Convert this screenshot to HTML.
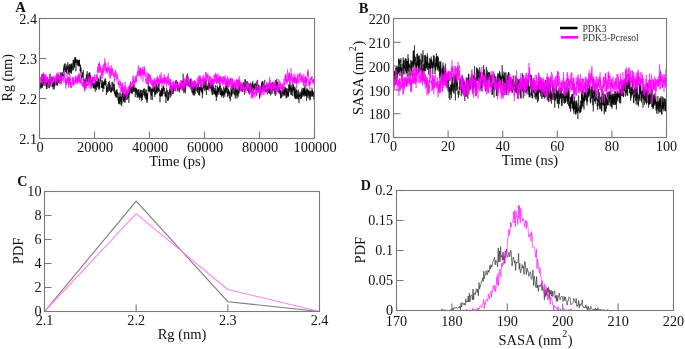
<!DOCTYPE html>
<html><head><meta charset="utf-8"><style>html,body{margin:0;padding:0;background:#fff;width:685px;height:349px;overflow:hidden}svg{display:block;filter:blur(0.35px)}text{font-family:"Liberation Serif",serif}</style></head>
<body><svg width="685" height="349" viewBox="0 0 685 349">
<rect width="685" height="349" fill="#fff"/>
<polyline fill="none" stroke="#000" stroke-width="0.55" stroke-opacity="1.0" stroke-linejoin="round" points="39.5,82.1 39.6,84.0 39.7,84.0 39.8,85.0 39.9,89.3 40.1,83.0 40.2,82.6 40.3,82.4 40.4,82.5 40.5,82.8 40.6,85.0 40.7,83.2 40.8,87.7 40.9,83.5 41.0,88.5 41.2,83.3 41.3,82.3 41.4,84.5 41.5,82.3 41.6,84.5 41.7,84.7 41.8,87.7 41.9,74.1 42.0,80.3 42.1,81.8 42.3,81.2 42.4,80.7 42.5,87.6 42.6,75.1 42.7,84.2 42.8,82.8 42.9,82.6 43.0,86.1 43.1,82.1 43.2,82.9 43.4,83.4 43.5,81.4 43.6,73.7 43.7,75.3 43.8,74.5 43.9,79.4 44.0,80.1 44.1,84.2 44.2,77.9 44.3,78.1 44.5,78.8 44.6,83.7 44.7,79.0 44.8,84.5 44.9,85.8 45.0,85.3 45.1,78.1 45.2,79.2 45.3,83.9 45.4,76.4 45.6,81.7 45.7,78.2 45.8,84.1 45.9,83.3 46.0,81.5 46.1,84.5 46.2,82.8 46.3,83.1 46.4,89.0 46.5,85.7 46.7,85.6 46.8,87.1 46.9,83.9 47.0,89.0 47.1,87.6 47.2,85.5 47.3,84.5 47.4,82.2 47.5,79.8 47.6,78.7 47.8,84.3 47.9,83.9 48.0,79.4 48.1,85.5 48.2,81.2 48.3,81.6 48.4,79.7 48.5,80.6 48.6,86.6 48.7,86.1 48.9,82.9 49.0,87.9 49.1,85.3 49.2,85.2 49.3,88.2 49.4,86.1 49.5,83.4 49.6,79.2 49.7,84.3 49.8,73.8 50.0,78.9 50.1,79.0 50.2,80.8 50.3,84.0 50.4,79.6 50.5,79.1 50.6,79.9 50.7,86.3 50.8,83.4 50.9,81.2 51.1,79.1 51.2,79.5 51.3,80.3 51.4,77.9 51.5,78.4 51.6,77.1 51.7,76.6 51.8,76.6 51.9,80.8 52.0,76.8 52.2,87.2 52.3,85.5 52.4,84.9 52.5,86.7 52.6,79.8 52.7,79.3 52.8,82.3 52.9,85.7 53.0,85.2 53.1,89.3 53.3,86.7 53.4,85.3 53.5,85.4 53.6,83.0 53.7,84.0 53.8,82.9 53.9,81.6 54.0,86.2 54.1,79.4 54.2,89.2 54.4,89.3 54.5,83.4 54.6,86.6 54.7,81.0 54.8,78.5 54.9,83.1 55.0,85.0 55.1,84.4 55.2,80.3 55.3,82.9 55.5,79.4 55.6,82.6 55.7,80.4 55.8,83.5 55.9,80.6 56.0,83.5 56.1,80.7 56.2,79.3 56.3,83.2 56.4,79.8 56.6,80.4 56.7,82.4 56.8,79.0 56.9,85.1 57.0,77.3 57.1,76.7 57.2,85.8 57.3,75.2 57.4,85.3 57.5,82.8 57.7,83.1 57.8,78.2 57.9,80.4 58.0,76.3 58.1,80.1 58.2,76.4 58.3,76.5 58.4,77.4 58.5,79.3 58.6,83.0 58.8,82.0 58.9,78.8 59.0,78.4 59.1,78.8 59.2,82.8 59.3,80.2 59.4,76.9 59.5,75.5 59.6,80.4 59.7,78.0 59.9,79.0 60.0,77.1 60.1,78.0 60.2,78.2 60.3,80.8 60.4,77.7 60.5,78.9 60.6,73.9 60.7,72.4 60.8,77.2 61.0,80.3 61.1,82.3 61.2,78.7 61.3,74.6 61.4,77.6 61.5,77.5 61.6,78.6 61.7,80.7 61.8,74.6 61.9,72.8 62.1,74.9 62.2,72.7 62.3,72.1 62.4,74.8 62.5,74.2 62.6,75.3 62.7,76.4 62.8,74.9 62.9,75.5 63.0,74.7 63.2,74.4 63.3,76.2 63.4,73.2 63.5,67.8 63.6,71.1 63.7,70.5 63.8,71.2 63.9,72.3 64.0,66.4 64.1,65.2 64.3,69.9 64.4,63.7 64.5,66.8 64.6,67.3 64.7,66.9 64.8,66.7 64.9,67.6 65.0,70.5 65.1,66.9 65.3,63.5 65.4,66.5 65.5,67.9 65.6,72.0 65.7,70.5 65.8,67.6 65.9,71.4 66.0,71.7 66.1,69.0 66.2,68.5 66.4,69.5 66.5,73.5 66.6,68.4 66.7,66.3 66.8,69.7 66.9,64.4 67.0,64.3 67.1,67.6 67.2,66.6 67.3,68.1 67.5,67.9 67.6,69.6 67.7,68.7 67.8,66.9 67.9,62.4 68.0,73.9 68.1,71.3 68.2,71.2 68.3,69.5 68.4,68.9 68.6,71.6 68.7,70.9 68.8,65.2 68.9,72.5 69.0,66.4 69.1,69.0 69.2,75.5 69.3,67.0 69.4,69.1 69.5,71.5 69.7,68.4 69.8,63.9 69.9,67.5 70.0,68.6 70.1,64.5 70.2,72.1 70.3,70.4 70.4,73.1 70.5,72.4 70.6,72.5 70.8,68.7 70.9,64.9 71.0,69.2 71.1,66.4 71.2,71.7 71.3,63.8 71.4,68.7 71.5,73.8 71.6,64.2 71.7,64.3 71.9,66.1 72.0,69.4 72.1,63.0 72.2,67.0 72.3,66.4 72.4,65.9 72.5,66.6 72.6,70.6 72.7,70.2 72.8,65.9 73.0,65.2 73.1,64.5 73.2,59.9 73.3,62.2 73.4,64.2 73.5,59.8 73.6,69.9 73.7,61.4 73.8,64.4 73.9,63.7 74.1,62.9 74.2,67.1 74.3,63.2 74.4,61.5 74.5,67.8 74.6,66.1 74.7,59.1 74.8,57.2 74.9,63.4 75.0,61.4 75.2,57.5 75.3,62.6 75.4,58.9 75.5,62.3 75.6,61.9 75.7,57.4 75.8,63.1 75.9,71.3 76.0,63.0 76.1,62.6 76.3,60.8 76.4,61.5 76.5,62.8 76.6,62.7 76.7,59.3 76.8,61.3 76.9,60.8 77.0,61.4 77.1,65.0 77.2,64.0 77.4,61.5 77.5,59.8 77.6,64.4 77.7,60.1 77.8,61.5 77.9,63.6 78.0,64.4 78.1,66.1 78.2,60.0 78.3,66.5 78.5,62.8 78.6,65.1 78.7,61.7 78.8,62.6 78.9,59.9 79.0,64.9 79.1,60.4 79.2,65.5 79.3,60.5 79.4,59.7 79.6,64.0 79.7,66.5 79.8,63.9 79.9,64.7 80.0,65.2 80.1,65.1 80.2,71.4 80.3,68.9 80.4,71.6 80.5,65.1 80.7,68.3 80.8,72.7 80.9,71.4 81.0,67.5 81.1,76.0 81.2,76.2 81.3,75.7 81.4,78.0 81.5,76.6 81.6,76.6 81.8,80.4 81.9,78.3 82.0,76.3 82.1,73.5 82.2,72.8 82.3,72.6 82.4,76.8 82.5,72.3 82.6,75.2 82.7,77.1 82.9,77.6 83.0,77.0 83.1,74.7 83.2,74.3 83.3,69.9 83.4,71.7 83.5,72.4 83.6,77.7 83.7,80.8 83.8,78.6 84.0,79.9 84.1,79.6 84.2,84.6 84.3,81.8 84.4,81.5 84.5,79.8 84.6,83.7 84.7,86.2 84.8,83.1 84.9,83.5 85.1,88.6 85.2,82.7 85.3,87.4 85.4,79.8 85.5,83.5 85.6,84.3 85.7,77.9 85.8,82.9 85.9,82.5 86.0,79.9 86.2,81.8 86.3,79.9 86.4,75.1 86.5,78.3 86.6,74.0 86.7,76.4 86.8,75.1 86.9,79.0 87.0,75.5 87.1,76.1 87.3,71.2 87.4,77.2 87.5,80.9 87.6,74.6 87.7,81.7 87.8,80.0 87.9,74.5 88.0,78.2 88.1,82.7 88.2,81.8 88.4,81.7 88.5,81.9 88.6,76.3 88.7,78.5 88.8,73.4 88.9,74.6 89.0,80.7 89.1,81.0 89.2,80.5 89.3,72.6 89.5,76.4 89.6,74.9 89.7,82.5 89.8,74.0 89.9,72.5 90.0,75.4 90.1,77.9 90.2,75.8 90.3,77.4 90.5,79.2 90.6,79.4 90.7,75.0 90.8,75.7 90.9,82.1 91.0,79.4 91.1,83.6 91.2,85.5 91.3,83.3 91.4,81.1 91.6,84.8 91.7,79.9 91.8,85.7 91.9,82.1 92.0,84.5 92.1,81.0 92.2,78.1 92.3,79.9 92.4,79.9 92.5,79.8 92.7,78.4 92.8,82.4 92.9,85.9 93.0,87.4 93.1,84.4 93.2,82.8 93.3,85.5 93.4,87.8 93.5,83.9 93.6,88.2 93.8,88.3 93.9,85.9 94.0,86.1 94.1,88.5 94.2,85.3 94.3,82.9 94.4,85.8 94.5,86.7 94.6,87.6 94.7,87.4 94.9,84.7 95.0,85.3 95.1,88.5 95.2,91.8 95.3,79.4 95.4,89.1 95.5,85.5 95.6,83.7 95.7,81.4 95.8,82.2 96.0,81.9 96.1,85.5 96.2,84.2 96.3,87.2 96.4,83.3 96.5,90.1 96.6,88.3 96.7,81.1 96.8,86.1 96.9,84.0 97.1,80.8 97.2,84.3 97.3,85.7 97.4,87.3 97.5,82.4 97.6,85.1 97.7,84.6 97.8,84.3 97.9,85.4 98.0,77.5 98.2,80.9 98.3,85.8 98.4,78.8 98.5,81.0 98.6,89.3 98.7,81.6 98.8,85.4 98.9,87.6 99.0,84.4 99.1,87.4 99.3,85.4 99.4,81.9 99.5,89.6 99.6,82.5 99.7,81.9 99.8,82.2 99.9,83.7 100.0,78.8 100.1,80.9 100.2,75.6 100.4,78.9 100.5,78.4 100.6,78.3 100.7,78.6 100.8,81.2 100.9,80.6 101.0,81.9 101.1,80.7 101.2,83.8 101.3,88.0 101.5,83.7 101.6,83.3 101.7,85.3 101.8,87.4 101.9,86.7 102.0,85.2 102.1,82.5 102.2,88.0 102.3,80.2 102.4,87.9 102.6,85.2 102.7,87.0 102.8,85.4 102.9,91.9 103.0,85.4 103.1,82.1 103.2,85.7 103.3,84.4 103.4,86.5 103.5,88.4 103.7,81.9 103.8,87.3 103.9,87.9 104.0,88.9 104.1,81.3 104.2,85.2 104.3,81.2 104.4,80.6 104.5,80.3 104.6,80.4 104.8,82.2 104.9,84.5 105.0,82.5 105.1,78.4 105.2,83.2 105.3,79.1 105.4,80.9 105.5,85.4 105.6,81.2 105.7,84.0 105.9,82.4 106.0,80.9 106.1,85.9 106.2,86.0 106.3,94.2 106.4,95.0 106.5,94.3 106.6,86.6 106.7,91.9 106.8,88.3 107.0,87.7 107.1,86.7 107.2,84.4 107.3,86.7 107.4,88.2 107.5,92.7 107.6,90.9 107.7,88.4 107.8,87.2 107.9,88.8 108.1,91.9 108.2,89.6 108.3,87.6 108.4,82.8 108.5,82.0 108.6,88.7 108.7,89.1 108.8,90.8 108.9,86.8 109.0,85.6 109.2,83.0 109.3,84.3 109.4,80.8 109.5,89.4 109.6,89.6 109.7,90.9 109.8,83.5 109.9,84.3 110.0,90.3 110.1,89.8 110.3,85.0 110.4,87.3 110.5,88.5 110.6,88.3 110.7,91.9 110.8,90.8 110.9,90.3 111.0,92.8 111.1,91.2 111.2,92.0 111.4,87.7 111.5,91.7 111.6,87.5 111.7,89.3 111.8,90.0 111.9,89.4 112.0,81.8 112.1,91.1 112.2,89.7 112.3,89.6 112.5,88.5 112.6,90.4 112.7,90.0 112.8,82.1 112.9,84.0 113.0,85.5 113.1,84.5 113.2,85.1 113.3,88.0 113.4,84.6 113.6,86.0 113.7,86.6 113.8,89.4 113.9,91.7 114.0,88.0 114.1,89.7 114.2,87.7 114.3,93.2 114.4,83.5 114.6,90.6 114.7,94.4 114.8,92.3 114.9,89.7 115.0,89.8 115.1,94.2 115.2,92.9 115.3,96.1 115.4,94.0 115.5,92.2 115.7,92.0 115.8,95.3 115.9,97.6 116.0,93.3 116.1,91.3 116.2,91.2 116.3,93.4 116.4,97.6 116.5,90.2 116.6,93.4 116.8,91.9 116.9,95.3 117.0,89.3 117.1,94.3 117.2,92.6 117.3,92.2 117.4,94.4 117.5,92.9 117.6,96.7 117.7,97.3 117.9,96.3 118.0,100.6 118.1,96.1 118.2,93.1 118.3,95.7 118.4,96.0 118.5,97.8 118.6,103.7 118.7,97.8 118.8,102.0 119.0,101.0 119.1,103.9 119.2,97.2 119.3,97.4 119.4,98.0 119.5,97.0 119.6,104.3 119.7,104.2 119.8,92.3 119.9,97.8 120.1,101.7 120.2,96.4 120.3,99.0 120.4,99.6 120.5,100.1 120.6,101.0 120.7,101.9 120.8,104.7 120.9,93.3 121.0,99.3 121.2,97.1 121.3,101.0 121.4,98.7 121.5,102.3 121.6,100.9 121.7,106.3 121.8,96.5 121.9,99.9 122.0,103.5 122.1,97.9 122.3,97.0 122.4,93.5 122.5,97.5 122.6,95.6 122.7,97.1 122.8,93.6 122.9,94.0 123.0,90.9 123.1,99.7 123.2,91.1 123.4,97.0 123.5,98.5 123.6,101.9 123.7,100.1 123.8,96.1 123.9,100.0 124.0,94.3 124.1,100.8 124.2,98.5 124.3,97.2 124.5,97.2 124.6,99.4 124.7,94.3 124.8,102.6 124.9,96.4 125.0,102.4 125.1,98.4 125.2,99.3 125.3,91.8 125.4,98.6 125.6,95.6 125.7,93.5 125.8,98.6 125.9,94.1 126.0,94.2 126.1,96.0 126.2,95.9 126.3,96.8 126.4,96.8 126.5,99.7 126.7,94.6 126.8,91.7 126.9,96.9 127.0,93.0 127.1,90.2 127.2,90.1 127.3,99.6 127.4,94.3 127.5,98.3 127.6,91.4 127.8,91.4 127.9,96.7 128.0,91.9 128.1,92.3 128.2,93.2 128.3,91.9 128.4,97.6 128.5,93.3 128.6,97.8 128.7,92.0 128.9,102.9 129.0,97.2 129.1,96.8 129.2,88.2 129.3,93.3 129.4,88.7 129.5,88.8 129.6,88.9 129.7,94.4 129.8,91.1 130.0,89.2 130.1,88.1 130.2,88.9 130.3,89.6 130.4,91.0 130.5,89.2 130.6,88.5 130.7,85.2 130.8,91.1 130.9,92.7 131.1,90.2 131.2,93.0 131.3,86.8 131.4,89.0 131.5,91.5 131.6,88.1 131.7,87.1 131.8,91.3 131.9,91.3 132.0,94.1 132.2,90.5 132.3,89.3 132.4,91.2 132.5,93.4 132.6,92.7 132.7,92.0 132.8,87.6 132.9,87.1 133.0,85.2 133.1,91.0 133.3,84.6 133.4,87.4 133.5,91.8 133.6,85.0 133.7,90.1 133.8,85.7 133.9,88.9 134.0,90.8 134.1,87.2 134.2,86.1 134.4,87.2 134.5,89.0 134.6,89.5 134.7,87.3 134.8,91.7 134.9,87.2 135.0,87.7 135.1,92.1 135.2,97.2 135.3,92.3 135.5,93.2 135.6,90.8 135.7,90.8 135.8,88.0 135.9,92.4 136.0,89.5 136.1,89.7 136.2,92.1 136.3,88.1 136.4,94.6 136.6,92.7 136.7,89.7 136.8,92.2 136.9,92.0 137.0,94.9 137.1,94.3 137.2,97.6 137.3,95.9 137.4,96.3 137.5,89.9 137.7,92.7 137.8,97.4 137.9,97.0 138.0,94.2 138.1,92.9 138.2,96.2 138.3,89.2 138.4,91.0 138.5,89.8 138.6,95.3 138.8,89.2 138.9,92.3 139.0,97.5 139.1,94.7 139.2,95.4 139.3,95.3 139.4,95.0 139.5,99.7 139.6,92.7 139.8,93.9 139.9,97.6 140.0,96.2 140.1,90.5 140.2,97.6 140.3,94.8 140.4,95.1 140.5,91.3 140.6,89.7 140.7,94.6 140.9,93.0 141.0,92.6 141.1,89.9 141.2,97.9 141.3,93.8 141.4,101.2 141.5,93.1 141.6,95.8 141.7,97.1 141.8,94.4 142.0,90.4 142.1,91.3 142.2,91.8 142.3,92.7 142.4,100.0 142.5,94.7 142.6,96.9 142.7,95.0 142.8,92.4 142.9,89.9 143.1,93.3 143.2,95.4 143.3,95.0 143.4,94.2 143.5,89.4 143.6,89.5 143.7,90.6 143.8,91.2 143.9,92.5 144.0,88.6 144.2,90.0 144.3,88.5 144.4,93.8 144.5,94.8 144.6,91.6 144.7,96.3 144.8,93.5 144.9,91.5 145.0,93.0 145.1,98.3 145.3,89.5 145.4,94.4 145.5,93.3 145.6,95.9 145.7,94.0 145.8,99.5 145.9,98.6 146.0,95.2 146.1,94.6 146.2,95.8 146.4,96.2 146.5,89.6 146.6,99.5 146.7,95.3 146.8,99.0 146.9,93.9 147.0,103.0 147.1,98.4 147.2,101.2 147.3,93.3 147.5,93.0 147.6,99.2 147.7,96.8 147.8,94.0 147.9,93.6 148.0,92.3 148.1,89.1 148.2,84.1 148.3,82.2 148.4,89.3 148.6,90.5 148.7,86.2 148.8,90.6 148.9,88.3 149.0,88.9 149.1,92.4 149.2,86.5 149.3,90.4 149.4,91.0 149.5,88.2 149.7,90.3 149.8,86.3 149.9,88.6 150.0,90.9 150.1,90.8 150.2,87.1 150.3,92.1 150.4,90.2 150.5,90.9 150.6,89.9 150.8,94.3 150.9,93.4 151.0,99.7 151.1,92.1 151.2,95.5 151.3,93.7 151.4,88.6 151.5,92.7 151.6,96.1 151.7,93.6 151.9,92.0 152.0,88.4 152.1,92.6 152.2,89.8 152.3,100.0 152.4,96.2 152.5,88.9 152.6,90.1 152.7,88.1 152.8,88.4 153.0,89.2 153.1,87.7 153.2,89.8 153.3,91.8 153.4,89.8 153.5,91.5 153.6,88.5 153.7,89.2 153.8,86.8 153.9,90.5 154.1,85.5 154.2,89.3 154.3,87.1 154.4,91.2 154.5,87.5 154.6,93.7 154.7,97.0 154.8,91.9 154.9,85.9 155.0,94.2 155.2,91.2 155.3,93.4 155.4,91.7 155.5,93.3 155.6,94.7 155.7,92.1 155.8,90.3 155.9,91.0 156.0,91.8 156.1,84.2 156.3,89.9 156.4,83.1 156.5,91.8 156.6,93.5 156.7,90.9 156.8,88.0 156.9,91.2 157.0,91.7 157.1,92.8 157.2,91.4 157.4,92.6 157.5,87.0 157.6,89.7 157.7,90.8 157.8,90.2 157.9,85.4 158.0,90.1 158.1,87.6 158.2,91.8 158.3,92.2 158.5,85.5 158.6,85.2 158.7,87.2 158.8,83.4 158.9,85.1 159.0,83.2 159.1,84.9 159.2,91.1 159.3,89.1 159.4,88.8 159.6,95.8 159.7,93.3 159.8,94.8 159.9,95.1 160.0,102.3 160.1,94.7 160.2,95.5 160.3,93.4 160.4,96.5 160.5,96.1 160.7,90.3 160.8,94.1 160.9,96.3 161.0,94.4 161.1,91.2 161.2,96.1 161.3,89.8 161.4,93.8 161.5,92.6 161.6,88.1 161.8,95.6 161.9,90.7 162.0,91.7 162.1,94.5 162.2,89.7 162.3,96.5 162.4,91.5 162.5,89.0 162.6,92.4 162.7,92.4 162.9,87.4 163.0,88.5 163.1,94.1 163.2,91.6 163.3,85.5 163.4,91.2 163.5,88.7 163.6,90.6 163.7,86.5 163.8,87.9 164.0,88.0 164.1,87.7 164.2,91.0 164.3,88.2 164.4,90.2 164.5,90.7 164.6,92.5 164.7,94.3 164.8,93.8 165.0,91.8 165.1,96.5 165.2,94.7 165.3,95.5 165.4,91.6 165.5,96.4 165.6,94.0 165.7,96.4 165.8,95.9 165.9,103.0 166.1,97.9 166.2,93.8 166.3,97.6 166.4,97.4 166.5,97.7 166.6,87.8 166.7,93.2 166.8,92.7 166.9,90.4 167.0,94.8 167.2,97.3 167.3,97.7 167.4,98.3 167.5,97.8 167.6,100.9 167.7,98.6 167.8,90.3 167.9,96.3 168.0,96.9 168.1,100.4 168.3,97.0 168.4,97.1 168.5,100.2 168.6,92.5 168.7,92.0 168.8,95.9 168.9,98.4 169.0,96.1 169.1,96.3 169.2,94.2 169.4,92.0 169.5,92.2 169.6,90.9 169.7,94.9 169.8,89.2 169.9,92.6 170.0,88.2 170.1,86.7 170.2,89.8 170.3,91.6 170.5,97.5 170.6,85.8 170.7,91.7 170.8,94.8 170.9,90.7 171.0,92.9 171.1,89.5 171.2,93.8 171.3,95.3 171.4,85.0 171.6,85.7 171.7,88.1 171.8,90.9 171.9,90.5 172.0,88.9 172.1,92.6 172.2,92.6 172.3,93.2 172.4,93.0 172.5,93.5 172.7,89.8 172.8,93.3 172.9,92.3 173.0,87.3 173.1,94.1 173.2,88.5 173.3,91.0 173.4,88.8 173.5,87.1 173.6,91.1 173.8,87.1 173.9,89.4 174.0,86.1 174.1,89.5 174.2,87.6 174.3,85.8 174.4,85.7 174.5,87.5 174.6,86.9 174.7,86.5 174.9,85.5 175.0,90.7 175.1,89.3 175.2,83.0 175.3,88.0 175.4,86.4 175.5,87.2 175.6,85.6 175.7,80.4 175.8,91.4 176.0,89.4 176.1,83.3 176.2,82.4 176.3,84.3 176.4,80.3 176.5,84.1 176.6,82.9 176.7,80.8 176.8,81.9 176.9,82.1 177.1,82.1 177.2,82.3 177.3,88.1 177.4,86.4 177.5,81.9 177.6,89.5 177.7,84.8 177.8,91.6 177.9,88.0 178.0,89.3 178.2,85.6 178.3,89.1 178.4,87.1 178.5,86.9 178.6,88.6 178.7,86.4 178.8,89.5 178.9,85.0 179.0,86.1 179.1,89.8 179.3,88.2 179.4,90.4 179.5,92.4 179.6,88.3 179.7,88.8 179.8,85.9 179.9,86.1 180.0,85.2 180.1,84.0 180.2,82.4 180.4,83.3 180.5,85.7 180.6,86.3 180.7,88.9 180.8,85.5 180.9,85.1 181.0,88.5 181.1,84.0 181.2,84.6 181.3,86.6 181.5,84.4 181.6,86.3 181.7,83.0 181.8,82.6 181.9,81.4 182.0,87.7 182.1,84.4 182.2,82.6 182.3,80.9 182.4,81.4 182.6,83.9 182.7,90.6 182.8,83.4 182.9,84.7 183.0,83.7 183.1,73.7 183.2,80.1 183.3,87.1 183.4,80.8 183.5,88.6 183.7,86.3 183.8,83.8 183.9,93.2 184.0,88.8 184.1,91.5 184.2,88.5 184.3,86.4 184.4,89.4 184.5,91.1 184.6,90.4 184.8,82.5 184.9,88.3 185.0,84.4 185.1,86.1 185.2,90.7 185.3,82.8 185.4,93.3 185.5,83.5 185.6,82.2 185.7,87.8 185.9,85.2 186.0,84.3 186.1,80.9 186.2,85.2 186.3,82.1 186.4,81.7 186.5,79.8 186.6,76.9 186.7,81.4 186.8,75.3 187.0,79.0 187.1,84.1 187.2,83.7 187.3,78.2 187.4,73.4 187.5,81.0 187.6,81.5 187.7,81.7 187.8,85.2 187.9,85.9 188.1,77.5 188.2,80.6 188.3,79.5 188.4,86.5 188.5,84.9 188.6,80.8 188.7,83.5 188.8,84.3 188.9,80.5 189.0,83.1 189.2,85.9 189.3,84.8 189.4,86.9 189.5,86.4 189.6,82.6 189.7,83.2 189.8,85.9 189.9,87.2 190.0,87.6 190.2,79.0 190.3,84.5 190.4,81.3 190.5,81.9 190.6,83.7 190.7,85.6 190.8,86.2 190.9,78.3 191.0,84.4 191.1,88.3 191.3,86.0 191.4,81.6 191.5,83.9 191.6,85.4 191.7,90.8 191.8,91.3 191.9,85.0 192.0,90.9 192.1,90.0 192.2,93.1 192.4,88.9 192.5,86.4 192.6,88.6 192.7,89.3 192.8,94.6 192.9,88.8 193.0,91.1 193.1,87.9 193.2,86.1 193.3,88.6 193.5,87.9 193.6,93.4 193.7,93.5 193.8,89.3 193.9,94.1 194.0,96.0 194.1,88.1 194.2,88.7 194.3,94.8 194.4,87.4 194.6,91.6 194.7,88.6 194.8,90.2 194.9,85.6 195.0,88.4 195.1,86.8 195.2,94.1 195.3,90.8 195.4,89.2 195.5,90.4 195.7,90.7 195.8,83.4 195.9,85.3 196.0,84.7 196.1,87.1 196.2,85.1 196.3,91.0 196.4,87.9 196.5,89.2 196.6,87.5 196.8,87.1 196.9,87.1 197.0,86.2 197.1,84.8 197.2,89.1 197.3,91.6 197.4,87.7 197.5,92.8 197.6,87.8 197.7,90.0 197.9,88.1 198.0,86.0 198.1,88.4 198.2,85.6 198.3,82.0 198.4,86.3 198.5,85.9 198.6,84.2 198.7,94.9 198.8,88.9 199.0,88.2 199.1,92.1 199.2,94.8 199.3,91.5 199.4,91.7 199.5,87.0 199.6,92.7 199.7,95.7 199.8,92.7 199.9,92.3 200.1,88.7 200.2,85.8 200.3,90.7 200.4,88.5 200.5,87.9 200.6,88.6 200.7,90.2 200.8,88.4 200.9,85.5 201.0,85.7 201.2,83.6 201.3,86.9 201.4,92.2 201.5,89.9 201.6,87.3 201.7,89.0 201.8,92.3 201.9,88.4 202.0,89.3 202.1,89.6 202.3,98.2 202.4,96.0 202.5,92.1 202.6,87.5 202.7,93.8 202.8,91.1 202.9,88.2 203.0,87.1 203.1,87.2 203.2,84.8 203.4,87.6 203.5,85.5 203.6,83.3 203.7,82.9 203.8,78.7 203.9,87.4 204.0,84.9 204.1,83.3 204.2,90.2 204.3,88.3 204.5,85.2 204.6,83.3 204.7,88.7 204.8,90.3 204.9,90.5 205.0,91.2 205.1,90.1 205.2,81.8 205.3,86.8 205.4,81.3 205.6,89.4 205.7,86.7 205.8,87.4 205.9,86.2 206.0,86.7 206.1,86.6 206.2,80.1 206.3,87.0 206.4,94.9 206.5,92.3 206.7,87.9 206.8,89.5 206.9,89.7 207.0,86.7 207.1,88.2 207.2,89.6 207.3,85.8 207.4,88.4 207.5,89.3 207.6,88.5 207.8,87.0 207.9,86.1 208.0,88.2 208.1,85.0 208.2,83.4 208.3,90.1 208.4,84.4 208.5,80.1 208.6,86.9 208.7,87.7 208.9,89.0 209.0,85.5 209.1,87.8 209.2,86.8 209.3,82.6 209.4,87.8 209.5,87.2 209.6,82.8 209.7,85.2 209.8,86.2 210.0,85.4 210.1,86.2 210.2,85.9 210.3,82.3 210.4,87.1 210.5,87.7 210.6,80.3 210.7,84.2 210.8,89.5 210.9,89.0 211.1,82.4 211.2,88.3 211.3,91.9 211.4,91.1 211.5,90.7 211.6,89.1 211.7,88.4 211.8,85.5 211.9,87.9 212.0,94.3 212.2,87.9 212.3,86.5 212.4,90.0 212.5,84.9 212.6,94.9 212.7,91.8 212.8,88.4 212.9,85.7 213.0,83.9 213.1,88.0 213.3,88.3 213.4,84.9 213.5,91.3 213.6,88.4 213.7,85.7 213.8,93.0 213.9,94.3 214.0,91.1 214.1,89.9 214.2,93.5 214.4,90.2 214.5,92.1 214.6,94.0 214.7,88.2 214.8,88.3 214.9,90.2 215.0,91.0 215.1,92.6 215.2,94.7 215.4,90.4 215.5,95.2 215.6,92.6 215.7,85.1 215.8,90.4 215.9,93.3 216.0,96.8 216.1,91.2 216.2,93.9 216.3,100.9 216.5,95.9 216.6,94.5 216.7,90.2 216.8,93.6 216.9,95.3 217.0,91.4 217.1,97.2 217.2,90.6 217.3,85.5 217.4,92.8 217.6,91.2 217.7,89.4 217.8,93.4 217.9,87.5 218.0,90.4 218.1,87.9 218.2,94.8 218.3,88.6 218.4,89.0 218.5,91.5 218.7,88.8 218.8,90.1 218.9,88.8 219.0,92.5 219.1,89.8 219.2,86.8 219.3,89.5 219.4,89.3 219.5,85.9 219.6,88.4 219.8,83.0 219.9,89.1 220.0,89.7 220.1,94.8 220.2,90.1 220.3,92.9 220.4,94.5 220.5,93.1 220.6,85.5 220.7,88.4 220.9,93.0 221.0,94.4 221.1,95.3 221.2,92.9 221.3,88.1 221.4,95.8 221.5,97.2 221.6,92.3 221.7,95.7 221.8,91.7 222.0,94.0 222.1,89.8 222.2,94.9 222.3,90.9 222.4,92.6 222.5,95.3 222.6,94.0 222.7,91.4 222.8,95.9 222.9,93.8 223.1,91.7 223.2,95.2 223.3,95.8 223.4,98.1 223.5,92.6 223.6,94.3 223.7,93.8 223.8,86.4 223.9,93.8 224.0,91.5 224.2,88.5 224.3,92.0 224.4,94.9 224.5,90.4 224.6,90.6 224.7,95.8 224.8,96.8 224.9,96.6 225.0,90.0 225.1,88.9 225.3,89.0 225.4,88.1 225.5,88.1 225.6,93.1 225.7,93.1 225.8,86.0 225.9,92.4 226.0,85.3 226.1,85.7 226.2,84.5 226.4,91.3 226.5,86.7 226.6,87.8 226.7,81.9 226.8,85.4 226.9,88.9 227.0,81.3 227.1,93.3 227.2,90.3 227.3,94.0 227.5,91.6 227.6,96.7 227.7,96.6 227.8,97.3 227.9,87.6 228.0,96.0 228.1,89.5 228.2,93.3 228.3,91.2 228.4,93.4 228.6,89.2 228.7,93.4 228.8,90.7 228.9,93.4 229.0,95.1 229.1,94.4 229.2,91.1 229.3,94.0 229.4,92.2 229.5,94.8 229.7,98.0 229.8,95.2 229.9,97.2 230.0,98.7 230.1,97.0 230.2,101.3 230.3,96.0 230.4,95.4 230.5,93.4 230.6,93.5 230.8,92.6 230.9,91.5 231.0,87.4 231.1,95.7 231.2,92.6 231.3,95.5 231.4,89.6 231.5,94.5 231.6,90.4 231.7,96.9 231.9,93.4 232.0,91.2 232.1,85.2 232.2,87.2 232.3,90.6 232.4,90.6 232.5,92.3 232.6,91.8 232.7,94.3 232.8,89.3 233.0,88.8 233.1,87.1 233.2,84.9 233.3,89.3 233.4,88.2 233.5,87.6 233.6,89.9 233.7,90.8 233.8,93.2 233.9,93.5 234.1,89.1 234.2,89.5 234.3,95.1 234.4,93.5 234.5,95.1 234.6,88.9 234.7,84.1 234.8,83.9 234.9,88.5 235.0,90.8 235.2,98.5 235.3,96.2 235.4,96.2 235.5,96.5 235.6,87.4 235.7,92.2 235.8,91.1 235.9,95.9 236.0,88.7 236.1,88.6 236.3,93.5 236.4,92.6 236.5,91.5 236.6,91.5 236.7,91.1 236.8,90.1 236.9,91.0 237.0,98.7 237.1,89.8 237.2,93.8 237.4,92.5 237.5,88.4 237.6,93.7 237.7,91.9 237.8,95.7 237.9,94.9 238.0,92.7 238.1,91.5 238.2,96.8 238.3,89.4 238.5,93.1 238.6,90.7 238.7,92.4 238.8,91.2 238.9,89.0 239.0,86.4 239.1,93.7 239.2,86.5 239.3,84.1 239.4,88.1 239.6,84.8 239.7,88.6 239.8,86.7 239.9,90.5 240.0,88.0 240.1,85.6 240.2,86.7 240.3,87.5 240.4,82.9 240.6,82.8 240.7,84.9 240.8,87.4 240.9,89.5 241.0,86.3 241.1,87.3 241.2,84.4 241.3,90.4 241.4,91.0 241.5,84.1 241.7,86.9 241.8,86.3 241.9,87.8 242.0,84.7 242.1,84.7 242.2,84.5 242.3,86.9 242.4,89.6 242.5,92.0 242.6,89.8 242.8,87.2 242.9,85.8 243.0,82.8 243.1,89.7 243.2,86.7 243.3,89.0 243.4,88.1 243.5,85.2 243.6,84.2 243.7,83.6 243.9,82.0 244.0,83.2 244.1,87.1 244.2,92.1 244.3,84.9 244.4,86.5 244.5,94.6 244.6,85.8 244.7,85.2 244.8,83.8 245.0,83.4 245.1,79.2 245.2,87.3 245.3,79.6 245.4,82.7 245.5,83.9 245.6,89.3 245.7,87.6 245.8,87.3 245.9,85.4 246.1,90.4 246.2,88.2 246.3,86.7 246.4,85.0 246.5,84.4 246.6,86.0 246.7,81.4 246.8,85.2 246.9,86.5 247.0,88.9 247.2,86.7 247.3,85.9 247.4,87.1 247.5,86.6 247.6,81.3 247.7,90.9 247.8,88.8 247.9,88.1 248.0,84.9 248.1,87.9 248.3,88.2 248.4,92.5 248.5,90.1 248.6,90.3 248.7,83.1 248.8,84.6 248.9,85.5 249.0,86.3 249.1,93.3 249.2,89.5 249.4,85.4 249.5,88.2 249.6,94.0 249.7,88.1 249.8,88.4 249.9,83.9 250.0,86.9 250.1,88.1 250.2,87.3 250.3,89.7 250.5,90.3 250.6,92.4 250.7,82.7 250.8,87.1 250.9,89.0 251.0,88.4 251.1,91.5 251.2,88.1 251.3,88.5 251.4,87.2 251.6,91.3 251.7,85.6 251.8,85.8 251.9,84.7 252.0,89.2 252.1,85.2 252.2,83.3 252.3,88.4 252.4,83.5 252.5,86.0 252.7,80.9 252.8,87.0 252.9,88.0 253.0,85.7 253.1,90.8 253.2,91.6 253.3,89.2 253.4,86.6 253.5,88.8 253.6,89.8 253.8,84.5 253.9,91.1 254.0,87.7 254.1,89.8 254.2,83.7 254.3,87.3 254.4,86.6 254.5,88.7 254.6,88.3 254.7,89.0 254.9,85.0 255.0,85.2 255.1,84.2 255.2,82.7 255.3,85.7 255.4,84.6 255.5,84.0 255.6,85.7 255.7,88.3 255.8,86.3 256.0,86.1 256.1,88.5 256.2,92.8 256.3,85.2 256.4,86.0 256.5,90.0 256.6,84.9 256.7,89.1 256.8,84.6 256.9,81.6 257.1,81.3 257.2,87.3 257.3,80.1 257.4,84.8 257.5,80.0 257.6,88.3 257.7,88.5 257.8,89.0 257.9,92.8 258.0,87.7 258.2,90.3 258.3,88.1 258.4,88.3 258.5,84.7 258.6,91.1 258.7,85.3 258.8,90.0 258.9,89.7 259.0,89.2 259.1,90.8 259.3,89.8 259.4,89.8 259.5,98.8 259.6,89.6 259.7,88.4 259.8,89.9 259.9,90.4 260.0,91.4 260.1,94.5 260.2,95.7 260.4,93.4 260.5,92.2 260.6,88.4 260.7,91.8 260.8,92.3 260.9,87.2 261.0,89.5 261.1,86.0 261.2,87.1 261.3,87.2 261.5,89.7 261.6,82.6 261.7,87.4 261.8,90.0 261.9,89.1 262.0,89.6 262.1,81.3 262.2,85.9 262.3,87.2 262.4,85.8 262.6,81.6 262.7,90.1 262.8,87.9 262.9,81.5 263.0,84.8 263.1,85.2 263.2,89.6 263.3,88.0 263.4,83.7 263.5,83.6 263.7,86.5 263.8,90.1 263.9,85.6 264.0,85.5 264.1,88.6 264.2,88.3 264.3,91.2 264.4,88.6 264.5,89.7 264.7,79.9 264.8,82.8 264.9,84.2 265.0,85.4 265.1,88.9 265.2,87.2 265.3,90.6 265.4,86.3 265.5,91.3 265.6,92.0 265.8,85.4 265.9,86.9 266.0,87.8 266.1,90.7 266.2,90.5 266.3,92.1 266.4,85.5 266.5,90.6 266.6,89.5 266.7,87.0 266.9,88.5 267.0,84.8 267.1,91.1 267.2,89.9 267.3,88.2 267.4,94.4 267.5,88.3 267.6,90.5 267.7,89.1 267.8,85.7 268.0,86.7 268.1,88.9 268.2,85.4 268.3,89.4 268.4,92.7 268.5,90.2 268.6,85.6 268.7,84.2 268.8,88.9 268.9,83.7 269.1,85.6 269.2,93.2 269.3,89.5 269.4,88.9 269.5,86.7 269.6,93.4 269.7,93.8 269.8,86.1 269.9,89.6 270.0,86.0 270.2,89.6 270.3,89.6 270.4,90.5 270.5,86.6 270.6,88.3 270.7,95.5 270.8,90.2 270.9,94.0 271.0,91.0 271.1,88.8 271.3,86.4 271.4,84.9 271.5,83.2 271.6,83.5 271.7,86.0 271.8,89.7 271.9,83.6 272.0,87.3 272.1,83.2 272.2,93.6 272.4,83.8 272.5,85.3 272.6,87.8 272.7,82.0 272.8,83.3 272.9,85.3 273.0,88.0 273.1,84.4 273.2,90.2 273.3,89.8 273.5,88.5 273.6,90.4 273.7,86.7 273.8,85.7 273.9,87.0 274.0,88.2 274.1,85.0 274.2,87.8 274.3,91.1 274.4,87.2 274.6,94.3 274.7,91.1 274.8,91.7 274.9,91.1 275.0,89.5 275.1,87.8 275.2,84.0 275.3,80.0 275.4,95.9 275.5,81.9 275.7,85.2 275.8,83.4 275.9,91.9 276.0,89.5 276.1,89.3 276.2,82.3 276.3,88.1 276.4,83.3 276.5,89.0 276.6,84.9 276.8,79.0 276.9,84.8 277.0,83.5 277.1,92.1 277.2,81.9 277.3,84.0 277.4,84.0 277.5,82.7 277.6,82.5 277.7,86.4 277.9,88.8 278.0,87.4 278.1,88.8 278.2,88.5 278.3,85.6 278.4,87.4 278.5,88.7 278.6,92.5 278.7,92.5 278.8,90.6 279.0,91.9 279.1,88.8 279.2,93.7 279.3,90.4 279.4,89.3 279.5,88.9 279.6,91.9 279.7,86.7 279.8,91.5 279.9,90.9 280.1,91.4 280.2,93.5 280.3,90.1 280.4,95.0 280.5,90.8 280.6,92.2 280.7,98.3 280.8,91.1 280.9,98.2 281.0,95.6 281.2,94.8 281.3,95.0 281.4,91.3 281.5,97.4 281.6,95.3 281.7,96.5 281.8,96.2 281.9,95.6 282.0,93.8 282.1,89.8 282.3,89.9 282.4,89.4 282.5,90.6 282.6,93.9 282.7,88.7 282.8,93.5 282.9,96.4 283.0,92.3 283.1,91.7 283.2,89.9 283.4,93.3 283.5,91.6 283.6,93.4 283.7,92.9 283.8,93.8 283.9,95.4 284.0,89.9 284.1,94.6 284.2,91.3 284.3,89.0 284.5,93.3 284.6,95.2 284.7,94.9 284.8,94.1 284.9,86.9 285.0,95.8 285.1,95.2 285.2,94.2 285.3,87.2 285.4,92.2 285.6,91.8 285.7,90.3 285.8,92.1 285.9,88.0 286.0,96.7 286.1,97.2 286.2,96.2 286.3,98.4 286.4,91.2 286.5,94.1 286.7,91.8 286.8,88.2 286.9,93.8 287.0,97.7 287.1,88.6 287.2,94.4 287.3,93.2 287.4,95.6 287.5,94.8 287.6,94.6 287.8,91.2 287.9,92.7 288.0,96.5 288.1,92.6 288.2,94.0 288.3,89.2 288.4,96.6 288.5,94.7 288.6,94.1 288.7,95.5 288.9,84.2 289.0,90.3 289.1,85.0 289.2,86.9 289.3,86.0 289.4,92.2 289.5,88.0 289.6,88.3 289.7,88.9 289.9,81.9 290.0,86.9 290.1,90.3 290.2,87.5 290.3,89.1 290.4,85.7 290.5,89.3 290.6,87.4 290.7,89.2 290.8,94.6 291.0,89.4 291.1,88.8 291.2,92.0 291.3,88.1 291.4,94.9 291.5,89.8 291.6,90.5 291.7,91.7 291.8,84.4 291.9,88.6 292.1,87.6 292.2,94.2 292.3,94.7 292.4,96.0 292.5,88.8 292.6,89.1 292.7,90.6 292.8,87.5 292.9,83.6 293.0,91.5 293.2,89.3 293.3,89.4 293.4,84.6 293.5,90.1 293.6,88.2 293.7,87.5 293.8,90.5 293.9,87.6 294.0,87.1 294.1,96.4 294.3,92.8 294.4,88.6 294.5,95.1 294.6,92.2 294.7,93.4 294.8,86.5 294.9,97.9 295.0,95.5 295.1,96.5 295.2,98.6 295.4,91.1 295.5,99.1 295.6,97.6 295.7,95.3 295.8,88.3 295.9,98.4 296.0,92.2 296.1,92.8 296.2,90.5 296.3,97.2 296.5,96.4 296.6,99.0 296.7,94.3 296.8,89.6 296.9,93.2 297.0,90.8 297.1,95.9 297.2,94.3 297.3,94.9 297.4,97.8 297.6,98.1 297.7,96.7 297.8,93.5 297.9,99.4 298.0,95.9 298.1,96.7 298.2,96.3 298.3,95.1 298.4,89.7 298.5,98.5 298.7,99.4 298.8,97.8 298.9,100.1 299.0,103.2 299.1,94.6 299.2,97.0 299.3,97.6 299.4,94.7 299.5,95.1 299.6,97.1 299.8,95.3 299.9,92.5 300.0,93.8 300.1,95.4 300.2,91.6 300.3,95.7 300.4,94.7 300.5,96.7 300.6,98.2 300.7,99.2 300.9,97.1 301.0,98.5 301.1,98.1 301.2,95.1 301.3,97.7 301.4,93.0 301.5,98.3 301.6,93.3 301.7,89.6 301.8,92.1 302.0,95.0 302.1,95.2 302.2,87.8 302.3,96.8 302.4,92.0 302.5,92.3 302.6,91.9 302.7,91.0 302.8,91.1 302.9,94.9 303.1,93.8 303.2,92.9 303.3,94.0 303.4,92.3 303.5,89.0 303.6,92.1 303.7,95.1 303.8,88.0 303.9,95.8 304.0,87.9 304.2,96.8 304.3,92.0 304.4,87.6 304.5,92.9 304.6,93.5 304.7,90.4 304.8,92.1 304.9,93.0 305.0,84.3 305.1,95.3 305.3,92.6 305.4,93.2 305.5,95.3 305.6,92.7 305.7,89.7 305.8,95.8 305.9,91.6 306.0,94.0 306.1,92.9 306.2,96.0 306.4,93.0 306.5,100.7 306.6,91.2 306.7,94.9 306.8,87.8 306.9,92.2 307.0,90.3 307.1,93.0 307.2,91.3 307.3,96.5 307.5,97.9 307.6,89.6 307.7,92.9 307.8,89.2 307.9,90.0 308.0,93.3 308.1,95.7 308.2,94.8 308.3,92.4 308.4,94.9 308.6,90.1 308.7,91.1 308.8,94.6 308.9,90.6 309.0,98.4 309.1,95.5 309.2,94.5 309.3,96.6 309.4,92.5 309.5,95.9 309.7,90.8 309.8,95.5 309.9,96.7 310.0,100.3 310.1,95.9 310.2,99.8 310.3,94.7 310.4,92.1 310.5,95.5 310.6,93.1 310.8,90.8 310.9,95.7 311.0,90.9 311.1,93.2 311.2,94.9 311.3,96.7 311.4,93.9 311.5,94.1 311.6,94.1 311.7,93.8 311.9,91.5 312.0,87.7 312.1,92.5 312.2,96.2 312.3,90.1 312.4,93.4 312.5,96.4 312.6,94.7 312.7,90.9 312.8,94.5 313.0,94.4 313.1,91.9 313.2,95.5 313.3,92.1 313.4,92.7 313.5,93.2 313.6,96.0 313.7,96.8 313.8,95.0 313.9,99.3 314.1,98.2 314.2,96.4 314.3,98.0 314.4,99.5 314.5,97.3"/>
<polyline fill="none" stroke="#ff00ff" stroke-width="0.55" stroke-opacity="1.0" stroke-linejoin="round" points="39.5,78.3 39.6,78.7 39.7,78.2 39.8,81.7 39.9,80.9 40.1,81.1 40.2,77.3 40.3,77.9 40.4,77.7 40.5,79.3 40.6,79.1 40.7,84.5 40.8,77.1 40.9,81.1 41.0,79.9 41.2,80.5 41.3,78.9 41.4,81.2 41.5,77.8 41.6,76.0 41.7,80.1 41.8,79.8 41.9,74.5 42.0,84.2 42.1,77.8 42.3,83.4 42.4,82.5 42.5,81.6 42.6,76.9 42.7,73.6 42.8,74.5 42.9,80.3 43.0,74.5 43.1,76.0 43.2,73.3 43.4,74.1 43.5,77.7 43.6,72.5 43.7,75.6 43.8,75.1 43.9,77.1 44.0,77.7 44.1,75.1 44.2,75.3 44.3,75.8 44.5,84.3 44.6,80.2 44.7,79.6 44.8,79.6 44.9,77.6 45.0,84.2 45.1,79.0 45.2,74.8 45.3,86.4 45.4,73.8 45.6,74.4 45.7,75.4 45.8,80.3 45.9,77.6 46.0,78.0 46.1,82.0 46.2,81.5 46.3,79.0 46.4,75.5 46.5,80.7 46.7,78.2 46.8,81.9 46.9,81.3 47.0,77.0 47.1,81.7 47.2,78.6 47.3,80.0 47.4,77.5 47.5,81.3 47.6,76.8 47.8,81.0 47.9,80.5 48.0,81.1 48.1,80.6 48.2,80.9 48.3,83.5 48.4,86.2 48.5,85.5 48.6,79.1 48.7,78.9 48.9,87.1 49.0,85.2 49.1,83.1 49.2,82.6 49.3,81.8 49.4,76.9 49.5,80.0 49.6,85.4 49.7,83.9 49.8,78.0 50.0,78.5 50.1,78.0 50.2,74.6 50.3,73.5 50.4,76.5 50.5,79.6 50.6,83.4 50.7,80.7 50.8,79.1 50.9,77.7 51.1,83.6 51.2,81.7 51.3,77.9 51.4,77.1 51.5,77.3 51.6,79.7 51.7,80.6 51.8,80.3 51.9,77.8 52.0,80.5 52.2,79.4 52.3,81.9 52.4,78.8 52.5,78.8 52.6,83.4 52.7,79.6 52.8,79.0 52.9,80.8 53.0,78.0 53.1,80.2 53.3,76.0 53.4,75.7 53.5,81.4 53.6,79.6 53.7,82.0 53.8,81.2 53.9,77.1 54.0,78.6 54.1,78.2 54.2,79.2 54.4,78.6 54.5,78.5 54.6,79.8 54.7,77.2 54.8,81.9 54.9,80.5 55.0,79.9 55.1,75.4 55.2,80.3 55.3,78.3 55.5,84.9 55.6,79.2 55.7,85.6 55.8,80.5 55.9,78.2 56.0,82.4 56.1,81.6 56.2,78.1 56.3,75.6 56.4,78.2 56.6,74.0 56.7,75.3 56.8,72.9 56.9,76.0 57.0,75.2 57.1,78.9 57.2,80.4 57.3,82.6 57.4,81.5 57.5,77.5 57.7,82.6 57.8,77.0 57.9,72.6 58.0,73.0 58.1,75.0 58.2,77.4 58.3,78.9 58.4,74.0 58.5,78.8 58.6,77.4 58.8,79.2 58.9,74.6 59.0,75.8 59.1,72.4 59.2,78.3 59.3,75.9 59.4,79.4 59.5,80.9 59.6,78.1 59.7,83.2 59.9,84.2 60.0,80.2 60.1,84.1 60.2,77.1 60.3,75.4 60.4,78.8 60.5,84.4 60.6,80.2 60.7,76.4 60.8,78.3 61.0,81.2 61.1,77.3 61.2,78.4 61.3,75.8 61.4,83.8 61.5,82.7 61.6,75.5 61.7,74.1 61.8,80.2 61.9,79.2 62.1,79.1 62.2,79.0 62.3,78.2 62.4,79.3 62.5,80.1 62.6,80.9 62.7,80.1 62.8,76.5 62.9,76.6 63.0,76.3 63.2,78.9 63.3,76.5 63.4,76.2 63.5,77.7 63.6,76.9 63.7,79.3 63.8,83.1 63.9,82.9 64.0,77.7 64.1,78.0 64.3,76.0 64.4,75.9 64.5,77.7 64.6,70.2 64.7,75.9 64.8,76.0 64.9,73.4 65.0,79.4 65.1,80.9 65.3,79.4 65.4,82.1 65.5,79.4 65.6,82.3 65.7,84.5 65.8,79.0 65.9,88.7 66.0,77.9 66.1,84.3 66.2,81.5 66.4,82.5 66.5,82.2 66.6,82.4 66.7,84.6 66.8,80.1 66.9,78.9 67.0,81.6 67.1,77.5 67.2,73.1 67.3,77.0 67.5,77.1 67.6,78.2 67.7,83.0 67.8,80.7 67.9,79.6 68.0,79.7 68.1,76.4 68.2,79.0 68.3,85.3 68.4,77.4 68.6,87.7 68.7,83.8 68.8,82.3 68.9,81.3 69.0,77.3 69.1,82.7 69.2,80.3 69.3,77.1 69.4,79.5 69.5,84.6 69.7,78.1 69.8,76.8 69.9,81.0 70.0,75.9 70.1,81.0 70.2,87.0 70.3,83.4 70.4,79.0 70.5,85.2 70.6,81.3 70.8,87.4 70.9,85.0 71.0,84.8 71.1,82.3 71.2,88.2 71.3,86.3 71.4,87.8 71.5,87.5 71.6,86.9 71.7,84.4 71.9,82.8 72.0,78.5 72.1,81.8 72.2,81.6 72.3,85.3 72.4,84.8 72.5,76.8 72.6,78.5 72.7,80.3 72.8,80.7 73.0,81.9 73.1,81.2 73.2,77.6 73.3,78.3 73.4,85.6 73.5,77.6 73.6,84.2 73.7,83.4 73.8,84.5 73.9,81.9 74.1,81.8 74.2,84.9 74.3,82.6 74.4,81.2 74.5,80.5 74.6,80.2 74.7,81.3 74.8,80.7 74.9,81.0 75.0,79.6 75.2,76.3 75.3,80.2 75.4,83.5 75.5,80.7 75.6,82.6 75.7,75.6 75.8,82.3 75.9,76.5 76.0,83.0 76.1,79.8 76.3,80.2 76.4,81.2 76.5,78.7 76.6,79.2 76.7,80.3 76.8,82.2 76.9,84.5 77.0,77.9 77.1,78.9 77.2,80.9 77.4,77.9 77.5,76.6 77.6,81.3 77.7,78.1 77.8,83.5 77.9,75.4 78.0,83.2 78.1,83.0 78.2,79.9 78.3,81.0 78.5,74.4 78.6,81.0 78.7,79.5 78.8,77.0 78.9,81.1 79.0,73.1 79.1,80.5 79.2,78.8 79.3,78.7 79.4,75.2 79.6,81.9 79.7,78.8 79.8,81.7 79.9,83.8 80.0,79.3 80.1,72.5 80.2,79.6 80.3,80.8 80.4,80.8 80.5,82.1 80.7,80.5 80.8,83.7 80.9,83.0 81.0,79.5 81.1,83.0 81.2,78.8 81.3,81.8 81.4,81.4 81.5,82.4 81.6,83.4 81.8,84.2 81.9,86.0 82.0,84.4 82.1,83.5 82.2,85.4 82.3,85.7 82.4,84.9 82.5,85.4 82.6,84.2 82.7,82.8 82.9,84.2 83.0,81.7 83.1,86.6 83.2,87.1 83.3,79.1 83.4,85.7 83.5,83.8 83.6,83.7 83.7,87.5 83.8,82.5 84.0,85.8 84.1,84.5 84.2,80.5 84.3,90.3 84.4,84.8 84.5,83.3 84.6,83.5 84.7,91.7 84.8,83.6 84.9,89.5 85.1,83.1 85.2,86.5 85.3,83.5 85.4,86.5 85.5,81.7 85.6,87.3 85.7,81.1 85.8,78.1 85.9,83.5 86.0,85.6 86.2,86.5 86.3,86.0 86.4,84.5 86.5,88.8 86.6,88.5 86.7,83.3 86.8,85.0 86.9,82.6 87.0,85.0 87.1,86.0 87.3,83.2 87.4,83.7 87.5,86.0 87.6,84.1 87.7,86.0 87.8,73.4 87.9,79.7 88.0,79.8 88.1,83.0 88.2,82.3 88.4,80.4 88.5,85.1 88.6,85.1 88.7,78.0 88.8,82.0 88.9,75.9 89.0,84.8 89.1,88.2 89.2,84.6 89.3,80.2 89.5,80.9 89.6,79.4 89.7,83.2 89.8,84.1 89.9,82.0 90.0,81.6 90.1,76.5 90.2,75.7 90.3,80.8 90.5,81.7 90.6,84.8 90.7,83.2 90.8,89.1 90.9,80.6 91.0,78.5 91.1,84.4 91.2,81.7 91.3,86.9 91.4,88.5 91.6,86.0 91.7,84.1 91.8,77.2 91.9,85.4 92.0,81.9 92.1,83.8 92.2,84.2 92.3,82.2 92.4,78.4 92.5,79.3 92.7,76.4 92.8,80.9 92.9,79.3 93.0,78.9 93.1,76.9 93.2,79.1 93.3,77.5 93.4,79.6 93.5,77.0 93.6,81.1 93.8,78.8 93.9,79.9 94.0,81.7 94.1,82.0 94.2,81.2 94.3,82.8 94.4,76.0 94.5,77.9 94.6,80.1 94.7,74.1 94.9,77.0 95.0,84.3 95.1,80.2 95.2,79.8 95.3,80.5 95.4,81.0 95.5,81.7 95.6,80.2 95.7,80.8 95.8,82.3 96.0,77.0 96.1,77.7 96.2,78.6 96.3,75.8 96.4,74.9 96.5,76.2 96.6,77.1 96.7,80.8 96.8,74.3 96.9,74.1 97.1,78.1 97.2,77.2 97.3,79.6 97.4,76.4 97.5,69.7 97.6,70.9 97.7,66.9 97.8,71.4 97.9,72.4 98.0,70.6 98.2,67.4 98.3,63.6 98.4,66.4 98.5,64.1 98.6,64.9 98.7,67.9 98.8,72.8 98.9,67.0 99.0,69.4 99.1,67.5 99.3,72.5 99.4,65.7 99.5,61.7 99.6,65.2 99.7,67.4 99.8,64.5 99.9,70.0 100.0,65.0 100.1,72.6 100.2,68.3 100.4,71.7 100.5,69.5 100.6,70.5 100.7,71.0 100.8,67.1 100.9,69.4 101.0,74.4 101.1,79.0 101.2,75.3 101.3,74.7 101.5,76.2 101.6,71.2 101.7,71.3 101.8,68.2 101.9,73.3 102.0,71.8 102.1,71.1 102.2,78.6 102.3,70.7 102.4,72.9 102.6,70.9 102.7,71.5 102.8,71.0 102.9,65.3 103.0,69.9 103.1,74.1 103.2,75.6 103.3,69.1 103.4,72.5 103.5,71.4 103.7,68.8 103.8,64.3 103.9,70.6 104.0,67.1 104.1,70.8 104.2,69.0 104.3,63.3 104.4,64.9 104.5,67.3 104.6,67.4 104.8,58.0 104.9,65.2 105.0,61.7 105.1,63.9 105.2,64.0 105.3,69.5 105.4,68.7 105.5,73.1 105.6,71.0 105.7,66.5 105.9,63.3 106.0,68.5 106.1,68.0 106.2,70.2 106.3,67.7 106.4,67.2 106.5,70.8 106.6,69.7 106.7,67.9 106.8,72.0 107.0,68.1 107.1,69.6 107.2,74.2 107.3,70.3 107.4,67.7 107.5,70.3 107.6,69.2 107.7,72.4 107.8,67.0 107.9,65.9 108.1,64.2 108.2,62.1 108.3,67.3 108.4,70.1 108.5,67.3 108.6,68.3 108.7,69.1 108.8,70.6 108.9,69.0 109.0,69.4 109.2,74.3 109.3,71.2 109.4,69.4 109.5,69.0 109.6,73.5 109.7,66.1 109.8,75.0 109.9,74.2 110.0,78.0 110.1,74.8 110.3,78.5 110.4,74.0 110.5,67.7 110.6,67.6 110.7,71.0 110.8,73.2 110.9,73.4 111.0,76.0 111.1,74.5 111.2,65.2 111.4,71.5 111.5,72.2 111.6,72.9 111.7,68.5 111.8,75.3 111.9,71.3 112.0,75.2 112.1,69.2 112.2,72.0 112.3,68.6 112.5,69.6 112.6,70.3 112.7,68.1 112.8,73.2 112.9,73.8 113.0,74.7 113.1,75.6 113.2,71.5 113.3,72.9 113.4,74.3 113.6,73.4 113.7,76.8 113.8,77.0 113.9,74.5 114.0,76.6 114.1,79.2 114.2,79.4 114.3,82.2 114.4,77.3 114.6,73.4 114.7,77.6 114.8,80.2 114.9,77.4 115.0,72.4 115.1,74.1 115.2,75.4 115.3,73.7 115.4,69.6 115.5,73.1 115.7,77.3 115.8,76.8 115.9,76.6 116.0,72.6 116.1,71.7 116.2,74.1 116.3,74.4 116.4,74.4 116.5,74.1 116.6,79.7 116.8,81.4 116.9,77.5 117.0,77.7 117.1,76.2 117.2,79.4 117.3,73.8 117.4,75.5 117.5,74.9 117.6,77.5 117.7,76.9 117.9,78.5 118.0,84.0 118.1,83.0 118.2,84.6 118.3,84.1 118.4,81.7 118.5,84.1 118.6,85.2 118.7,81.4 118.8,81.5 119.0,82.1 119.1,85.2 119.2,85.8 119.3,87.9 119.4,87.7 119.5,84.5 119.6,85.4 119.7,79.8 119.8,79.4 119.9,82.3 120.1,82.7 120.2,82.5 120.3,81.8 120.4,83.9 120.5,85.8 120.6,83.8 120.7,81.8 120.8,92.9 120.9,90.8 121.0,82.9 121.2,89.8 121.3,87.1 121.4,91.8 121.5,87.6 121.6,89.8 121.7,88.4 121.8,91.2 121.9,90.2 122.0,90.6 122.1,84.0 122.3,89.0 122.4,84.7 122.5,91.4 122.6,85.2 122.7,82.5 122.8,89.3 122.9,85.6 123.0,91.6 123.1,87.9 123.2,92.4 123.4,87.5 123.5,94.3 123.6,92.2 123.7,92.4 123.8,91.0 123.9,96.9 124.0,88.5 124.1,90.7 124.2,89.5 124.3,94.0 124.5,87.4 124.6,86.2 124.7,92.2 124.8,89.5 124.9,85.4 125.0,88.9 125.1,88.1 125.2,81.9 125.3,89.5 125.4,90.8 125.6,89.8 125.7,94.3 125.8,94.0 125.9,95.4 126.0,90.0 126.1,88.6 126.2,99.1 126.3,94.4 126.4,94.5 126.5,91.1 126.7,91.0 126.8,95.2 126.9,87.1 127.0,90.9 127.1,95.0 127.2,90.3 127.3,98.0 127.4,95.5 127.5,90.7 127.6,95.1 127.8,93.5 127.9,91.9 128.0,92.7 128.1,87.4 128.2,88.5 128.3,91.5 128.4,88.6 128.5,87.5 128.6,93.5 128.7,86.0 128.9,87.6 129.0,89.0 129.1,87.2 129.2,90.0 129.3,87.4 129.4,91.7 129.5,86.1 129.6,84.5 129.7,88.7 129.8,88.1 130.0,89.3 130.1,89.0 130.2,87.7 130.3,81.8 130.4,87.2 130.5,81.9 130.6,83.9 130.7,81.6 130.8,87.1 130.9,87.5 131.1,86.1 131.2,87.4 131.3,83.9 131.4,83.2 131.5,84.3 131.6,84.4 131.7,83.8 131.8,85.8 131.9,86.0 132.0,83.9 132.2,84.2 132.3,82.6 132.4,81.2 132.5,83.5 132.6,81.0 132.7,79.5 132.8,75.8 132.9,85.0 133.0,85.4 133.1,81.1 133.3,82.8 133.4,83.5 133.5,86.5 133.6,86.9 133.7,79.1 133.8,82.0 133.9,76.2 134.0,80.3 134.1,83.5 134.2,82.5 134.4,81.3 134.5,83.1 134.6,88.1 134.7,80.5 134.8,81.4 134.9,83.1 135.0,83.1 135.1,79.8 135.2,83.0 135.3,80.3 135.5,76.5 135.6,77.4 135.7,77.9 135.8,79.7 135.9,79.0 136.0,82.1 136.1,75.5 136.2,80.9 136.3,77.6 136.4,82.2 136.6,80.6 136.7,76.0 136.8,75.8 136.9,74.7 137.0,74.2 137.1,75.5 137.2,76.9 137.3,73.9 137.4,72.1 137.5,73.3 137.7,71.1 137.8,75.2 137.9,76.3 138.0,76.2 138.1,75.5 138.2,69.5 138.3,65.2 138.4,73.4 138.5,73.3 138.6,75.6 138.8,73.8 138.9,70.3 139.0,72.7 139.1,73.3 139.2,70.7 139.3,67.3 139.4,75.0 139.5,74.8 139.6,72.2 139.8,76.7 139.9,72.6 140.0,69.6 140.1,72.1 140.2,76.2 140.3,67.8 140.4,72.8 140.5,68.6 140.6,73.8 140.7,69.4 140.9,71.3 141.0,73.3 141.1,79.4 141.2,68.6 141.3,73.4 141.4,71.7 141.5,75.2 141.6,73.5 141.7,69.8 141.8,72.5 142.0,70.4 142.1,69.2 142.2,71.4 142.3,69.9 142.4,70.0 142.5,67.2 142.6,72.4 142.7,74.5 142.8,69.7 142.9,82.2 143.1,76.1 143.2,74.2 143.3,71.7 143.4,72.0 143.5,73.5 143.6,75.2 143.7,70.7 143.8,69.2 143.9,74.7 144.0,66.7 144.2,75.0 144.3,70.3 144.4,66.4 144.5,68.4 144.6,74.5 144.7,71.0 144.8,69.0 144.9,76.9 145.0,77.2 145.1,74.5 145.3,73.5 145.4,74.0 145.5,76.0 145.6,76.0 145.7,80.0 145.8,81.6 145.9,82.3 146.0,77.6 146.1,81.1 146.2,84.2 146.4,81.7 146.5,83.7 146.6,79.7 146.7,80.5 146.8,81.4 146.9,80.0 147.0,71.9 147.1,75.4 147.2,73.9 147.3,74.1 147.5,79.1 147.6,76.3 147.7,84.2 147.8,77.9 147.9,77.8 148.0,73.2 148.1,75.3 148.2,78.5 148.3,75.7 148.4,81.8 148.6,78.6 148.7,78.4 148.8,74.9 148.9,73.4 149.0,81.2 149.1,74.2 149.2,76.4 149.3,77.5 149.4,75.4 149.5,76.4 149.7,75.3 149.8,82.6 149.9,82.6 150.0,74.8 150.1,80.5 150.2,83.7 150.3,82.8 150.4,81.1 150.5,77.6 150.6,75.9 150.8,79.4 150.9,81.3 151.0,84.6 151.1,84.7 151.2,81.2 151.3,82.6 151.4,79.8 151.5,78.0 151.6,80.1 151.7,85.1 151.9,84.6 152.0,81.9 152.1,81.9 152.2,88.2 152.3,85.2 152.4,82.2 152.5,79.8 152.6,82.3 152.7,85.9 152.8,82.3 153.0,84.9 153.1,80.9 153.2,89.6 153.3,82.7 153.4,87.5 153.5,80.3 153.6,82.4 153.7,84.5 153.8,80.9 153.9,78.9 154.1,87.5 154.2,83.3 154.3,82.7 154.4,84.0 154.5,84.3 154.6,79.5 154.7,82.6 154.8,77.7 154.9,83.4 155.0,84.4 155.2,80.6 155.3,82.2 155.4,83.7 155.5,86.7 155.6,84.6 155.7,83.1 155.8,82.4 155.9,79.8 156.0,82.6 156.1,80.3 156.3,80.1 156.4,82.8 156.5,80.8 156.6,79.8 156.7,78.9 156.8,80.4 156.9,81.4 157.0,79.4 157.1,76.5 157.2,80.3 157.4,82.8 157.5,77.8 157.6,79.0 157.7,76.0 157.8,88.2 157.9,79.4 158.0,79.2 158.1,83.7 158.2,82.6 158.3,84.0 158.5,78.3 158.6,80.3 158.7,79.9 158.8,80.3 158.9,84.0 159.0,81.0 159.1,78.9 159.2,82.4 159.3,80.2 159.4,83.8 159.6,81.9 159.7,79.4 159.8,74.4 159.9,75.7 160.0,77.9 160.1,79.1 160.2,75.9 160.3,81.9 160.4,83.5 160.5,80.3 160.7,82.8 160.8,81.1 160.9,83.5 161.0,77.9 161.1,80.6 161.2,72.3 161.3,77.3 161.4,83.5 161.5,79.8 161.6,81.2 161.8,78.7 161.9,87.8 162.0,85.2 162.1,82.0 162.2,82.4 162.3,80.2 162.4,78.9 162.5,83.4 162.6,80.0 162.7,77.5 162.9,83.4 163.0,81.7 163.1,79.0 163.2,82.3 163.3,80.4 163.4,80.2 163.5,78.6 163.6,79.7 163.7,80.7 163.8,78.7 164.0,85.6 164.1,78.7 164.2,74.2 164.3,83.7 164.4,76.4 164.5,81.8 164.6,84.1 164.7,78.9 164.8,77.0 165.0,80.6 165.1,81.5 165.2,82.6 165.3,80.5 165.4,81.3 165.5,77.1 165.6,82.2 165.7,81.9 165.8,83.6 165.9,83.4 166.1,79.8 166.2,80.6 166.3,77.2 166.4,83.3 166.5,87.3 166.6,83.9 166.7,82.6 166.8,83.3 166.9,82.5 167.0,79.9 167.2,82.9 167.3,82.2 167.4,83.9 167.5,78.5 167.6,77.4 167.7,76.3 167.8,78.9 167.9,76.6 168.0,84.5 168.1,80.3 168.3,73.3 168.4,85.6 168.5,82.0 168.6,81.0 168.7,82.3 168.8,79.8 168.9,79.7 169.0,80.1 169.1,81.2 169.2,82.5 169.4,85.5 169.5,82.4 169.6,83.2 169.7,83.1 169.8,78.5 169.9,80.9 170.0,82.3 170.1,87.7 170.2,78.9 170.3,84.8 170.5,80.0 170.6,90.5 170.7,79.1 170.8,80.8 170.9,84.8 171.0,82.4 171.1,87.7 171.2,88.5 171.3,91.0 171.4,96.1 171.6,86.2 171.7,89.8 171.8,88.7 171.9,87.3 172.0,89.9 172.1,92.9 172.2,83.3 172.3,91.2 172.4,84.8 172.5,83.2 172.7,81.6 172.8,88.7 172.9,85.4 173.0,85.9 173.1,85.0 173.2,86.4 173.3,85.6 173.4,86.9 173.5,80.7 173.6,85.1 173.8,88.5 173.9,85.4 174.0,81.1 174.1,85.4 174.2,86.4 174.3,89.8 174.4,89.1 174.5,89.6 174.6,87.1 174.7,88.9 174.9,87.6 175.0,87.9 175.1,84.1 175.2,89.1 175.3,86.5 175.4,83.0 175.5,90.6 175.6,84.5 175.7,86.7 175.8,87.4 176.0,84.9 176.1,84.8 176.2,86.9 176.3,81.9 176.4,79.8 176.5,86.7 176.6,84.6 176.7,82.0 176.8,88.2 176.9,82.9 177.1,86.7 177.2,86.2 177.3,86.8 177.4,87.7 177.5,87.2 177.6,83.4 177.7,86.1 177.8,87.6 177.9,86.9 178.0,85.3 178.2,84.8 178.3,90.8 178.4,87.3 178.5,87.8 178.6,88.9 178.7,84.2 178.8,88.4 178.9,87.0 179.0,87.1 179.1,82.1 179.3,86.5 179.4,83.9 179.5,85.0 179.6,85.3 179.7,87.3 179.8,85.3 179.9,86.4 180.0,86.5 180.1,86.5 180.2,86.6 180.4,83.4 180.5,85.8 180.6,89.9 180.7,82.6 180.8,80.3 180.9,88.0 181.0,80.3 181.1,81.6 181.2,80.8 181.3,82.3 181.5,81.9 181.6,84.7 181.7,82.8 181.8,81.9 181.9,90.5 182.0,83.5 182.1,85.8 182.2,80.8 182.3,81.6 182.4,84.4 182.6,86.3 182.7,82.7 182.8,87.6 182.9,84.9 183.0,83.1 183.1,87.0 183.2,84.9 183.3,79.3 183.4,85.3 183.5,82.1 183.7,85.1 183.8,84.5 183.9,90.6 184.0,85.9 184.1,90.8 184.2,86.2 184.3,83.2 184.4,86.0 184.5,80.7 184.6,78.4 184.8,82.7 184.9,87.7 185.0,87.4 185.1,81.1 185.2,77.8 185.3,84.7 185.4,80.2 185.5,82.2 185.6,83.8 185.7,81.7 185.9,80.6 186.0,81.9 186.1,85.6 186.2,81.3 186.3,82.5 186.4,83.7 186.5,81.8 186.6,80.3 186.7,76.4 186.8,80.6 187.0,75.2 187.1,81.2 187.2,85.7 187.3,85.1 187.4,76.6 187.5,85.1 187.6,84.9 187.7,84.1 187.8,85.2 187.9,84.7 188.1,83.4 188.2,82.2 188.3,81.6 188.4,85.6 188.5,76.3 188.6,83.2 188.7,80.5 188.8,81.5 188.9,80.6 189.0,81.4 189.2,79.7 189.3,80.1 189.4,87.1 189.5,82.2 189.6,86.7 189.7,85.5 189.8,84.3 189.9,85.2 190.0,85.9 190.2,87.3 190.3,86.3 190.4,85.9 190.5,89.1 190.6,86.2 190.7,87.5 190.8,84.6 190.9,85.4 191.0,88.6 191.1,87.0 191.3,80.5 191.4,84.1 191.5,82.0 191.6,85.0 191.7,81.2 191.8,79.3 191.9,81.9 192.0,81.8 192.1,91.0 192.2,82.2 192.4,85.5 192.5,81.3 192.6,84.7 192.7,84.8 192.8,84.4 192.9,87.0 193.0,83.2 193.1,81.5 193.2,84.2 193.3,83.6 193.5,82.5 193.6,88.5 193.7,81.5 193.8,81.1 193.9,81.0 194.0,86.0 194.1,81.1 194.2,81.8 194.3,80.2 194.4,84.9 194.6,82.9 194.7,82.9 194.8,86.1 194.9,80.7 195.0,84.9 195.1,85.4 195.2,81.1 195.3,82.8 195.4,84.1 195.5,81.7 195.7,80.9 195.8,85.0 195.9,90.9 196.0,89.2 196.1,86.6 196.2,86.8 196.3,83.9 196.4,88.6 196.5,85.4 196.6,86.9 196.8,85.5 196.9,87.0 197.0,86.2 197.1,77.5 197.2,80.1 197.3,84.2 197.4,86.9 197.5,85.5 197.6,87.0 197.7,82.6 197.9,86.3 198.0,86.7 198.1,86.3 198.2,81.7 198.3,79.0 198.4,82.8 198.5,80.6 198.6,81.8 198.7,75.8 198.8,81.4 199.0,81.3 199.1,84.5 199.2,81.7 199.3,75.5 199.4,76.7 199.5,82.9 199.6,83.5 199.7,81.0 199.8,76.9 199.9,84.3 200.1,80.4 200.2,82.6 200.3,79.8 200.4,75.5 200.5,82.3 200.6,86.2 200.7,83.1 200.8,78.7 200.9,86.8 201.0,81.5 201.2,77.9 201.3,80.5 201.4,82.2 201.5,80.0 201.6,80.7 201.7,81.1 201.8,81.8 201.9,86.0 202.0,82.1 202.1,83.8 202.3,86.3 202.4,79.5 202.5,81.5 202.6,76.4 202.7,77.6 202.8,78.5 202.9,82.0 203.0,82.4 203.1,77.9 203.2,78.3 203.4,76.1 203.5,75.1 203.6,76.9 203.7,78.4 203.8,77.8 203.9,85.7 204.0,85.3 204.1,86.5 204.2,81.7 204.3,80.4 204.5,78.2 204.6,81.8 204.7,80.0 204.8,78.3 204.9,79.9 205.0,84.9 205.1,83.5 205.2,78.8 205.3,73.8 205.4,72.1 205.6,81.4 205.7,82.2 205.8,79.2 205.9,78.6 206.0,78.2 206.1,72.4 206.2,74.6 206.3,79.6 206.4,80.3 206.5,75.6 206.7,76.5 206.8,78.4 206.9,77.7 207.0,78.4 207.1,77.3 207.2,81.3 207.3,74.0 207.4,76.4 207.5,73.8 207.6,77.7 207.8,76.3 207.9,76.7 208.0,77.7 208.1,73.7 208.2,78.2 208.3,81.3 208.4,81.9 208.5,81.5 208.6,78.8 208.7,82.4 208.9,83.2 209.0,91.3 209.1,83.9 209.2,83.7 209.3,79.6 209.4,77.2 209.5,76.2 209.6,80.0 209.7,78.5 209.8,76.8 210.0,78.1 210.1,82.9 210.2,76.0 210.3,78.7 210.4,82.1 210.5,81.6 210.6,84.6 210.7,86.6 210.8,79.8 210.9,84.5 211.1,86.4 211.2,85.3 211.3,80.0 211.4,80.9 211.5,81.5 211.6,84.2 211.7,77.6 211.8,83.4 211.9,79.2 212.0,82.4 212.2,84.0 212.3,81.3 212.4,83.5 212.5,81.0 212.6,80.7 212.7,84.3 212.8,79.3 212.9,81.0 213.0,78.1 213.1,87.5 213.3,82.1 213.4,86.3 213.5,82.8 213.6,83.2 213.7,79.2 213.8,79.0 213.9,81.2 214.0,79.4 214.1,74.9 214.2,77.9 214.4,74.4 214.5,80.5 214.6,82.3 214.7,79.9 214.8,83.5 214.9,83.8 215.0,78.8 215.1,81.5 215.2,78.1 215.4,78.2 215.5,76.0 215.6,77.4 215.7,72.7 215.8,76.4 215.9,74.9 216.0,81.7 216.1,77.1 216.2,77.6 216.3,74.8 216.5,80.5 216.6,83.8 216.7,76.6 216.8,82.2 216.9,78.4 217.0,84.3 217.1,80.4 217.2,80.5 217.3,79.2 217.4,82.6 217.6,75.6 217.7,82.2 217.8,80.4 217.9,73.3 218.0,77.5 218.1,77.6 218.2,82.2 218.3,78.2 218.4,78.1 218.5,79.8 218.7,79.1 218.8,83.4 218.9,80.3 219.0,77.1 219.1,79.2 219.2,77.6 219.3,83.2 219.4,75.3 219.5,75.5 219.6,86.0 219.8,79.9 219.9,85.2 220.0,81.8 220.1,77.7 220.2,81.7 220.3,81.2 220.4,79.2 220.5,76.0 220.6,80.7 220.7,82.1 220.9,80.7 221.0,77.2 221.1,83.5 221.2,76.6 221.3,80.9 221.4,81.1 221.5,81.0 221.6,78.1 221.7,77.8 221.8,79.7 222.0,80.4 222.1,81.8 222.2,82.3 222.3,81.0 222.4,79.7 222.5,85.4 222.6,83.8 222.7,82.3 222.8,76.8 222.9,81.4 223.1,84.1 223.2,83.9 223.3,79.4 223.4,81.6 223.5,76.3 223.6,81.3 223.7,83.4 223.8,81.7 223.9,84.3 224.0,84.9 224.2,82.6 224.3,76.5 224.4,78.7 224.5,81.6 224.6,79.4 224.7,78.7 224.8,80.5 224.9,82.5 225.0,80.5 225.1,75.3 225.3,81.6 225.4,87.7 225.5,82.6 225.6,84.3 225.7,81.2 225.8,79.7 225.9,78.2 226.0,83.8 226.1,83.1 226.2,84.9 226.4,82.5 226.5,85.0 226.6,79.2 226.7,86.0 226.8,86.1 226.9,83.8 227.0,85.7 227.1,82.1 227.2,82.9 227.3,76.2 227.5,85.7 227.6,85.8 227.7,82.4 227.8,77.6 227.9,82.1 228.0,83.6 228.1,87.9 228.2,80.7 228.3,84.8 228.4,84.5 228.6,85.0 228.7,83.9 228.8,86.7 228.9,82.0 229.0,78.8 229.1,83.7 229.2,80.6 229.3,78.5 229.4,87.1 229.5,86.5 229.7,85.8 229.8,80.4 229.9,81.0 230.0,78.8 230.1,83.9 230.2,82.9 230.3,81.7 230.4,84.7 230.5,79.7 230.6,81.7 230.8,78.1 230.9,87.3 231.0,86.3 231.1,77.8 231.2,79.1 231.3,89.3 231.4,88.0 231.5,86.4 231.6,88.0 231.7,81.7 231.9,82.2 232.0,84.4 232.1,81.9 232.2,79.7 232.3,82.0 232.4,79.4 232.5,86.0 232.6,81.2 232.7,80.2 232.8,78.2 233.0,87.6 233.1,82.6 233.2,84.7 233.3,82.8 233.4,84.5 233.5,85.8 233.6,84.1 233.7,86.1 233.8,85.1 233.9,87.2 234.1,86.3 234.2,86.9 234.3,80.2 234.4,90.6 234.5,86.2 234.6,83.6 234.7,82.6 234.8,86.6 234.9,85.4 235.0,86.4 235.2,81.5 235.3,86.1 235.4,87.8 235.5,87.8 235.6,82.7 235.7,84.5 235.8,84.0 235.9,85.6 236.0,84.5 236.1,83.0 236.3,79.5 236.4,82.7 236.5,79.1 236.6,82.8 236.7,89.1 236.8,79.8 236.9,87.3 237.0,87.7 237.1,85.1 237.2,87.7 237.4,88.2 237.5,83.7 237.6,80.2 237.7,85.0 237.8,83.2 237.9,87.0 238.0,79.8 238.1,90.7 238.2,90.9 238.3,83.3 238.5,78.7 238.6,85.3 238.7,82.7 238.8,83.5 238.9,80.6 239.0,80.3 239.1,83.2 239.2,77.4 239.3,76.1 239.4,84.9 239.6,85.1 239.7,81.8 239.8,79.9 239.9,88.6 240.0,83.8 240.1,87.1 240.2,82.3 240.3,83.5 240.4,86.2 240.6,91.1 240.7,84.7 240.8,84.5 240.9,85.7 241.0,92.0 241.1,87.6 241.2,89.7 241.3,88.3 241.4,86.3 241.5,89.6 241.7,82.0 241.8,87.1 241.9,87.8 242.0,84.5 242.1,86.4 242.2,85.2 242.3,85.0 242.4,84.5 242.5,89.8 242.6,87.2 242.8,88.1 242.9,88.0 243.0,86.3 243.1,89.7 243.2,89.6 243.3,85.3 243.4,86.9 243.5,84.9 243.6,87.1 243.7,86.6 243.9,89.6 244.0,88.2 244.1,87.3 244.2,88.8 244.3,87.4 244.4,93.0 244.5,92.3 244.6,87.8 244.7,87.7 244.8,87.7 245.0,87.8 245.1,88.4 245.2,91.3 245.3,87.7 245.4,91.3 245.5,89.8 245.6,89.9 245.7,86.6 245.8,93.3 245.9,88.5 246.1,81.6 246.2,87.1 246.3,86.7 246.4,88.2 246.5,81.7 246.6,84.9 246.7,82.9 246.8,88.0 246.9,84.7 247.0,88.2 247.2,90.2 247.3,83.4 247.4,84.9 247.5,83.6 247.6,88.4 247.7,86.7 247.8,82.8 247.9,90.5 248.0,83.4 248.1,86.5 248.3,86.5 248.4,87.5 248.5,84.0 248.6,85.6 248.7,87.1 248.8,88.9 248.9,87.5 249.0,87.7 249.1,85.8 249.2,95.0 249.4,92.6 249.5,93.4 249.6,87.1 249.7,84.7 249.8,86.0 249.9,86.1 250.0,91.2 250.1,90.5 250.2,87.9 250.3,84.9 250.5,92.7 250.6,85.3 250.7,88.6 250.8,89.2 250.9,91.2 251.0,90.5 251.1,91.0 251.2,98.7 251.3,92.9 251.4,92.0 251.6,89.9 251.7,96.9 251.8,96.3 251.9,90.7 252.0,92.9 252.1,87.3 252.2,91.1 252.3,96.7 252.4,89.3 252.5,95.9 252.7,98.0 252.8,91.1 252.9,93.3 253.0,97.3 253.1,98.3 253.2,90.3 253.3,94.8 253.4,88.1 253.5,88.6 253.6,92.5 253.8,94.3 253.9,92.7 254.0,94.5 254.1,94.4 254.2,94.7 254.3,94.9 254.4,92.4 254.5,93.8 254.6,91.8 254.7,93.4 254.9,96.3 255.0,95.7 255.1,97.5 255.2,96.8 255.3,96.5 255.4,91.4 255.5,92.9 255.6,92.5 255.7,90.5 255.8,84.9 256.0,93.4 256.1,87.4 256.2,86.1 256.3,87.6 256.4,93.6 256.5,93.3 256.6,96.2 256.7,92.9 256.8,95.7 256.9,95.4 257.1,92.3 257.2,91.0 257.3,85.0 257.4,85.4 257.5,87.3 257.6,79.8 257.7,87.7 257.8,85.9 257.9,86.0 258.0,89.6 258.2,89.6 258.3,91.9 258.4,90.1 258.5,91.3 258.6,90.4 258.7,86.3 258.8,90.9 258.9,91.2 259.0,91.9 259.1,90.1 259.3,91.2 259.4,89.0 259.5,88.7 259.6,93.7 259.7,85.7 259.8,87.6 259.9,93.8 260.0,85.6 260.1,90.5 260.2,87.4 260.4,91.9 260.5,88.6 260.6,91.7 260.7,88.2 260.8,91.5 260.9,87.6 261.0,97.3 261.1,89.9 261.2,92.5 261.3,89.9 261.5,93.8 261.6,91.1 261.7,91.6 261.8,91.9 261.9,90.1 262.0,90.1 262.1,94.6 262.2,92.7 262.3,89.6 262.4,89.3 262.6,92.1 262.7,86.0 262.8,87.2 262.9,84.3 263.0,86.6 263.1,88.5 263.2,88.2 263.3,87.3 263.4,91.2 263.5,84.9 263.7,95.3 263.8,90.4 263.9,90.8 264.0,86.9 264.1,90.1 264.2,82.9 264.3,85.7 264.4,88.1 264.5,91.4 264.7,92.4 264.8,89.1 264.9,87.5 265.0,94.3 265.1,93.2 265.2,91.1 265.3,90.7 265.4,90.5 265.5,85.0 265.6,90.3 265.8,90.3 265.9,86.2 266.0,88.1 266.1,88.2 266.2,85.1 266.3,84.7 266.4,86.5 266.5,89.1 266.6,81.9 266.7,89.1 266.9,83.3 267.0,92.6 267.1,87.7 267.2,88.7 267.3,86.6 267.4,89.7 267.5,84.4 267.6,90.2 267.7,92.9 267.8,86.9 268.0,82.8 268.1,87.5 268.2,83.8 268.3,84.7 268.4,87.6 268.5,88.9 268.6,83.1 268.7,88.1 268.8,89.2 268.9,86.4 269.1,88.8 269.2,85.2 269.3,83.6 269.4,79.3 269.5,76.9 269.6,84.6 269.7,86.9 269.8,81.8 269.9,84.1 270.0,88.4 270.2,86.5 270.3,79.7 270.4,87.8 270.5,84.4 270.6,87.3 270.7,87.6 270.8,84.7 270.9,93.1 271.0,83.0 271.1,85.4 271.3,89.7 271.4,87.0 271.5,87.9 271.6,86.2 271.7,89.8 271.8,85.5 271.9,84.5 272.0,82.0 272.1,89.6 272.2,86.5 272.4,87.4 272.5,86.0 272.6,84.1 272.7,83.1 272.8,86.2 272.9,88.8 273.0,83.5 273.1,85.5 273.2,84.4 273.3,81.3 273.5,88.5 273.6,89.0 273.7,86.7 273.8,88.6 273.9,90.4 274.0,92.4 274.1,90.7 274.2,90.0 274.3,84.0 274.4,86.7 274.6,86.0 274.7,82.6 274.8,87.2 274.9,82.0 275.0,84.1 275.1,91.2 275.2,90.0 275.3,81.7 275.4,87.6 275.5,87.7 275.7,88.4 275.8,86.0 275.9,87.1 276.0,88.6 276.1,92.1 276.2,89.3 276.3,85.6 276.4,91.0 276.5,94.3 276.6,88.6 276.8,85.5 276.9,92.0 277.0,85.9 277.1,86.7 277.2,89.3 277.3,86.1 277.4,85.4 277.5,88.2 277.6,87.3 277.7,85.8 277.9,86.3 278.0,87.1 278.1,84.6 278.2,92.7 278.3,89.2 278.4,87.9 278.5,89.3 278.6,84.3 278.7,82.3 278.8,79.3 279.0,84.2 279.1,88.6 279.2,88.6 279.3,89.3 279.4,86.7 279.5,83.6 279.6,85.8 279.7,80.9 279.8,83.2 279.9,86.6 280.1,86.2 280.2,84.3 280.3,88.2 280.4,89.5 280.5,88.4 280.6,82.3 280.7,89.0 280.8,85.6 280.9,88.0 281.0,89.0 281.2,88.5 281.3,89.2 281.4,88.0 281.5,83.6 281.6,85.4 281.7,90.5 281.8,93.6 281.9,86.7 282.0,89.0 282.1,88.1 282.3,88.5 282.4,83.6 282.5,88.1 282.6,86.9 282.7,85.2 282.8,86.0 282.9,91.6 283.0,84.4 283.1,89.3 283.2,89.8 283.4,86.5 283.5,89.6 283.6,87.1 283.7,85.0 283.8,79.0 283.9,83.7 284.0,84.5 284.1,87.9 284.2,83.0 284.3,84.1 284.5,82.6 284.6,84.5 284.7,79.2 284.8,79.6 284.9,77.3 285.0,76.5 285.1,77.8 285.2,82.2 285.3,74.3 285.4,77.6 285.6,79.7 285.7,74.8 285.8,78.8 285.9,73.7 286.0,83.9 286.1,80.4 286.2,76.3 286.3,79.3 286.4,80.0 286.5,79.5 286.7,82.5 286.8,80.0 286.9,80.8 287.0,80.1 287.1,84.7 287.2,79.9 287.3,82.1 287.4,76.5 287.5,69.2 287.6,77.7 287.8,80.1 287.9,81.1 288.0,79.0 288.1,80.7 288.2,80.9 288.3,77.4 288.4,73.1 288.5,80.2 288.6,79.3 288.7,77.8 288.9,75.6 289.0,81.6 289.1,76.5 289.2,75.1 289.3,72.5 289.4,74.9 289.5,77.5 289.6,73.0 289.7,81.8 289.9,77.9 290.0,81.3 290.1,78.5 290.2,76.8 290.3,84.7 290.4,78.1 290.5,76.7 290.6,79.3 290.7,76.2 290.8,75.9 291.0,68.2 291.1,69.1 291.2,77.6 291.3,74.6 291.4,77.2 291.5,74.1 291.6,77.3 291.7,73.6 291.8,78.0 291.9,82.8 292.1,78.5 292.2,76.7 292.3,76.7 292.4,78.0 292.5,83.7 292.6,79.2 292.7,80.8 292.8,78.0 292.9,80.3 293.0,80.3 293.2,77.3 293.3,77.1 293.4,79.0 293.5,83.5 293.6,77.6 293.7,78.8 293.8,81.5 293.9,76.2 294.0,73.3 294.1,82.4 294.3,80.0 294.4,77.5 294.5,77.4 294.6,81.1 294.7,77.8 294.8,83.8 294.9,79.3 295.0,79.7 295.1,76.6 295.2,74.5 295.4,76.7 295.5,82.3 295.6,77.7 295.7,78.7 295.8,80.3 295.9,77.4 296.0,83.9 296.1,77.5 296.2,82.5 296.3,78.6 296.5,78.9 296.6,79.7 296.7,88.4 296.8,80.3 296.9,82.9 297.0,81.9 297.1,79.6 297.2,83.2 297.3,81.6 297.4,75.6 297.6,73.7 297.7,78.6 297.8,78.7 297.9,75.5 298.0,80.7 298.1,78.9 298.2,81.9 298.3,80.5 298.4,83.0 298.5,81.9 298.7,83.0 298.8,83.2 298.9,83.5 299.0,73.7 299.1,77.0 299.2,74.5 299.3,74.6 299.4,73.6 299.5,77.2 299.6,79.4 299.8,78.1 299.9,79.2 300.0,79.7 300.1,82.0 300.2,78.7 300.3,78.3 300.4,77.7 300.5,75.3 300.6,72.7 300.7,72.8 300.9,77.2 301.0,74.8 301.1,80.2 301.2,77.9 301.3,77.7 301.4,79.7 301.5,77.2 301.6,82.4 301.7,76.1 301.8,78.3 302.0,79.6 302.1,81.7 302.2,77.3 302.3,75.2 302.4,78.4 302.5,78.6 302.6,80.7 302.7,77.0 302.8,83.3 302.9,83.6 303.1,83.8 303.2,81.8 303.3,82.1 303.4,80.4 303.5,86.2 303.6,77.7 303.7,79.6 303.8,80.2 303.9,73.9 304.0,77.9 304.2,83.6 304.3,81.3 304.4,82.3 304.5,79.9 304.6,80.6 304.7,82.6 304.8,79.7 304.9,77.4 305.0,83.1 305.1,81.9 305.3,85.9 305.4,78.6 305.5,80.3 305.6,75.9 305.7,84.6 305.8,81.1 305.9,77.4 306.0,77.8 306.1,83.4 306.2,77.0 306.4,80.7 306.5,81.8 306.6,79.1 306.7,84.9 306.8,86.9 306.9,79.1 307.0,81.2 307.1,81.3 307.2,78.8 307.3,78.9 307.5,72.3 307.6,75.6 307.7,71.0 307.8,75.0 307.9,76.7 308.0,76.5 308.1,69.4 308.2,75.3 308.3,73.3 308.4,80.1 308.6,80.8 308.7,81.4 308.8,85.8 308.9,83.9 309.0,81.1 309.1,83.5 309.2,85.5 309.3,78.7 309.4,83.8 309.5,85.0 309.7,82.5 309.8,89.5 309.9,87.8 310.0,85.9 310.1,84.4 310.2,82.0 310.3,83.0 310.4,82.8 310.5,83.8 310.6,78.4 310.8,81.9 310.9,83.6 311.0,77.6 311.1,79.6 311.2,79.3 311.3,77.8 311.4,80.1 311.5,77.3 311.6,77.8 311.7,77.0 311.9,78.9 312.0,76.0 312.1,76.8 312.2,80.7 312.3,80.9 312.4,82.8 312.5,80.3 312.6,80.0 312.7,81.9 312.8,81.2 313.0,79.7 313.1,82.5 313.2,79.2 313.3,80.3 313.4,81.1 313.5,78.7 313.6,83.4 313.7,82.3 313.8,82.0 313.9,83.9 314.1,81.6 314.2,79.5 314.3,84.8 314.4,83.8 314.5,88.7"/>
<rect x="39.5" y="18.5" width="275.0" height="120.0" fill="none" stroke="#7a7a7a" stroke-width="1.1"/>
<line x1="39.5" y1="138.5" x2="39.5" y2="131.5" stroke="#7a7a7a" stroke-width="1.1"/>
<text x="40.10" y="152.3" font-size="14.4" text-anchor="middle" fill="#111">0</text>
<line x1="94.5" y1="138.5" x2="94.5" y2="131.5" stroke="#7a7a7a" stroke-width="1.1"/>
<text x="95.10" y="152.3" font-size="14.4" text-anchor="middle" fill="#111">20000</text>
<line x1="149.5" y1="138.5" x2="149.5" y2="131.5" stroke="#7a7a7a" stroke-width="1.1"/>
<text x="150.10" y="152.3" font-size="14.4" text-anchor="middle" fill="#111">40000</text>
<line x1="204.5" y1="138.5" x2="204.5" y2="131.5" stroke="#7a7a7a" stroke-width="1.1"/>
<text x="205.10" y="152.3" font-size="14.4" text-anchor="middle" fill="#111">60000</text>
<line x1="259.5" y1="138.5" x2="259.5" y2="131.5" stroke="#7a7a7a" stroke-width="1.1"/>
<text x="260.10" y="152.3" font-size="14.4" text-anchor="middle" fill="#111">80000</text>
<line x1="314.5" y1="138.5" x2="314.5" y2="131.5" stroke="#7a7a7a" stroke-width="1.1"/>
<text x="315.10" y="152.3" font-size="14.4" text-anchor="middle" fill="#111">100000</text>
<line x1="39.5" y1="138.5" x2="46.5" y2="138.5" stroke="#7a7a7a" stroke-width="1.1"/>
<text x="37" y="143.80" font-size="14.2" text-anchor="end" fill="#111">2.1</text>
<line x1="39.5" y1="98.5" x2="46.5" y2="98.5" stroke="#7a7a7a" stroke-width="1.1"/>
<text x="37" y="103.80" font-size="14.2" text-anchor="end" fill="#111">2.2</text>
<line x1="39.5" y1="58.5" x2="46.5" y2="58.5" stroke="#7a7a7a" stroke-width="1.1"/>
<text x="37" y="63.80" font-size="14.2" text-anchor="end" fill="#111">2.3</text>
<line x1="39.5" y1="18.5" x2="46.5" y2="18.5" stroke="#7a7a7a" stroke-width="1.1"/>
<text x="37" y="23.80" font-size="14.2" text-anchor="end" fill="#111">2.4</text>
<text x="177.4" y="165.5" font-size="14.5" text-anchor="middle" fill="#111">Time (ps)</text>
<text transform="translate(12.3,77.7) rotate(-90)" font-size="14.1" text-anchor="middle" fill="#111">Rg (nm)</text>
<text x="15.2" y="11.5" font-size="14.7" font-weight="bold" fill="#111">A</text>
<polyline fill="none" stroke="#000" stroke-width="0.55" stroke-opacity="1.0" stroke-linejoin="round" points="393.5,81.1 393.6,71.9 393.7,72.1 393.8,73.1 393.9,70.8 394.0,75.3 394.2,78.4 394.3,72.3 394.4,80.1 394.5,78.5 394.6,75.1 394.7,76.4 394.8,78.6 394.9,70.5 395.0,84.8 395.1,81.6 395.2,75.9 395.4,72.3 395.5,79.4 395.6,76.3 395.7,83.6 395.8,67.9 395.9,76.7 396.0,67.9 396.1,84.4 396.2,66.1 396.3,67.0 396.4,67.8 396.6,74.8 396.7,73.6 396.8,78.0 396.9,71.2 397.0,74.6 397.1,74.8 397.2,66.8 397.3,79.3 397.4,69.4 397.5,73.9 397.7,75.7 397.8,66.1 397.9,73.1 398.0,70.8 398.1,71.4 398.2,70.5 398.3,69.5 398.4,69.8 398.5,73.0 398.6,58.4 398.7,74.1 398.9,65.0 399.0,66.0 399.1,61.9 399.2,59.1 399.3,64.1 399.4,60.1 399.5,61.8 399.6,72.2 399.7,69.4 399.8,65.3 399.9,76.0 400.1,67.9 400.2,67.3 400.3,70.2 400.4,67.3 400.5,64.2 400.6,71.1 400.7,60.0 400.8,62.6 400.9,58.1 401.0,66.0 401.1,69.4 401.3,71.4 401.4,77.1 401.5,68.3 401.6,71.0 401.7,68.2 401.8,67.4 401.9,70.9 402.0,75.3 402.1,63.8 402.2,67.4 402.3,69.5 402.5,74.9 402.6,74.0 402.7,74.0 402.8,75.2 402.9,70.8 403.0,66.8 403.1,60.9 403.2,57.3 403.3,61.0 403.4,73.7 403.6,60.6 403.7,65.3 403.8,60.3 403.9,64.6 404.0,68.3 404.1,60.5 404.2,68.5 404.3,66.2 404.4,67.0 404.5,65.1 404.6,69.5 404.8,70.7 404.9,74.4 405.0,67.2 405.1,67.4 405.2,61.4 405.3,58.0 405.4,70.5 405.5,65.8 405.6,59.3 405.7,61.2 405.8,65.8 406.0,71.8 406.1,67.4 406.2,66.2 406.3,58.9 406.4,63.4 406.5,73.1 406.6,64.2 406.7,66.6 406.8,61.6 406.9,73.0 407.0,71.4 407.2,77.6 407.3,61.1 407.4,63.0 407.5,61.3 407.6,70.0 407.7,70.6 407.8,61.0 407.9,68.9 408.0,54.3 408.1,71.4 408.2,69.3 408.4,60.0 408.5,60.0 408.6,58.5 408.7,67.3 408.8,68.6 408.9,64.7 409.0,75.9 409.1,67.2 409.2,71.7 409.3,67.7 409.4,64.7 409.6,67.4 409.7,64.8 409.8,63.5 409.9,64.2 410.0,65.7 410.1,75.2 410.2,76.6 410.3,72.1 410.4,66.8 410.5,68.0 410.7,68.0 410.8,60.2 410.9,59.9 411.0,65.4 411.1,67.6 411.2,69.4 411.3,65.3 411.4,61.3 411.5,71.1 411.6,66.8 411.7,62.0 411.9,75.9 412.0,65.1 412.1,67.5 412.2,63.5 412.3,62.9 412.4,63.9 412.5,62.9 412.6,60.9 412.7,63.7 412.8,66.3 412.9,62.9 413.1,55.1 413.2,50.8 413.3,63.9 413.4,66.7 413.5,50.5 413.6,56.8 413.7,64.7 413.8,55.5 413.9,59.6 414.0,68.0 414.1,59.4 414.3,55.8 414.4,58.0 414.5,45.4 414.6,55.7 414.7,64.4 414.8,58.6 414.9,60.5 415.0,60.5 415.1,59.4 415.2,61.2 415.3,62.2 415.5,56.8 415.6,60.1 415.7,60.8 415.8,66.3 415.9,62.3 416.0,72.5 416.1,62.0 416.2,61.9 416.3,69.7 416.4,64.0 416.6,73.0 416.7,75.5 416.8,57.9 416.9,53.9 417.0,63.2 417.1,64.9 417.2,63.1 417.3,57.4 417.4,58.6 417.5,53.5 417.6,65.5 417.8,60.5 417.9,54.8 418.0,67.6 418.1,68.4 418.2,67.9 418.3,60.1 418.4,66.6 418.5,56.3 418.6,70.8 418.7,73.3 418.8,66.5 419.0,64.5 419.1,64.8 419.2,72.1 419.3,62.6 419.4,55.7 419.5,68.0 419.6,59.9 419.7,61.6 419.8,59.3 419.9,64.8 420.0,59.3 420.2,68.9 420.3,69.8 420.4,67.4 420.5,69.2 420.6,70.8 420.7,68.8 420.8,67.4 420.9,70.2 421.0,65.8 421.1,62.2 421.2,53.6 421.4,64.6 421.5,69.8 421.6,66.9 421.7,65.6 421.8,60.6 421.9,66.7 422.0,71.8 422.1,78.4 422.2,71.4 422.3,68.7 422.4,74.0 422.6,74.3 422.7,55.2 422.8,62.0 422.9,50.9 423.0,50.3 423.1,59.3 423.2,62.3 423.3,64.0 423.4,70.0 423.5,68.7 423.7,71.2 423.8,70.5 423.9,64.5 424.0,77.6 424.1,70.3 424.2,63.9 424.3,67.7 424.4,66.8 424.5,70.4 424.6,68.1 424.7,58.9 424.9,54.8 425.0,70.4 425.1,56.4 425.2,66.0 425.3,55.2 425.4,56.8 425.5,62.8 425.6,55.6 425.7,71.3 425.8,66.4 425.9,60.8 426.1,67.5 426.2,56.8 426.3,65.8 426.4,63.2 426.5,68.3 426.6,61.9 426.7,62.9 426.8,61.3 426.9,67.4 427.0,64.5 427.1,60.6 427.3,59.6 427.4,53.4 427.5,69.9 427.6,64.5 427.7,56.4 427.8,62.9 427.9,66.1 428.0,64.0 428.1,65.1 428.2,62.6 428.3,67.4 428.5,66.2 428.6,74.6 428.7,73.9 428.8,66.8 428.9,66.0 429.0,64.3 429.1,65.9 429.2,68.2 429.3,63.2 429.4,63.5 429.6,67.1 429.7,58.3 429.8,65.7 429.9,69.0 430.0,66.1 430.1,68.6 430.2,64.0 430.3,72.1 430.4,66.2 430.5,59.1 430.6,60.1 430.8,69.2 430.9,62.3 431.0,59.7 431.1,61.5 431.2,56.6 431.3,67.7 431.4,61.3 431.5,65.7 431.6,59.6 431.7,60.7 431.8,65.0 432.0,63.3 432.1,67.5 432.2,63.7 432.3,63.3 432.4,68.3 432.5,63.3 432.6,61.5 432.7,69.5 432.8,74.1 432.9,63.4 433.0,67.1 433.2,63.9 433.3,62.7 433.4,55.3 433.5,57.2 433.6,56.5 433.7,64.9 433.8,59.0 433.9,66.0 434.0,67.8 434.1,61.4 434.2,55.7 434.4,57.0 434.5,60.2 434.6,62.8 434.7,66.6 434.8,64.2 434.9,65.0 435.0,74.5 435.1,67.0 435.2,66.7 435.3,69.0 435.4,70.8 435.6,62.7 435.7,67.1 435.8,69.8 435.9,65.8 436.0,58.8 436.1,66.9 436.2,57.1 436.3,65.3 436.4,53.3 436.5,55.8 436.7,60.3 436.8,56.7 436.9,66.0 437.0,56.2 437.1,62.9 437.2,60.7 437.3,67.7 437.4,66.3 437.5,69.7 437.6,67.5 437.7,56.0 437.9,65.9 438.0,63.7 438.1,70.5 438.2,70.4 438.3,71.2 438.4,57.3 438.5,68.3 438.6,66.6 438.7,62.5 438.8,66.4 438.9,67.9 439.1,64.6 439.2,62.2 439.3,61.5 439.4,67.0 439.5,70.3 439.6,67.1 439.7,78.3 439.8,66.1 439.9,78.7 440.0,66.9 440.1,66.6 440.3,73.9 440.4,65.2 440.5,62.1 440.6,64.0 440.7,73.5 440.8,61.2 440.9,76.8 441.0,70.6 441.1,73.2 441.2,73.4 441.3,70.4 441.5,72.4 441.6,75.4 441.7,73.7 441.8,75.2 441.9,74.5 442.0,72.7 442.1,85.0 442.2,67.5 442.3,75.3 442.4,68.9 442.6,80.8 442.7,69.0 442.8,74.4 442.9,78.8 443.0,62.6 443.1,71.9 443.2,65.5 443.3,66.7 443.4,67.8 443.5,72.5 443.6,78.2 443.8,70.6 443.9,76.7 444.0,81.0 444.1,74.1 444.2,71.9 444.3,79.1 444.4,76.0 444.5,69.3 444.6,68.1 444.7,76.8 444.8,79.9 445.0,75.3 445.1,79.4 445.2,85.3 445.3,79.2 445.4,63.6 445.5,73.0 445.6,71.1 445.7,79.2 445.8,81.2 445.9,78.4 446.0,79.3 446.2,78.8 446.3,74.5 446.4,80.6 446.5,75.8 446.6,76.7 446.7,81.8 446.8,77.2 446.9,80.9 447.0,79.8 447.1,75.5 447.2,83.3 447.4,79.6 447.5,82.8 447.6,82.0 447.7,87.7 447.8,86.5 447.9,83.8 448.0,80.0 448.1,91.4 448.2,80.8 448.3,82.8 448.4,81.3 448.6,80.9 448.7,77.1 448.8,81.0 448.9,78.5 449.0,90.4 449.1,98.3 449.2,87.4 449.3,89.6 449.4,92.5 449.5,86.9 449.7,89.3 449.8,89.7 449.9,100.0 450.0,97.7 450.1,90.1 450.2,90.6 450.3,91.1 450.4,90.9 450.5,85.2 450.6,92.5 450.7,93.0 450.9,94.6 451.0,90.4 451.1,85.5 451.2,83.9 451.3,87.0 451.4,98.3 451.5,84.9 451.6,89.4 451.7,90.6 451.8,86.0 451.9,73.7 452.1,91.9 452.2,82.5 452.3,85.0 452.4,88.0 452.5,77.2 452.6,79.6 452.7,89.9 452.8,87.4 452.9,84.3 453.0,82.9 453.1,84.9 453.3,89.9 453.4,91.2 453.5,92.4 453.6,90.4 453.7,91.1 453.8,84.7 453.9,91.8 454.0,93.7 454.1,90.1 454.2,83.7 454.3,74.5 454.5,81.4 454.6,87.4 454.7,80.2 454.8,79.4 454.9,90.3 455.0,76.7 455.1,76.4 455.2,85.7 455.3,89.6 455.4,100.4 455.6,89.4 455.7,88.3 455.8,83.4 455.9,75.7 456.0,74.2 456.1,76.9 456.2,82.1 456.3,73.3 456.4,86.4 456.5,82.5 456.6,86.4 456.8,90.9 456.9,87.5 457.0,82.7 457.1,85.5 457.2,89.5 457.3,83.1 457.4,83.8 457.5,80.8 457.6,89.8 457.7,90.3 457.8,90.8 458.0,92.6 458.1,94.5 458.2,91.3 458.3,92.8 458.4,98.1 458.5,93.1 458.6,93.3 458.7,93.2 458.8,93.3 458.9,90.9 459.0,95.1 459.2,89.8 459.3,86.5 459.4,89.4 459.5,89.6 459.6,83.9 459.7,79.4 459.8,84.3 459.9,83.7 460.0,88.7 460.1,87.4 460.2,90.0 460.4,78.9 460.5,83.7 460.6,84.0 460.7,84.8 460.8,81.5 460.9,84.8 461.0,81.8 461.1,85.5 461.2,95.7 461.3,96.3 461.4,86.4 461.6,87.4 461.7,89.7 461.8,81.4 461.9,89.7 462.0,93.2 462.1,83.1 462.2,75.5 462.3,75.7 462.4,85.5 462.5,83.0 462.7,87.3 462.8,92.1 462.9,86.4 463.0,85.0 463.1,87.5 463.2,78.5 463.3,91.5 463.4,94.0 463.5,85.7 463.6,87.0 463.7,82.5 463.9,88.0 464.0,86.2 464.1,82.5 464.2,82.0 464.3,88.4 464.4,81.5 464.5,83.6 464.6,84.5 464.7,101.0 464.8,96.4 464.9,85.8 465.1,96.7 465.2,85.8 465.3,93.4 465.4,91.6 465.5,96.1 465.6,89.7 465.7,83.3 465.8,88.7 465.9,91.2 466.0,92.7 466.1,90.5 466.3,96.7 466.4,93.3 466.5,81.7 466.6,84.6 466.7,77.7 466.8,84.0 466.9,78.1 467.0,80.5 467.1,79.6 467.2,78.8 467.3,87.1 467.5,87.6 467.6,86.3 467.7,87.9 467.8,98.5 467.9,88.0 468.0,85.3 468.1,81.7 468.2,86.7 468.3,76.9 468.4,80.9 468.6,74.3 468.7,84.5 468.8,73.7 468.9,75.1 469.0,82.1 469.1,81.4 469.2,84.9 469.3,83.4 469.4,90.0 469.5,83.6 469.6,87.0 469.8,86.1 469.9,83.6 470.0,89.4 470.1,84.1 470.2,82.8 470.3,87.8 470.4,80.5 470.5,82.7 470.6,79.3 470.7,87.9 470.8,79.8 471.0,77.3 471.1,84.0 471.2,80.9 471.3,78.0 471.4,79.0 471.5,84.7 471.6,79.0 471.7,74.7 471.8,78.3 471.9,78.7 472.0,79.1 472.2,89.2 472.3,88.0 472.4,91.8 472.5,85.5 472.6,88.1 472.7,81.8 472.8,90.4 472.9,80.8 473.0,81.3 473.1,79.8 473.2,83.1 473.4,80.3 473.5,79.8 473.6,86.5 473.7,82.8 473.8,75.2 473.9,88.4 474.0,75.8 474.1,75.6 474.2,84.1 474.3,78.1 474.4,78.0 474.6,66.3 474.7,74.1 474.8,73.3 474.9,79.6 475.0,81.9 475.1,87.3 475.2,82.8 475.3,85.1 475.4,85.0 475.5,77.3 475.7,78.4 475.8,89.5 475.9,83.2 476.0,96.1 476.1,90.1 476.2,89.1 476.3,85.6 476.4,82.5 476.5,77.2 476.6,67.5 476.7,71.9 476.9,74.5 477.0,80.5 477.1,77.5 477.2,68.0 477.3,80.7 477.4,75.7 477.5,80.8 477.6,77.8 477.7,70.7 477.8,69.1 477.9,73.3 478.1,70.1 478.2,71.6 478.3,73.0 478.4,72.2 478.5,78.1 478.6,74.8 478.7,73.5 478.8,78.1 478.9,82.4 479.0,80.5 479.1,71.2 479.3,80.1 479.4,76.1 479.5,81.9 479.6,67.3 479.7,76.2 479.8,79.4 479.9,79.7 480.0,76.1 480.1,77.1 480.2,79.2 480.3,72.4 480.5,77.1 480.6,72.3 480.7,79.9 480.8,88.5 480.9,86.0 481.0,87.7 481.1,91.4 481.2,86.1 481.3,84.5 481.4,80.3 481.6,80.2 481.7,87.3 481.8,77.4 481.9,86.6 482.0,83.5 482.1,87.5 482.2,77.5 482.3,81.0 482.4,74.6 482.5,79.0 482.6,87.7 482.8,83.3 482.9,77.9 483.0,83.1 483.1,76.4 483.2,72.4 483.3,79.1 483.4,71.6 483.5,71.8 483.6,65.0 483.7,79.6 483.8,73.1 484.0,74.1 484.1,76.3 484.2,76.2 484.3,78.6 484.4,76.3 484.5,83.5 484.6,69.2 484.7,80.9 484.8,81.0 484.9,74.8 485.0,85.3 485.2,77.6 485.3,91.6 485.4,87.3 485.5,80.1 485.6,78.3 485.7,79.4 485.8,80.3 485.9,76.3 486.0,77.9 486.1,77.6 486.2,72.1 486.4,67.0 486.5,82.6 486.6,76.1 486.7,78.2 486.8,76.5 486.9,72.8 487.0,79.9 487.1,79.9 487.2,73.8 487.3,70.3 487.4,77.8 487.6,78.4 487.7,73.7 487.8,84.2 487.9,85.1 488.0,81.2 488.1,78.1 488.2,80.2 488.3,79.5 488.4,75.7 488.5,78.7 488.7,72.3 488.8,78.0 488.9,77.8 489.0,72.4 489.1,75.2 489.2,72.8 489.3,75.3 489.4,72.3 489.5,79.9 489.6,78.1 489.7,74.6 489.9,77.4 490.0,74.3 490.1,82.9 490.2,76.9 490.3,80.4 490.4,82.3 490.5,80.3 490.6,83.1 490.7,79.7 490.8,76.2 490.9,85.0 491.1,84.3 491.2,74.9 491.3,81.6 491.4,81.0 491.5,79.5 491.6,81.8 491.7,77.0 491.8,83.2 491.9,80.8 492.0,94.8 492.1,89.1 492.3,90.2 492.4,90.8 492.5,94.6 492.6,92.0 492.7,88.9 492.8,83.8 492.9,88.8 493.0,83.1 493.1,82.5 493.2,89.1 493.3,82.2 493.5,87.7 493.6,83.9 493.7,84.3 493.8,82.9 493.9,86.5 494.0,97.4 494.1,89.9 494.2,84.3 494.3,91.0 494.4,80.8 494.6,73.9 494.7,75.3 494.8,75.7 494.9,83.5 495.0,85.2 495.1,78.3 495.2,81.3 495.3,76.3 495.4,80.9 495.5,84.4 495.6,83.1 495.8,83.8 495.9,83.0 496.0,88.0 496.1,89.5 496.2,86.5 496.3,89.5 496.4,95.9 496.5,89.3 496.6,79.8 496.7,89.4 496.8,86.1 497.0,80.7 497.1,93.5 497.2,96.1 497.3,89.9 497.4,85.9 497.5,81.3 497.6,84.8 497.7,74.4 497.8,81.7 497.9,79.5 498.0,73.0 498.2,86.2 498.3,85.0 498.4,88.1 498.5,85.6 498.6,88.0 498.7,83.9 498.8,79.1 498.9,81.1 499.0,74.1 499.1,75.2 499.2,77.8 499.4,72.4 499.5,71.1 499.6,80.2 499.7,74.6 499.8,76.1 499.9,77.7 500.0,72.3 500.1,78.9 500.2,75.3 500.3,79.8 500.4,79.6 500.6,76.7 500.7,84.2 500.8,80.9 500.9,81.6 501.0,80.9 501.1,78.4 501.2,81.3 501.3,86.3 501.4,77.6 501.5,76.2 501.7,78.0 501.8,77.5 501.9,86.4 502.0,75.5 502.1,71.5 502.2,65.2 502.3,76.5 502.4,73.6 502.5,75.7 502.6,76.8 502.7,78.2 502.9,76.1 503.0,78.9 503.1,76.3 503.2,79.4 503.3,90.2 503.4,80.4 503.5,82.8 503.6,78.3 503.7,75.4 503.8,81.3 503.9,71.6 504.1,80.6 504.2,83.0 504.3,88.7 504.4,84.3 504.5,79.9 504.6,73.2 504.7,87.2 504.8,89.6 504.9,83.6 505.0,95.0 505.1,81.3 505.3,83.5 505.4,78.6 505.5,88.9 505.6,84.1 505.7,88.4 505.8,72.2 505.9,89.4 506.0,85.6 506.1,92.4 506.2,86.3 506.3,80.7 506.5,95.1 506.6,88.1 506.7,92.4 506.8,82.5 506.9,86.8 507.0,86.2 507.1,83.8 507.2,86.0 507.3,75.3 507.4,82.4 507.6,77.9 507.7,84.2 507.8,76.9 507.9,87.5 508.0,73.8 508.1,81.9 508.2,79.3 508.3,89.5 508.4,88.0 508.5,72.0 508.6,72.6 508.8,81.9 508.9,72.6 509.0,80.5 509.1,88.2 509.2,81.3 509.3,77.9 509.4,80.6 509.5,82.3 509.6,84.9 509.7,85.8 509.8,77.9 510.0,81.3 510.1,84.0 510.2,90.4 510.3,81.3 510.4,80.7 510.5,82.7 510.6,82.4 510.7,82.1 510.8,78.3 510.9,84.8 511.0,80.4 511.2,90.5 511.3,88.5 511.4,88.8 511.5,87.3 511.6,83.8 511.7,80.1 511.8,88.0 511.9,83.6 512.0,81.8 512.1,93.0 512.2,85.0 512.4,92.3 512.5,91.3 512.6,86.7 512.7,83.1 512.8,85.4 512.9,79.2 513.0,83.1 513.1,81.1 513.2,75.4 513.3,85.8 513.4,89.6 513.6,90.6 513.7,87.6 513.8,85.0 513.9,83.8 514.0,89.6 514.1,85.0 514.2,84.3 514.3,89.0 514.4,88.4 514.5,86.5 514.7,89.6 514.8,91.5 514.9,85.7 515.0,84.3 515.1,81.7 515.2,86.0 515.3,75.9 515.4,83.6 515.5,91.8 515.6,86.1 515.7,89.2 515.9,77.5 516.0,91.9 516.1,92.5 516.2,90.9 516.3,91.4 516.4,82.6 516.5,83.4 516.6,83.2 516.7,90.1 516.8,88.7 516.9,93.7 517.1,88.6 517.2,92.2 517.3,89.3 517.4,84.8 517.5,84.6 517.6,88.8 517.7,78.4 517.8,98.8 517.9,84.2 518.0,87.3 518.1,94.8 518.3,81.8 518.4,82.5 518.5,89.0 518.6,79.5 518.7,85.0 518.8,86.4 518.9,86.2 519.0,87.0 519.1,88.7 519.2,81.4 519.3,86.3 519.5,82.9 519.6,90.2 519.7,79.8 519.8,89.6 519.9,83.7 520.0,93.0 520.1,90.5 520.2,93.5 520.3,88.6 520.4,92.8 520.6,95.3 520.7,95.9 520.8,98.0 520.9,90.5 521.0,98.6 521.1,83.0 521.2,86.5 521.3,85.9 521.4,85.9 521.5,89.6 521.6,84.8 521.8,82.5 521.9,88.3 522.0,85.8 522.1,90.6 522.2,90.7 522.3,73.2 522.4,90.0 522.5,82.6 522.6,87.5 522.7,88.7 522.8,87.8 523.0,90.8 523.1,92.4 523.2,75.2 523.3,98.4 523.4,82.7 523.5,84.2 523.6,82.7 523.7,79.0 523.8,83.7 523.9,84.7 524.0,81.9 524.2,85.5 524.3,82.9 524.4,80.1 524.5,90.7 524.6,88.7 524.7,85.9 524.8,91.1 524.9,92.0 525.0,85.6 525.1,88.2 525.2,77.3 525.4,80.8 525.5,83.0 525.6,87.2 525.7,92.8 525.8,83.9 525.9,85.4 526.0,86.0 526.1,81.9 526.2,81.0 526.3,90.0 526.4,84.4 526.6,91.9 526.7,81.0 526.8,87.1 526.9,88.4 527.0,94.2 527.1,87.0 527.2,90.6 527.3,88.2 527.4,84.1 527.5,81.3 527.7,81.7 527.8,80.5 527.9,81.5 528.0,83.8 528.1,89.0 528.2,78.9 528.3,87.4 528.4,86.5 528.5,91.5 528.6,84.9 528.7,84.9 528.9,94.9 529.0,92.1 529.1,89.5 529.2,97.4 529.3,87.4 529.4,86.5 529.5,89.6 529.6,96.8 529.7,92.5 529.8,95.2 529.9,93.0 530.1,97.3 530.2,86.2 530.3,88.6 530.4,88.2 530.5,86.5 530.6,85.2 530.7,75.0 530.8,81.3 530.9,74.7 531.0,85.8 531.1,81.7 531.3,75.4 531.4,82.6 531.5,95.7 531.6,89.7 531.7,83.6 531.8,91.3 531.9,95.0 532.0,91.0 532.1,91.8 532.2,98.3 532.3,95.3 532.5,98.1 532.6,89.9 532.7,98.2 532.8,82.1 532.9,82.7 533.0,79.4 533.1,83.5 533.2,85.7 533.3,80.4 533.4,87.1 533.6,92.5 533.7,89.5 533.8,90.7 533.9,91.9 534.0,93.2 534.1,84.6 534.2,87.4 534.3,83.6 534.4,86.9 534.5,85.3 534.6,88.9 534.8,83.9 534.9,91.6 535.0,97.1 535.1,92.6 535.2,94.3 535.3,99.2 535.4,96.1 535.5,88.8 535.6,88.6 535.7,91.5 535.8,94.3 536.0,93.0 536.1,87.5 536.2,89.9 536.3,93.6 536.4,90.4 536.5,96.6 536.6,86.9 536.7,89.7 536.8,99.5 536.9,93.0 537.0,85.3 537.2,96.0 537.3,90.8 537.4,92.0 537.5,94.5 537.6,102.4 537.7,95.2 537.8,90.3 537.9,95.1 538.0,93.8 538.1,85.9 538.2,89.9 538.4,100.9 538.5,96.8 538.6,98.5 538.7,89.9 538.8,88.1 538.9,83.5 539.0,75.9 539.1,92.2 539.2,81.4 539.3,90.5 539.4,82.6 539.6,88.1 539.7,82.8 539.8,93.1 539.9,85.0 540.0,83.9 540.1,89.8 540.2,81.0 540.3,91.1 540.4,87.7 540.5,92.7 540.7,81.7 540.8,96.4 540.9,77.3 541.0,83.7 541.1,92.4 541.2,88.3 541.3,85.0 541.4,88.3 541.5,83.7 541.6,92.8 541.7,95.5 541.9,98.9 542.0,85.0 542.1,96.8 542.2,97.5 542.3,92.4 542.4,92.7 542.5,92.4 542.6,85.9 542.7,83.4 542.8,89.2 542.9,93.3 543.1,89.9 543.2,82.0 543.3,90.1 543.4,82.8 543.5,96.7 543.6,96.4 543.7,90.4 543.8,96.6 543.9,97.0 544.0,92.5 544.1,87.2 544.3,98.9 544.4,95.9 544.5,88.3 544.6,95.4 544.7,88.3 544.8,96.5 544.9,96.5 545.0,85.6 545.1,86.3 545.2,91.8 545.3,89.4 545.5,79.9 545.6,93.1 545.7,86.4 545.8,97.6 545.9,86.4 546.0,90.8 546.1,89.3 546.2,91.4 546.3,86.9 546.4,83.6 546.6,92.4 546.7,95.4 546.8,88.3 546.9,91.6 547.0,87.3 547.1,86.6 547.2,93.3 547.3,96.2 547.4,100.2 547.5,93.4 547.6,86.5 547.8,77.1 547.9,90.7 548.0,96.1 548.1,95.1 548.2,96.3 548.3,91.1 548.4,100.5 548.5,99.1 548.6,102.0 548.7,96.7 548.8,98.6 549.0,84.1 549.1,89.3 549.2,88.0 549.3,97.7 549.4,90.9 549.5,84.0 549.6,83.2 549.7,90.5 549.8,85.6 549.9,95.3 550.0,96.3 550.2,101.3 550.3,91.6 550.4,82.0 550.5,98.8 550.6,93.3 550.7,94.3 550.8,89.6 550.9,94.1 551.0,91.3 551.1,95.4 551.2,98.4 551.4,103.4 551.5,103.6 551.6,93.4 551.7,98.6 551.8,94.9 551.9,98.3 552.0,96.0 552.1,93.9 552.2,99.8 552.3,100.1 552.4,86.4 552.6,91.3 552.7,86.2 552.8,84.2 552.9,85.5 553.0,88.7 553.1,89.7 553.2,97.3 553.3,95.4 553.4,89.2 553.5,87.6 553.7,92.1 553.8,94.9 553.9,100.0 554.0,96.2 554.1,97.6 554.2,88.0 554.3,91.2 554.4,96.9 554.5,93.4 554.6,89.7 554.7,107.8 554.9,100.4 555.0,98.2 555.1,100.4 555.2,97.8 555.3,93.7 555.4,97.8 555.5,97.4 555.6,100.5 555.7,98.0 555.8,94.9 555.9,89.0 556.1,86.0 556.2,92.3 556.3,92.9 556.4,95.4 556.5,98.6 556.6,98.1 556.7,91.3 556.8,97.8 556.9,88.8 557.0,95.8 557.1,99.0 557.3,103.6 557.4,94.9 557.5,98.1 557.6,96.2 557.7,90.9 557.8,103.7 557.9,97.8 558.0,101.3 558.1,92.7 558.2,99.1 558.3,102.1 558.5,100.5 558.6,108.4 558.7,99.8 558.8,100.6 558.9,87.9 559.0,98.7 559.1,90.2 559.2,90.6 559.3,93.6 559.4,93.6 559.6,104.2 559.7,95.1 559.8,95.1 559.9,90.5 560.0,93.3 560.1,87.7 560.2,97.8 560.3,98.8 560.4,90.1 560.5,89.3 560.6,94.5 560.8,97.8 560.9,91.9 561.0,89.0 561.1,95.6 561.2,87.6 561.3,99.0 561.4,102.2 561.5,94.6 561.6,105.7 561.7,102.8 561.8,100.7 562.0,105.6 562.1,105.8 562.2,100.6 562.3,100.8 562.4,98.3 562.5,93.3 562.6,98.4 562.7,96.4 562.8,94.5 562.9,100.0 563.0,100.2 563.2,103.0 563.3,97.0 563.4,94.3 563.5,98.6 563.6,97.8 563.7,95.1 563.8,94.6 563.9,93.3 564.0,91.8 564.1,91.3 564.2,98.4 564.4,101.2 564.5,92.8 564.6,103.3 564.7,104.0 564.8,95.4 564.9,91.8 565.0,98.8 565.1,98.2 565.2,102.9 565.3,96.5 565.4,99.2 565.6,102.5 565.7,102.6 565.8,96.4 565.9,98.0 566.0,94.3 566.1,92.3 566.2,98.2 566.3,87.6 566.4,88.5 566.5,89.9 566.7,94.3 566.8,97.3 566.9,101.4 567.0,100.8 567.1,82.9 567.2,91.9 567.3,97.5 567.4,102.4 567.5,104.1 567.6,96.2 567.7,99.8 567.9,92.1 568.0,101.8 568.1,98.3 568.2,101.7 568.3,97.1 568.4,95.2 568.5,94.2 568.6,106.0 568.7,88.0 568.8,88.1 568.9,98.9 569.1,90.5 569.2,100.3 569.3,106.5 569.4,105.6 569.5,101.9 569.6,103.3 569.7,108.6 569.8,105.2 569.9,105.5 570.0,100.8 570.1,101.4 570.3,96.8 570.4,108.9 570.5,103.0 570.6,111.7 570.7,97.6 570.8,98.7 570.9,103.6 571.0,97.4 571.1,101.5 571.2,99.5 571.3,96.5 571.5,98.5 571.6,103.7 571.7,100.7 571.8,94.6 571.9,100.0 572.0,103.2 572.1,108.5 572.2,94.1 572.3,97.6 572.4,104.6 572.6,100.4 572.7,107.9 572.8,93.8 572.9,98.7 573.0,104.5 573.1,109.2 573.2,108.8 573.3,104.6 573.4,111.3 573.5,102.6 573.6,104.6 573.8,109.1 573.9,100.6 574.0,113.8 574.1,101.7 574.2,108.9 574.3,107.5 574.4,109.1 574.5,106.2 574.6,97.1 574.7,105.9 574.8,108.1 575.0,103.4 575.1,109.0 575.2,101.0 575.3,105.1 575.4,113.3 575.5,107.6 575.6,107.2 575.7,106.6 575.8,114.7 575.9,105.4 576.0,113.6 576.2,108.3 576.3,106.6 576.4,101.6 576.5,111.4 576.6,104.4 576.7,100.2 576.8,103.0 576.9,103.2 577.0,112.3 577.1,103.4 577.2,109.9 577.4,110.7 577.5,112.8 577.6,109.8 577.7,107.7 577.8,114.4 577.9,119.0 578.0,109.7 578.1,109.0 578.2,110.7 578.3,107.4 578.4,111.1 578.6,95.4 578.7,96.0 578.8,100.4 578.9,103.3 579.0,106.7 579.1,108.7 579.2,110.8 579.3,110.7 579.4,112.9 579.5,113.0 579.7,113.3 579.8,112.3 579.9,105.5 580.0,105.1 580.1,111.9 580.2,107.4 580.3,112.5 580.4,106.7 580.5,107.0 580.6,112.3 580.7,100.5 580.9,111.8 581.0,106.1 581.1,106.1 581.2,108.9 581.3,101.3 581.4,102.3 581.5,108.5 581.6,94.1 581.7,98.6 581.8,90.6 581.9,102.5 582.1,106.4 582.2,89.9 582.3,101.6 582.4,97.8 582.5,104.6 582.6,103.8 582.7,101.6 582.8,103.0 582.9,95.5 583.0,107.4 583.1,101.6 583.3,95.3 583.4,100.1 583.5,99.8 583.6,98.2 583.7,101.2 583.8,98.4 583.9,105.0 584.0,109.5 584.1,98.1 584.2,101.5 584.3,91.5 584.5,97.7 584.6,96.1 584.7,101.2 584.8,92.9 584.9,93.7 585.0,97.0 585.1,95.0 585.2,92.6 585.3,100.1 585.4,95.0 585.6,96.4 585.7,89.3 585.8,87.7 585.9,89.7 586.0,91.4 586.1,97.9 586.2,92.8 586.3,93.3 586.4,94.7 586.5,98.9 586.6,101.6 586.8,96.1 586.9,97.3 587.0,104.8 587.1,105.3 587.2,100.7 587.3,97.3 587.4,85.1 587.5,93.5 587.6,101.4 587.7,93.6 587.8,86.4 588.0,90.8 588.1,90.9 588.2,97.6 588.3,93.9 588.4,92.4 588.5,96.2 588.6,89.7 588.7,87.5 588.8,92.1 588.9,92.7 589.0,88.0 589.2,96.4 589.3,84.5 589.4,84.4 589.5,91.0 589.6,93.4 589.7,85.3 589.8,93.6 589.9,91.5 590.0,89.5 590.1,92.4 590.2,101.1 590.4,98.7 590.5,103.4 590.6,97.3 590.7,99.8 590.8,102.4 590.9,91.1 591.0,89.4 591.1,92.1 591.2,97.7 591.3,97.8 591.4,87.5 591.6,87.8 591.7,86.7 591.8,86.1 591.9,99.0 592.0,93.4 592.1,89.5 592.2,89.5 592.3,86.5 592.4,97.3 592.5,93.1 592.7,105.2 592.8,103.6 592.9,92.8 593.0,90.1 593.1,89.6 593.2,101.0 593.3,111.5 593.4,97.8 593.5,95.5 593.6,98.1 593.7,95.8 593.9,90.6 594.0,94.0 594.1,91.0 594.2,93.9 594.3,92.8 594.4,89.7 594.5,96.7 594.6,89.5 594.7,101.5 594.8,98.3 594.9,100.8 595.1,94.7 595.2,96.4 595.3,103.8 595.4,100.2 595.5,92.0 595.6,101.1 595.7,96.0 595.8,96.1 595.9,96.5 596.0,90.7 596.1,93.5 596.3,93.3 596.4,93.2 596.5,96.7 596.6,99.5 596.7,97.7 596.8,100.1 596.9,99.8 597.0,100.6 597.1,99.8 597.2,106.5 597.3,102.9 597.5,103.8 597.6,102.8 597.7,109.9 597.8,99.7 597.9,101.8 598.0,96.3 598.1,100.0 598.2,102.2 598.3,97.2 598.4,88.9 598.6,98.1 598.7,103.9 598.8,106.1 598.9,104.0 599.0,105.3 599.1,101.2 599.2,100.4 599.3,103.7 599.4,102.7 599.5,92.4 599.6,99.6 599.8,107.4 599.9,106.1 600.0,109.4 600.1,102.5 600.2,108.8 600.3,105.2 600.4,103.2 600.5,104.4 600.6,104.8 600.7,96.6 600.8,99.3 601.0,97.9 601.1,98.1 601.2,99.1 601.3,103.9 601.4,106.9 601.5,111.4 601.6,99.9 601.7,96.5 601.8,110.5 601.9,107.4 602.0,95.3 602.2,102.5 602.3,104.8 602.4,97.0 602.5,94.8 602.6,94.8 602.7,90.9 602.8,103.6 602.9,97.0 603.0,91.6 603.1,103.8 603.2,105.8 603.4,104.7 603.5,105.0 603.6,97.9 603.7,105.7 603.8,101.4 603.9,99.9 604.0,94.2 604.1,99.3 604.2,114.3 604.3,104.0 604.4,106.0 604.6,105.7 604.7,102.8 604.8,111.1 604.9,105.2 605.0,110.9 605.1,111.4 605.2,93.6 605.3,104.8 605.4,101.4 605.5,95.5 605.7,96.1 605.8,103.2 605.9,111.8 606.0,107.9 606.1,101.5 606.2,96.4 606.3,99.9 606.4,106.0 606.5,108.4 606.6,102.7 606.7,98.2 606.9,100.4 607.0,104.6 607.1,100.6 607.2,103.8 607.3,104.7 607.4,99.5 607.5,102.6 607.6,105.5 607.7,92.9 607.8,92.7 607.9,96.9 608.1,91.2 608.2,97.8 608.3,98.7 608.4,97.4 608.5,98.6 608.6,105.2 608.7,100.1 608.8,99.0 608.9,98.5 609.0,98.5 609.1,95.8 609.3,91.8 609.4,102.5 609.5,95.1 609.6,91.7 609.7,99.0 609.8,98.5 609.9,97.8 610.0,99.2 610.1,93.4 610.2,106.0 610.3,101.8 610.5,96.9 610.6,97.3 610.7,90.3 610.8,93.8 610.9,103.8 611.0,106.4 611.1,97.7 611.2,95.3 611.3,99.7 611.4,98.8 611.6,101.3 611.7,107.0 611.8,94.4 611.9,102.6 612.0,97.9 612.1,108.6 612.2,99.3 612.3,93.6 612.4,103.5 612.5,103.2 612.6,95.8 612.8,103.5 612.9,97.1 613.0,96.2 613.1,100.6 613.2,97.0 613.3,93.8 613.4,103.9 613.5,97.4 613.6,104.9 613.7,99.8 613.8,97.9 614.0,95.5 614.1,95.6 614.2,105.1 614.3,94.4 614.4,100.4 614.5,102.0 614.6,91.6 614.7,102.3 614.8,96.2 614.9,98.1 615.0,96.6 615.2,104.8 615.3,91.9 615.4,91.1 615.5,95.7 615.6,104.6 615.7,101.5 615.8,103.7 615.9,94.3 616.0,103.8 616.1,94.9 616.2,95.2 616.4,109.4 616.5,102.3 616.6,97.9 616.7,92.6 616.8,96.5 616.9,100.3 617.0,97.8 617.1,101.5 617.2,93.2 617.3,98.0 617.4,99.5 617.6,91.4 617.7,90.6 617.8,97.0 617.9,93.6 618.0,96.1 618.1,92.8 618.2,98.1 618.3,97.6 618.4,97.6 618.5,94.4 618.7,96.7 618.8,95.3 618.9,96.9 619.0,96.6 619.1,93.0 619.2,102.3 619.3,81.7 619.4,82.7 619.5,89.9 619.6,87.0 619.7,103.3 619.9,95.7 620.0,95.7 620.1,90.1 620.2,92.3 620.3,89.5 620.4,93.7 620.5,99.9 620.6,95.0 620.7,103.4 620.8,99.3 620.9,93.5 621.1,89.5 621.2,91.7 621.3,95.4 621.4,88.7 621.5,89.3 621.6,92.2 621.7,95.8 621.8,92.2 621.9,93.5 622.0,83.7 622.1,90.7 622.3,92.0 622.4,96.3 622.5,91.7 622.6,88.8 622.7,90.2 622.8,83.6 622.9,89.2 623.0,79.6 623.1,81.1 623.2,85.1 623.3,91.6 623.5,97.2 623.6,92.7 623.7,96.2 623.8,95.2 623.9,93.5 624.0,89.3 624.1,87.0 624.2,86.4 624.3,91.1 624.4,85.7 624.6,80.3 624.7,87.4 624.8,89.3 624.9,82.1 625.0,81.4 625.1,83.3 625.2,78.0 625.3,92.7 625.4,90.6 625.5,96.5 625.6,92.2 625.8,92.0 625.9,89.6 626.0,80.0 626.1,87.2 626.2,82.8 626.3,93.3 626.4,90.7 626.5,91.3 626.6,82.1 626.7,82.2 626.8,84.9 627.0,95.3 627.1,93.9 627.2,90.0 627.3,90.1 627.4,82.3 627.5,87.3 627.6,83.3 627.7,95.9 627.8,80.8 627.9,84.1 628.0,74.7 628.2,75.1 628.3,74.0 628.4,89.0 628.5,83.7 628.6,87.4 628.7,85.2 628.8,80.6 628.9,75.8 629.0,76.8 629.1,75.7 629.2,83.4 629.4,81.6 629.5,82.0 629.6,93.1 629.7,79.4 629.8,88.6 629.9,83.5 630.0,85.2 630.1,86.5 630.2,93.7 630.3,87.1 630.4,92.1 630.6,100.6 630.7,100.7 630.8,92.4 630.9,92.1 631.0,98.4 631.1,92.0 631.2,88.5 631.3,87.2 631.4,87.2 631.5,90.7 631.7,89.1 631.8,96.3 631.9,87.1 632.0,95.0 632.1,89.5 632.2,89.1 632.3,94.0 632.4,87.1 632.5,86.7 632.6,80.2 632.7,85.9 632.9,83.3 633.0,92.6 633.1,94.1 633.2,93.6 633.3,90.9 633.4,95.5 633.5,102.4 633.6,100.2 633.7,95.2 633.8,103.2 633.9,94.7 634.1,89.1 634.2,91.1 634.3,92.0 634.4,87.9 634.5,89.0 634.6,97.5 634.7,91.8 634.8,91.4 634.9,93.8 635.0,89.0 635.1,90.6 635.3,88.0 635.4,95.8 635.5,100.5 635.6,94.5 635.7,82.4 635.8,95.6 635.9,88.4 636.0,93.4 636.1,90.0 636.2,104.6 636.3,96.5 636.5,94.2 636.6,98.7 636.7,101.6 636.8,86.7 636.9,98.6 637.0,91.8 637.1,86.3 637.2,98.0 637.3,94.9 637.4,89.4 637.6,88.8 637.7,93.7 637.8,98.1 637.9,104.6 638.0,102.2 638.1,104.6 638.2,98.4 638.3,95.4 638.4,105.3 638.5,106.5 638.6,96.6 638.8,96.5 638.9,94.4 639.0,101.3 639.1,100.6 639.2,98.1 639.3,93.7 639.4,83.9 639.5,99.1 639.6,85.0 639.7,89.0 639.8,84.5 640.0,91.2 640.1,88.2 640.2,90.9 640.3,86.1 640.4,91.7 640.5,90.2 640.6,84.8 640.7,94.4 640.8,88.8 640.9,100.7 641.0,91.8 641.2,93.7 641.3,91.8 641.4,94.0 641.5,102.4 641.6,92.6 641.7,91.4 641.8,92.4 641.9,92.5 642.0,98.5 642.1,97.2 642.2,91.0 642.4,97.0 642.5,94.3 642.6,90.0 642.7,94.3 642.8,94.3 642.9,94.1 643.0,107.6 643.1,85.4 643.2,94.7 643.3,96.1 643.4,91.2 643.6,90.1 643.7,98.6 643.8,97.3 643.9,100.1 644.0,88.9 644.1,95.9 644.2,100.6 644.3,104.8 644.4,98.7 644.5,87.6 644.7,92.8 644.8,92.0 644.9,96.4 645.0,98.6 645.1,100.0 645.2,91.4 645.3,101.5 645.4,94.9 645.5,93.6 645.6,90.2 645.7,94.9 645.9,101.8 646.0,102.9 646.1,88.9 646.2,100.2 646.3,102.4 646.4,100.1 646.5,104.3 646.6,101.3 646.7,102.9 646.8,91.0 646.9,98.2 647.1,94.8 647.2,94.1 647.3,90.4 647.4,94.2 647.5,94.2 647.6,82.9 647.7,91.3 647.8,98.5 647.9,95.0 648.0,102.9 648.1,95.8 648.3,104.0 648.4,104.2 648.5,107.8 648.6,106.7 648.7,95.8 648.8,103.9 648.9,104.1 649.0,89.9 649.1,105.1 649.2,100.1 649.3,93.8 649.5,104.0 649.6,99.7 649.7,95.8 649.8,94.0 649.9,96.6 650.0,97.7 650.1,97.5 650.2,96.8 650.3,95.1 650.4,103.3 650.6,103.9 650.7,104.0 650.8,97.0 650.9,94.9 651.0,89.5 651.1,102.1 651.2,100.1 651.3,93.2 651.4,91.9 651.5,96.9 651.6,89.8 651.8,100.3 651.9,107.1 652.0,94.3 652.1,89.6 652.2,102.3 652.3,103.9 652.4,106.1 652.5,106.8 652.6,104.5 652.7,108.3 652.8,95.9 653.0,105.0 653.1,104.1 653.2,106.5 653.3,94.5 653.4,109.1 653.5,107.0 653.6,100.5 653.7,105.3 653.8,99.4 653.9,105.5 654.0,96.7 654.2,99.4 654.3,103.3 654.4,100.6 654.5,103.2 654.6,103.7 654.7,93.5 654.8,97.5 654.9,105.4 655.0,102.3 655.1,104.2 655.2,97.5 655.4,100.5 655.5,102.8 655.6,96.3 655.7,101.5 655.8,96.6 655.9,104.8 656.0,110.6 656.1,106.7 656.2,103.1 656.3,101.7 656.4,107.1 656.6,101.9 656.7,113.7 656.8,107.0 656.9,107.7 657.0,109.7 657.1,104.2 657.2,108.9 657.3,105.2 657.4,101.1 657.5,101.7 657.7,106.2 657.8,101.0 657.9,96.0 658.0,102.9 658.1,106.1 658.2,113.7 658.3,105.7 658.4,110.9 658.5,102.4 658.6,104.2 658.7,103.7 658.9,102.4 659.0,107.1 659.1,100.7 659.2,107.2 659.3,106.4 659.4,100.7 659.5,112.3 659.6,103.7 659.7,98.1 659.8,107.9 659.9,100.0 660.1,106.2 660.2,101.5 660.3,97.6 660.4,112.2 660.5,103.0 660.6,100.5 660.7,101.2 660.8,102.4 660.9,105.5 661.0,106.8 661.1,96.1 661.3,103.0 661.4,113.4 661.5,109.7 661.6,114.6 661.7,109.7 661.8,107.1 661.9,114.2 662.0,105.2 662.1,109.2 662.2,106.1 662.3,105.6 662.5,96.7 662.6,108.5 662.7,101.7 662.8,107.3 662.9,102.3 663.0,107.0 663.1,107.7 663.2,98.3 663.3,97.7 663.4,109.2 663.6,104.4 663.7,104.4 663.8,111.3 663.9,106.2 664.0,103.0 664.1,105.9 664.2,98.6 664.3,102.5 664.4,102.1 664.5,101.5 664.6,98.6 664.8,104.3 664.9,109.5 665.0,110.9 665.1,101.1 665.2,101.9 665.3,109.1 665.4,103.7 665.5,111.3 665.6,103.3 665.7,101.4 665.8,98.7 666.0,104.7 666.1,99.9 666.2,108.6 666.3,106.9 666.4,110.1 666.5,107.2"/>
<polyline fill="none" stroke="#ff00ff" stroke-width="0.55" stroke-opacity="1.0" stroke-linejoin="round" points="393.5,71.7 393.6,74.6 393.7,77.4 393.8,81.7 393.9,86.0 394.0,75.6 394.2,78.4 394.3,82.4 394.4,85.7 394.5,89.2 394.6,87.5 394.7,79.1 394.8,85.6 394.9,81.4 395.0,84.3 395.1,84.5 395.2,83.3 395.4,78.4 395.5,76.2 395.6,81.8 395.7,80.1 395.8,70.2 395.9,83.9 396.0,82.1 396.1,68.8 396.2,83.8 396.3,78.4 396.4,80.8 396.6,73.6 396.7,73.9 396.8,81.8 396.9,84.0 397.0,84.3 397.1,91.1 397.2,81.5 397.3,75.2 397.4,77.1 397.5,83.3 397.7,85.2 397.8,85.6 397.9,83.0 398.0,84.2 398.1,80.3 398.2,86.0 398.3,85.6 398.4,83.6 398.5,79.8 398.6,81.1 398.7,83.1 398.9,95.7 399.0,85.1 399.1,80.9 399.2,83.0 399.3,83.2 399.4,90.9 399.5,89.5 399.6,78.2 399.7,82.9 399.8,84.3 399.9,78.5 400.1,89.1 400.2,88.7 400.3,90.8 400.4,82.2 400.5,83.6 400.6,85.8 400.7,86.3 400.8,89.0 400.9,87.8 401.0,82.1 401.1,81.4 401.3,78.6 401.4,88.2 401.5,75.9 401.6,74.9 401.7,73.0 401.8,73.7 401.9,80.0 402.0,77.9 402.1,80.5 402.2,71.9 402.3,88.6 402.5,83.4 402.6,70.6 402.7,80.7 402.8,74.4 402.9,93.6 403.0,88.5 403.1,84.5 403.2,79.4 403.3,94.7 403.4,82.3 403.6,84.4 403.7,85.8 403.8,84.5 403.9,78.0 404.0,88.1 404.1,85.6 404.2,90.4 404.3,82.5 404.4,84.0 404.5,86.5 404.6,87.4 404.8,84.2 404.9,79.3 405.0,85.8 405.1,76.8 405.2,81.4 405.3,77.1 405.4,79.5 405.5,82.9 405.6,81.2 405.7,78.7 405.8,79.0 406.0,79.4 406.1,78.7 406.2,87.2 406.3,78.3 406.4,85.9 406.5,84.4 406.6,77.2 406.7,84.7 406.8,78.5 406.9,83.9 407.0,86.2 407.2,78.4 407.3,83.8 407.4,78.7 407.5,82.0 407.6,83.0 407.7,81.7 407.8,82.4 407.9,86.6 408.0,86.7 408.1,84.6 408.2,82.1 408.4,80.1 408.5,73.6 408.6,80.3 408.7,79.3 408.8,82.6 408.9,77.9 409.0,84.3 409.1,81.8 409.2,78.2 409.3,76.9 409.4,67.5 409.6,84.1 409.7,76.9 409.8,83.5 409.9,82.5 410.0,80.3 410.1,79.6 410.2,83.3 410.3,81.6 410.4,84.8 410.5,75.8 410.7,82.1 410.8,91.9 410.9,84.5 411.0,92.2 411.1,88.1 411.2,79.8 411.3,86.6 411.4,86.3 411.5,78.1 411.6,90.8 411.7,85.4 411.9,84.7 412.0,73.9 412.1,75.9 412.2,73.2 412.3,76.0 412.4,81.3 412.5,83.3 412.6,78.9 412.7,69.7 412.8,83.4 412.9,73.3 413.1,72.9 413.2,73.5 413.3,82.8 413.4,66.9 413.5,83.4 413.6,76.1 413.7,76.0 413.8,68.8 413.9,79.2 414.0,79.2 414.1,76.9 414.3,72.5 414.4,74.9 414.5,67.9 414.6,74.0 414.7,81.2 414.8,84.0 414.9,73.4 415.0,84.1 415.1,77.3 415.2,81.0 415.3,67.6 415.5,69.0 415.6,73.9 415.7,79.2 415.8,82.8 415.9,72.4 416.0,83.2 416.1,88.2 416.2,78.3 416.3,82.7 416.4,73.4 416.6,75.9 416.7,68.5 416.8,70.2 416.9,67.0 417.0,78.3 417.1,80.6 417.2,69.3 417.3,74.4 417.4,71.3 417.5,70.1 417.6,71.3 417.8,72.5 417.9,73.9 418.0,74.0 418.1,75.5 418.2,82.7 418.3,76.2 418.4,75.8 418.5,71.9 418.6,72.7 418.7,74.1 418.8,72.9 419.0,74.4 419.1,67.8 419.2,71.7 419.3,70.0 419.4,77.4 419.5,76.1 419.6,78.1 419.7,78.7 419.8,76.6 419.9,83.0 420.0,78.2 420.2,83.0 420.3,65.7 420.4,72.7 420.5,72.8 420.6,81.6 420.7,78.9 420.8,78.3 420.9,75.6 421.0,74.7 421.1,77.7 421.2,78.2 421.4,69.6 421.5,79.7 421.6,77.0 421.7,82.5 421.8,79.8 421.9,76.1 422.0,76.1 422.1,71.9 422.2,77.1 422.3,82.0 422.4,74.7 422.6,85.5 422.7,71.9 422.8,79.7 422.9,75.4 423.0,81.7 423.1,75.4 423.2,78.8 423.3,80.4 423.4,70.4 423.5,76.4 423.7,80.6 423.8,73.1 423.9,79.0 424.0,78.5 424.1,75.0 424.2,82.6 424.3,84.3 424.4,81.1 424.5,77.8 424.6,79.2 424.7,77.2 424.9,80.1 425.0,82.9 425.1,77.2 425.2,77.7 425.3,88.7 425.4,86.0 425.5,73.9 425.6,83.5 425.7,84.0 425.8,84.1 425.9,83.1 426.1,76.0 426.2,79.3 426.3,82.5 426.4,87.6 426.5,80.4 426.6,85.0 426.7,85.3 426.8,77.7 426.9,83.2 427.0,95.3 427.1,80.2 427.3,85.9 427.4,77.7 427.5,80.3 427.6,82.6 427.7,83.0 427.8,90.9 427.9,94.4 428.0,92.2 428.1,80.7 428.2,87.3 428.3,85.0 428.5,85.5 428.6,93.4 428.7,83.5 428.8,91.1 428.9,85.2 429.0,89.0 429.1,85.8 429.2,88.4 429.3,90.8 429.4,92.5 429.6,79.9 429.7,82.7 429.8,69.6 429.9,77.4 430.0,83.1 430.1,70.5 430.2,75.9 430.3,72.6 430.4,75.9 430.5,78.1 430.6,78.5 430.8,71.4 430.9,69.3 431.0,74.7 431.1,76.1 431.2,76.4 431.3,83.1 431.4,82.6 431.5,81.1 431.6,84.2 431.7,80.2 431.8,91.1 432.0,87.6 432.1,83.0 432.2,84.6 432.3,88.2 432.4,83.7 432.5,74.6 432.6,90.2 432.7,81.8 432.8,77.4 432.9,77.9 433.0,81.2 433.2,74.9 433.3,80.5 433.4,78.6 433.5,83.9 433.6,88.4 433.7,79.8 433.8,94.3 433.9,79.9 434.0,83.8 434.1,88.9 434.2,85.0 434.4,87.5 434.5,76.2 434.6,76.3 434.7,81.3 434.8,83.0 434.9,85.1 435.0,82.2 435.1,80.3 435.2,78.5 435.3,77.5 435.4,77.9 435.6,74.9 435.7,79.4 435.8,85.7 435.9,85.8 436.0,82.3 436.1,88.0 436.2,87.4 436.3,84.5 436.4,83.4 436.5,84.3 436.7,88.8 436.8,85.1 436.9,82.0 437.0,86.1 437.1,85.5 437.2,81.4 437.3,81.8 437.4,77.5 437.5,83.0 437.6,84.7 437.7,85.7 437.9,81.5 438.0,97.5 438.1,90.1 438.2,88.6 438.3,85.4 438.4,92.0 438.5,84.6 438.6,90.3 438.7,83.6 438.8,93.2 438.9,80.6 439.1,86.8 439.2,89.3 439.3,85.1 439.4,87.4 439.5,84.3 439.6,92.8 439.7,80.1 439.8,77.0 439.9,75.8 440.0,93.2 440.1,79.2 440.3,89.8 440.4,81.8 440.5,80.7 440.6,92.3 440.7,81.7 440.8,87.9 440.9,81.3 441.0,77.1 441.1,81.8 441.2,77.6 441.3,79.1 441.5,78.9 441.6,71.2 441.7,80.4 441.8,79.0 441.9,73.2 442.0,84.4 442.1,82.3 442.2,91.2 442.3,84.0 442.4,85.2 442.6,91.8 442.7,74.5 442.8,75.0 442.9,76.0 443.0,77.0 443.1,85.8 443.2,81.3 443.3,88.1 443.4,74.3 443.5,79.3 443.6,83.8 443.8,81.4 443.9,80.1 444.0,76.1 444.1,84.5 444.2,82.0 444.3,74.6 444.4,79.5 444.5,66.6 444.6,79.1 444.7,85.2 444.8,74.2 445.0,86.0 445.1,83.9 445.2,79.7 445.3,86.1 445.4,72.5 445.5,73.2 445.6,76.7 445.7,81.3 445.8,72.9 445.9,68.3 446.0,70.9 446.2,87.9 446.3,80.0 446.4,71.2 446.5,73.0 446.6,79.9 446.7,86.2 446.8,79.3 446.9,89.0 447.0,81.9 447.1,73.5 447.2,77.0 447.4,80.1 447.5,80.7 447.6,73.1 447.7,76.4 447.8,71.4 447.9,76.9 448.0,80.9 448.1,72.9 448.2,77.0 448.3,79.8 448.4,71.8 448.6,79.8 448.7,71.0 448.8,77.0 448.9,72.5 449.0,71.0 449.1,74.3 449.2,79.9 449.3,74.4 449.4,78.2 449.5,80.3 449.7,79.7 449.8,73.6 449.9,70.9 450.0,73.6 450.1,72.7 450.2,74.4 450.3,80.0 450.4,81.2 450.5,77.3 450.6,73.2 450.7,72.2 450.9,79.7 451.0,79.4 451.1,78.9 451.2,76.9 451.3,75.2 451.4,67.1 451.5,75.5 451.6,70.0 451.7,64.9 451.8,64.3 451.9,60.1 452.1,62.6 452.2,72.1 452.3,69.4 452.4,67.7 452.5,69.4 452.6,67.5 452.7,69.6 452.8,74.5 452.9,70.8 453.0,71.4 453.1,66.1 453.3,67.4 453.4,78.7 453.5,74.2 453.6,79.6 453.7,72.3 453.8,81.7 453.9,82.6 454.0,80.7 454.1,79.6 454.2,74.9 454.3,75.0 454.5,76.6 454.6,75.6 454.7,73.1 454.8,68.9 454.9,68.1 455.0,65.7 455.1,71.0 455.2,68.8 455.3,75.7 455.4,69.4 455.6,66.7 455.7,71.3 455.8,76.7 455.9,79.4 456.0,68.4 456.1,69.6 456.2,71.7 456.3,72.3 456.4,67.9 456.5,77.3 456.6,74.8 456.8,79.9 456.9,74.1 457.0,80.5 457.1,77.8 457.2,81.6 457.3,78.0 457.4,75.0 457.5,66.0 457.6,75.1 457.7,66.5 457.8,73.5 458.0,65.1 458.1,61.9 458.2,74.3 458.3,76.7 458.4,80.2 458.5,69.6 458.6,67.7 458.7,68.7 458.8,71.3 458.9,77.3 459.0,74.4 459.2,72.5 459.3,70.6 459.4,65.1 459.5,76.0 459.6,70.9 459.7,81.7 459.8,75.5 459.9,79.7 460.0,77.2 460.1,85.3 460.2,90.5 460.4,90.9 460.5,82.4 460.6,88.9 460.7,88.3 460.8,89.4 460.9,85.3 461.0,85.1 461.1,85.7 461.2,79.9 461.3,83.3 461.4,88.6 461.6,76.4 461.7,84.5 461.8,76.2 461.9,79.9 462.0,87.9 462.1,80.3 462.2,88.2 462.3,74.5 462.4,89.7 462.5,80.9 462.7,94.8 462.8,80.2 462.9,78.8 463.0,77.4 463.1,81.0 463.2,82.5 463.3,89.7 463.4,87.2 463.5,93.9 463.6,96.2 463.7,85.0 463.9,92.4 464.0,86.1 464.1,89.9 464.2,93.1 464.3,87.8 464.4,87.5 464.5,80.3 464.6,100.1 464.7,86.3 464.8,97.1 464.9,90.3 465.1,95.6 465.2,87.8 465.3,95.4 465.4,88.4 465.5,87.0 465.6,83.9 465.7,87.2 465.8,83.5 465.9,84.1 466.0,77.1 466.1,86.9 466.3,80.2 466.4,85.6 466.5,83.2 466.6,81.3 466.7,85.5 466.8,89.2 466.9,92.1 467.0,92.9 467.1,88.9 467.2,91.0 467.3,83.9 467.5,79.3 467.6,95.8 467.7,87.8 467.8,89.8 467.9,79.9 468.0,89.1 468.1,90.2 468.2,93.1 468.3,81.3 468.4,87.1 468.6,87.7 468.7,89.4 468.8,94.7 468.9,88.6 469.0,93.7 469.1,89.9 469.2,88.8 469.3,87.2 469.4,83.9 469.5,86.0 469.6,87.0 469.8,86.0 469.9,83.0 470.0,79.5 470.1,85.0 470.2,80.2 470.3,90.7 470.4,81.1 470.5,81.6 470.6,85.2 470.7,79.3 470.8,80.7 471.0,86.0 471.1,76.1 471.2,88.6 471.3,75.7 471.4,85.3 471.5,74.2 471.6,74.5 471.7,70.8 471.8,83.0 471.9,78.5 472.0,69.3 472.2,83.0 472.3,74.0 472.4,77.7 472.5,77.4 472.6,74.9 472.7,94.4 472.8,79.8 472.9,82.4 473.0,93.2 473.1,85.3 473.2,79.1 473.4,89.1 473.5,97.5 473.6,83.7 473.7,78.9 473.8,79.2 473.9,80.0 474.0,79.6 474.1,79.4 474.2,81.6 474.3,81.0 474.4,82.8 474.6,88.0 474.7,73.8 474.8,81.7 474.9,83.3 475.0,77.1 475.1,93.3 475.2,88.6 475.3,79.9 475.4,96.3 475.5,80.4 475.7,86.3 475.8,93.3 475.9,87.7 476.0,92.7 476.1,80.9 476.2,81.3 476.3,81.9 476.4,87.5 476.5,93.7 476.6,95.5 476.7,83.7 476.9,79.5 477.0,86.8 477.1,83.4 477.2,82.0 477.3,86.3 477.4,87.3 477.5,89.7 477.6,91.6 477.7,93.0 477.8,96.4 477.9,98.6 478.1,93.7 478.2,86.4 478.3,89.2 478.4,84.2 478.5,77.7 478.6,82.7 478.7,85.1 478.8,89.0 478.9,89.2 479.0,84.4 479.1,80.5 479.3,87.8 479.4,91.3 479.5,86.6 479.6,86.5 479.7,80.8 479.8,77.5 479.9,84.7 480.0,79.5 480.1,69.7 480.2,79.6 480.3,83.5 480.5,88.5 480.6,77.4 480.7,76.9 480.8,79.1 480.9,77.5 481.0,85.7 481.1,83.3 481.2,76.4 481.3,81.4 481.4,81.0 481.6,80.6 481.7,74.2 481.8,66.7 481.9,78.8 482.0,75.9 482.1,85.6 482.2,86.8 482.3,82.9 482.4,91.6 482.5,87.1 482.6,72.2 482.8,84.0 482.9,86.4 483.0,85.2 483.1,82.0 483.2,76.4 483.3,78.6 483.4,77.1 483.5,79.8 483.6,75.5 483.7,76.0 483.8,78.4 484.0,74.3 484.1,85.7 484.2,75.9 484.3,85.5 484.4,76.2 484.5,80.5 484.6,77.1 484.7,83.2 484.8,84.5 484.9,76.6 485.0,89.6 485.2,88.4 485.3,82.9 485.4,79.1 485.5,75.0 485.6,87.4 485.7,81.8 485.8,87.4 485.9,74.7 486.0,79.0 486.1,87.4 486.2,87.3 486.4,83.6 486.5,89.8 486.6,83.4 486.7,94.3 486.8,83.8 486.9,81.2 487.0,83.0 487.1,90.0 487.2,88.0 487.3,80.0 487.4,87.3 487.6,90.7 487.7,92.6 487.8,88.1 487.9,88.4 488.0,76.9 488.1,78.9 488.2,93.5 488.3,86.5 488.4,86.0 488.5,92.9 488.7,84.9 488.8,83.3 488.9,87.2 489.0,86.7 489.1,74.6 489.2,75.5 489.3,86.1 489.4,86.7 489.5,77.3 489.6,82.5 489.7,86.7 489.9,84.9 490.0,84.6 490.1,92.4 490.2,82.6 490.3,86.8 490.4,87.5 490.5,84.6 490.6,82.1 490.7,87.6 490.8,87.4 490.9,82.1 491.1,71.1 491.2,88.3 491.3,83.9 491.4,84.6 491.5,82.2 491.6,88.5 491.7,81.8 491.8,82.3 491.9,80.7 492.0,87.0 492.1,85.0 492.3,75.4 492.4,83.6 492.5,71.5 492.6,73.5 492.7,77.8 492.8,74.8 492.9,77.4 493.0,73.7 493.1,75.3 493.2,75.7 493.3,81.2 493.5,73.1 493.6,71.1 493.7,77.8 493.8,78.6 493.9,85.4 494.0,84.8 494.1,87.1 494.2,77.8 494.3,90.8 494.4,79.1 494.6,83.0 494.7,85.5 494.8,84.5 494.9,89.9 495.0,83.9 495.1,88.2 495.2,85.5 495.3,84.1 495.4,83.0 495.5,84.1 495.6,83.6 495.8,86.1 495.9,78.0 496.0,80.4 496.1,76.0 496.2,88.3 496.3,85.9 496.4,89.9 496.5,85.2 496.6,83.2 496.7,84.8 496.8,82.0 497.0,78.0 497.1,87.7 497.2,82.8 497.3,85.4 497.4,87.6 497.5,87.1 497.6,99.3 497.7,93.8 497.8,86.4 497.9,85.9 498.0,96.2 498.2,82.4 498.3,89.9 498.4,92.4 498.5,92.9 498.6,82.7 498.7,87.4 498.8,85.2 498.9,89.2 499.0,81.3 499.1,85.2 499.2,79.0 499.4,83.4 499.5,78.7 499.6,83.5 499.7,79.4 499.8,87.9 499.9,81.5 500.0,85.3 500.1,80.5 500.2,87.9 500.3,85.7 500.4,91.3 500.6,87.7 500.7,80.3 500.8,93.5 500.9,80.7 501.0,92.2 501.1,91.1 501.2,99.2 501.3,87.0 501.4,94.6 501.5,92.0 501.7,89.8 501.8,95.6 501.9,86.2 502.0,85.0 502.1,85.4 502.2,89.9 502.3,83.3 502.4,96.9 502.5,91.9 502.6,95.5 502.7,90.5 502.9,86.6 503.0,86.9 503.1,89.6 503.2,98.7 503.3,93.1 503.4,93.6 503.5,86.1 503.6,81.4 503.7,96.5 503.8,86.6 503.9,88.7 504.1,88.7 504.2,86.3 504.3,92.2 504.4,83.3 504.5,94.3 504.6,86.8 504.7,82.8 504.8,84.1 504.9,82.7 505.0,88.3 505.1,90.4 505.3,88.6 505.4,85.0 505.5,82.9 505.6,92.4 505.7,89.7 505.8,91.9 505.9,88.8 506.0,85.5 506.1,85.4 506.2,78.7 506.3,80.6 506.5,82.6 506.6,73.6 506.7,75.2 506.8,85.4 506.9,84.5 507.0,86.6 507.1,94.9 507.2,80.5 507.3,88.7 507.4,89.2 507.6,87.7 507.7,92.1 507.8,90.6 507.9,89.4 508.0,80.2 508.1,82.0 508.2,89.4 508.3,74.9 508.4,91.3 508.5,92.6 508.6,95.5 508.8,84.6 508.9,92.5 509.0,77.9 509.1,82.8 509.2,84.5 509.3,93.5 509.4,84.9 509.5,91.1 509.6,90.5 509.7,76.9 509.8,81.2 510.0,73.7 510.1,92.2 510.2,87.6 510.3,82.9 510.4,82.7 510.5,84.4 510.6,89.8 510.7,77.4 510.8,80.4 510.9,77.5 511.0,86.2 511.2,85.7 511.3,78.1 511.4,76.8 511.5,88.1 511.6,88.1 511.7,84.0 511.8,84.9 511.9,85.6 512.0,90.2 512.1,81.5 512.2,90.2 512.4,89.8 512.5,90.1 512.6,87.5 512.7,86.8 512.8,90.7 512.9,88.0 513.0,85.5 513.1,87.9 513.2,89.2 513.3,87.3 513.4,87.1 513.6,86.0 513.7,77.6 513.8,84.9 513.9,83.1 514.0,90.7 514.1,95.7 514.2,86.8 514.3,101.2 514.4,91.1 514.5,90.9 514.7,86.7 514.8,88.5 514.9,91.0 515.0,93.2 515.1,88.2 515.2,82.4 515.3,85.3 515.4,80.8 515.5,78.5 515.6,77.1 515.7,81.1 515.9,75.5 516.0,76.1 516.1,77.7 516.2,79.6 516.3,82.0 516.4,82.7 516.5,70.4 516.6,86.1 516.7,86.0 516.8,85.9 516.9,87.5 517.1,78.6 517.2,87.9 517.3,85.7 517.4,96.8 517.5,86.4 517.6,86.5 517.7,87.3 517.8,91.1 517.9,98.4 518.0,89.5 518.1,94.7 518.3,90.5 518.4,92.8 518.5,83.3 518.6,92.8 518.7,88.0 518.8,98.8 518.9,84.8 519.0,95.1 519.1,83.5 519.2,88.5 519.3,84.3 519.5,79.0 519.6,79.4 519.7,81.5 519.8,78.8 519.9,78.7 520.0,90.0 520.1,81.0 520.2,78.9 520.3,83.3 520.4,88.5 520.6,78.0 520.7,86.2 520.8,73.2 520.9,80.2 521.0,81.6 521.1,83.6 521.2,88.9 521.3,89.7 521.4,78.5 521.5,91.7 521.6,85.6 521.8,86.5 521.9,82.8 522.0,82.0 522.1,88.4 522.2,87.4 522.3,82.2 522.4,77.0 522.5,80.1 522.6,84.5 522.7,83.0 522.8,89.6 523.0,82.8 523.1,84.4 523.2,88.5 523.3,83.0 523.4,75.7 523.5,83.5 523.6,86.5 523.7,91.3 523.8,74.9 523.9,85.1 524.0,85.4 524.2,86.5 524.3,83.4 524.4,91.7 524.5,89.1 524.6,79.4 524.7,83.0 524.8,96.2 524.9,78.7 525.0,80.9 525.1,85.1 525.2,91.5 525.4,86.2 525.5,80.1 525.6,84.5 525.7,79.7 525.8,84.1 525.9,90.0 526.0,73.8 526.1,80.7 526.2,72.9 526.3,75.7 526.4,77.4 526.6,85.9 526.7,90.8 526.8,90.1 526.9,79.5 527.0,85.1 527.1,82.0 527.2,89.2 527.3,82.1 527.4,79.0 527.5,81.9 527.7,85.5 527.8,77.5 527.9,80.6 528.0,75.0 528.1,85.3 528.2,73.2 528.3,78.8 528.4,81.1 528.5,79.5 528.6,73.6 528.7,76.7 528.9,72.2 529.0,62.9 529.1,70.6 529.2,82.2 529.3,80.1 529.4,67.7 529.5,71.7 529.6,73.7 529.7,67.6 529.8,77.9 529.9,75.9 530.1,76.6 530.2,74.2 530.3,74.6 530.4,84.0 530.5,78.9 530.6,77.3 530.7,82.1 530.8,79.3 530.9,82.1 531.0,82.0 531.1,89.4 531.3,84.6 531.4,81.6 531.5,83.7 531.6,80.8 531.7,87.7 531.8,87.8 531.9,89.3 532.0,85.8 532.1,90.4 532.2,87.8 532.3,82.4 532.5,94.0 532.6,83.4 532.7,81.9 532.8,82.0 532.9,78.0 533.0,87.3 533.1,81.8 533.2,89.3 533.3,89.8 533.4,84.9 533.6,88.8 533.7,86.4 533.8,77.6 533.9,86.0 534.0,83.1 534.1,87.9 534.2,80.0 534.3,84.9 534.4,80.1 534.5,86.6 534.6,90.5 534.8,87.0 534.9,81.1 535.0,74.9 535.1,88.9 535.2,85.5 535.3,81.9 535.4,90.1 535.5,87.5 535.6,93.3 535.7,81.0 535.8,90.0 536.0,90.9 536.1,92.4 536.2,86.5 536.3,85.2 536.4,90.1 536.5,84.1 536.6,74.9 536.7,83.2 536.8,77.1 536.9,91.0 537.0,86.0 537.2,90.2 537.3,89.7 537.4,82.3 537.5,82.6 537.6,86.8 537.7,86.8 537.8,81.8 537.9,79.3 538.0,86.6 538.1,89.5 538.2,81.4 538.4,81.0 538.5,80.0 538.6,72.4 538.7,79.2 538.8,81.6 538.9,73.4 539.0,82.7 539.1,87.4 539.2,88.4 539.3,84.7 539.4,81.8 539.6,88.3 539.7,80.4 539.8,90.1 539.9,86.6 540.0,87.4 540.1,88.5 540.2,84.9 540.3,89.6 540.4,78.6 540.5,85.6 540.7,78.1 540.8,89.2 540.9,85.0 541.0,91.3 541.1,80.8 541.2,91.9 541.3,81.9 541.4,78.6 541.5,79.5 541.6,89.1 541.7,87.7 541.9,87.4 542.0,85.2 542.1,90.5 542.2,96.4 542.3,87.1 542.4,80.4 542.5,91.9 542.6,82.4 542.7,82.4 542.8,79.1 542.9,81.4 543.1,83.6 543.2,77.3 543.3,88.0 543.4,81.8 543.5,93.4 543.6,90.0 543.7,85.8 543.8,90.1 543.9,90.5 544.0,79.4 544.1,94.0 544.3,94.5 544.4,81.9 544.5,88.6 544.6,89.8 544.7,96.0 544.8,90.6 544.9,88.4 545.0,82.4 545.1,83.9 545.2,83.9 545.3,80.9 545.5,82.1 545.6,87.0 545.7,84.4 545.8,85.7 545.9,85.9 546.0,90.6 546.1,82.7 546.2,81.0 546.3,96.2 546.4,88.9 546.6,78.0 546.7,76.8 546.8,95.7 546.9,87.9 547.0,90.9 547.1,100.3 547.2,80.4 547.3,73.1 547.4,86.0 547.5,80.8 547.6,97.2 547.8,84.0 547.9,83.2 548.0,84.0 548.1,85.6 548.2,83.5 548.3,79.7 548.4,84.1 548.5,79.0 548.6,76.7 548.7,80.1 548.8,81.4 549.0,89.5 549.1,86.7 549.2,89.8 549.3,94.0 549.4,78.2 549.5,79.5 549.6,85.0 549.7,87.5 549.8,92.0 549.9,82.8 550.0,78.6 550.2,89.7 550.3,89.0 550.4,79.2 550.5,81.7 550.6,77.1 550.7,84.6 550.8,82.5 550.9,82.2 551.0,75.9 551.1,78.5 551.2,81.5 551.4,71.8 551.5,76.2 551.6,87.7 551.7,86.4 551.8,83.0 551.9,79.2 552.0,81.8 552.1,86.3 552.2,82.2 552.3,82.6 552.4,87.7 552.6,86.1 552.7,74.3 552.8,99.2 552.9,89.1 553.0,83.7 553.1,83.3 553.2,86.5 553.3,84.0 553.4,81.0 553.5,80.2 553.7,86.9 553.8,92.7 553.9,89.5 554.0,89.2 554.1,84.8 554.2,86.1 554.3,88.4 554.4,93.0 554.5,92.4 554.6,82.5 554.7,79.8 554.9,84.3 555.0,77.8 555.1,86.9 555.2,81.8 555.3,82.4 555.4,78.0 555.5,76.6 555.6,76.2 555.7,91.0 555.8,87.1 555.9,88.4 556.1,85.0 556.2,85.0 556.3,84.0 556.4,87.7 556.5,85.2 556.6,80.2 556.7,79.3 556.8,75.5 556.9,77.0 557.0,85.7 557.1,79.0 557.3,83.6 557.4,71.1 557.5,81.7 557.6,86.3 557.7,72.4 557.8,71.0 557.9,83.0 558.0,83.8 558.1,87.4 558.2,82.4 558.3,85.7 558.5,86.2 558.6,71.9 558.7,77.7 558.8,80.0 558.9,78.6 559.0,80.8 559.1,84.5 559.2,76.2 559.3,84.5 559.4,93.9 559.6,86.7 559.7,86.8 559.8,86.5 559.9,93.5 560.0,90.0 560.1,89.4 560.2,81.4 560.3,85.6 560.4,87.3 560.5,89.9 560.6,91.8 560.8,91.8 560.9,93.0 561.0,86.7 561.1,82.1 561.2,91.1 561.3,88.6 561.4,84.6 561.5,82.9 561.6,83.5 561.7,86.3 561.8,80.0 562.0,84.7 562.1,85.2 562.2,90.4 562.3,86.1 562.4,84.7 562.5,87.1 562.6,91.5 562.7,83.2 562.8,88.1 562.9,87.7 563.0,78.8 563.2,78.0 563.3,84.2 563.4,75.4 563.5,72.2 563.6,78.1 563.7,85.0 563.8,85.7 563.9,81.2 564.0,94.7 564.1,85.7 564.2,90.1 564.4,81.2 564.5,88.8 564.6,96.1 564.7,87.2 564.8,81.7 564.9,87.4 565.0,87.6 565.1,94.6 565.2,89.9 565.3,89.2 565.4,86.9 565.6,81.6 565.7,92.0 565.8,86.7 565.9,90.7 566.0,80.0 566.1,82.5 566.2,89.3 566.3,90.9 566.4,90.6 566.5,88.9 566.7,87.2 566.8,78.0 566.9,94.2 567.0,82.8 567.1,73.9 567.2,75.9 567.3,71.9 567.4,82.1 567.5,78.1 567.6,79.5 567.7,77.4 567.9,82.4 568.0,80.9 568.1,75.7 568.2,78.7 568.3,83.3 568.4,79.1 568.5,87.7 568.6,80.6 568.7,85.6 568.8,86.0 568.9,81.4 569.1,87.6 569.2,78.9 569.3,86.0 569.4,82.6 569.5,86.8 569.6,86.4 569.7,84.7 569.8,91.8 569.9,80.6 570.0,84.9 570.1,88.8 570.3,89.5 570.4,87.8 570.5,85.1 570.6,80.8 570.7,81.3 570.8,76.5 570.9,82.2 571.0,72.7 571.1,78.7 571.2,84.8 571.3,85.2 571.5,91.2 571.6,86.0 571.7,78.5 571.8,84.9 571.9,72.5 572.0,82.9 572.1,85.2 572.2,80.5 572.3,85.5 572.4,89.8 572.6,84.2 572.7,89.6 572.8,84.5 572.9,90.2 573.0,89.0 573.1,81.0 573.2,87.2 573.3,88.6 573.4,77.9 573.5,84.7 573.6,98.6 573.8,84.6 573.9,94.5 574.0,81.0 574.1,77.8 574.2,87.6 574.3,85.2 574.4,94.3 574.5,82.9 574.6,92.8 574.7,93.7 574.8,97.6 575.0,95.3 575.1,90.8 575.2,93.2 575.3,89.4 575.4,87.3 575.5,91.0 575.6,87.7 575.7,87.5 575.8,94.1 575.9,93.7 576.0,93.1 576.2,86.0 576.3,77.5 576.4,85.0 576.5,95.7 576.6,86.5 576.7,88.6 576.8,88.3 576.9,80.9 577.0,84.9 577.1,82.3 577.2,85.5 577.4,84.1 577.5,76.4 577.6,85.9 577.7,85.8 577.8,83.5 577.9,88.7 578.0,88.7 578.1,92.7 578.2,74.3 578.3,84.4 578.4,91.5 578.6,80.5 578.7,87.0 578.8,83.0 578.9,78.5 579.0,93.7 579.1,84.2 579.2,87.4 579.3,86.7 579.4,84.7 579.5,80.6 579.7,78.9 579.8,86.8 579.9,83.4 580.0,92.6 580.1,85.2 580.2,90.9 580.3,85.0 580.4,74.2 580.5,85.0 580.6,88.2 580.7,87.1 580.9,91.2 581.0,86.0 581.1,83.4 581.2,82.1 581.3,82.1 581.4,89.8 581.5,79.0 581.6,84.4 581.7,90.1 581.8,93.4 581.9,92.8 582.1,83.8 582.2,83.7 582.3,84.6 582.4,80.5 582.5,78.5 582.6,79.1 582.7,80.1 582.8,78.4 582.9,90.4 583.0,78.9 583.1,82.9 583.3,79.3 583.4,88.4 583.5,96.5 583.6,85.5 583.7,92.9 583.8,87.2 583.9,88.1 584.0,86.1 584.1,90.6 584.2,81.9 584.3,84.0 584.5,85.5 584.6,90.1 584.7,82.3 584.8,85.1 584.9,86.1 585.0,88.5 585.1,87.0 585.2,77.1 585.3,87.8 585.4,89.6 585.6,80.9 585.7,89.4 585.8,83.2 585.9,85.4 586.0,76.7 586.1,93.0 586.2,94.1 586.3,84.2 586.4,78.9 586.5,81.7 586.6,86.5 586.8,86.5 586.9,86.6 587.0,92.0 587.1,84.1 587.2,84.3 587.3,84.4 587.4,88.0 587.5,80.4 587.6,90.5 587.7,79.3 587.8,88.1 588.0,79.3 588.1,81.4 588.2,82.9 588.3,78.8 588.4,89.2 588.5,76.6 588.6,73.2 588.7,74.7 588.8,85.8 588.9,77.1 589.0,87.7 589.2,79.3 589.3,70.5 589.4,75.0 589.5,83.0 589.6,78.1 589.7,76.1 589.8,82.9 589.9,83.6 590.0,76.9 590.1,77.3 590.2,82.8 590.4,78.6 590.5,75.5 590.6,81.3 590.7,88.9 590.8,86.5 590.9,83.5 591.0,73.2 591.1,79.3 591.2,73.7 591.3,73.1 591.4,80.0 591.6,74.5 591.7,69.4 591.8,76.5 591.9,66.0 592.0,82.5 592.1,77.6 592.2,79.6 592.3,80.0 592.4,87.0 592.5,79.3 592.7,83.0 592.8,76.7 592.9,75.0 593.0,86.4 593.1,83.8 593.2,91.1 593.3,80.2 593.4,86.4 593.5,77.0 593.6,86.3 593.7,78.8 593.9,84.1 594.0,88.9 594.1,85.5 594.2,90.1 594.3,88.9 594.4,89.2 594.5,79.2 594.6,81.2 594.7,86.5 594.8,83.8 594.9,87.6 595.1,83.1 595.2,91.8 595.3,86.6 595.4,80.7 595.5,91.5 595.6,83.1 595.7,89.8 595.8,97.5 595.9,91.3 596.0,79.0 596.1,76.4 596.3,86.6 596.4,87.9 596.5,84.4 596.6,86.9 596.7,84.5 596.8,83.2 596.9,76.5 597.0,79.0 597.1,92.7 597.2,83.2 597.3,97.1 597.5,82.6 597.6,84.9 597.7,87.6 597.8,87.8 597.9,86.2 598.0,86.1 598.1,78.9 598.2,83.3 598.3,86.1 598.4,79.8 598.6,86.1 598.7,79.3 598.8,83.0 598.9,84.7 599.0,86.5 599.1,82.3 599.2,81.6 599.3,76.2 599.4,82.4 599.5,87.8 599.6,85.3 599.8,89.6 599.9,79.3 600.0,81.3 600.1,72.4 600.2,80.2 600.3,90.0 600.4,78.2 600.5,83.6 600.6,86.4 600.7,81.2 600.8,80.7 601.0,89.9 601.1,89.0 601.2,95.6 601.3,90.8 601.4,90.8 601.5,88.0 601.6,90.7 601.7,85.8 601.8,87.8 601.9,92.9 602.0,89.5 602.2,100.4 602.3,85.8 602.4,92.1 602.5,102.5 602.6,99.3 602.7,94.9 602.8,98.7 602.9,86.1 603.0,88.0 603.1,79.8 603.2,86.6 603.4,86.1 603.5,88.2 603.6,77.3 603.7,86.6 603.8,83.1 603.9,82.7 604.0,76.3 604.1,79.7 604.2,77.1 604.3,83.4 604.4,87.1 604.6,83.9 604.7,80.4 604.8,84.6 604.9,85.8 605.0,91.4 605.1,88.3 605.2,91.3 605.3,73.4 605.4,83.2 605.5,81.7 605.7,82.8 605.8,73.0 605.9,86.1 606.0,80.6 606.1,77.9 606.2,86.0 606.3,91.8 606.4,89.2 606.5,90.7 606.6,86.4 606.7,97.1 606.9,80.7 607.0,86.3 607.1,80.0 607.2,81.3 607.3,88.6 607.4,84.4 607.5,88.8 607.6,83.1 607.7,83.9 607.8,87.6 607.9,78.4 608.1,72.4 608.2,82.7 608.3,82.1 608.4,89.7 608.5,85.6 608.6,75.9 608.7,81.0 608.8,71.5 608.9,78.1 609.0,74.1 609.1,78.1 609.3,75.5 609.4,84.0 609.5,82.6 609.6,82.4 609.7,82.0 609.8,87.4 609.9,79.2 610.0,82.1 610.1,94.7 610.2,76.0 610.3,77.1 610.5,77.7 610.6,79.0 610.7,88.2 610.8,94.4 610.9,92.6 611.0,88.6 611.1,82.0 611.2,87.8 611.3,81.9 611.4,84.7 611.6,79.4 611.7,81.1 611.8,86.6 611.9,85.2 612.0,86.7 612.1,83.1 612.2,78.5 612.3,88.0 612.4,85.8 612.5,83.7 612.6,91.4 612.8,91.9 612.9,88.4 613.0,76.7 613.1,87.5 613.2,84.8 613.3,85.5 613.4,85.5 613.5,88.4 613.6,88.2 613.7,87.0 613.8,89.8 614.0,81.5 614.1,82.4 614.2,91.7 614.3,93.8 614.4,86.2 614.5,82.8 614.6,86.3 614.7,83.7 614.8,82.8 614.9,82.1 615.0,82.3 615.2,85.4 615.3,78.0 615.4,83.8 615.5,83.7 615.6,84.0 615.7,81.2 615.8,90.2 615.9,80.9 616.0,81.5 616.1,87.1 616.2,84.5 616.4,80.8 616.5,78.3 616.6,83.5 616.7,86.8 616.8,92.6 616.9,74.2 617.0,77.5 617.1,85.5 617.2,85.3 617.3,85.2 617.4,86.1 617.6,89.3 617.7,83.7 617.8,82.3 617.9,73.6 618.0,81.4 618.1,82.5 618.2,82.7 618.3,76.5 618.4,76.8 618.5,88.9 618.7,82.5 618.8,84.1 618.9,93.6 619.0,84.7 619.1,83.1 619.2,87.9 619.3,84.3 619.4,88.8 619.5,92.5 619.6,84.5 619.7,79.6 619.9,83.9 620.0,88.0 620.1,92.6 620.2,91.1 620.3,88.8 620.4,88.9 620.5,79.1 620.6,73.4 620.7,85.2 620.8,81.5 620.9,83.0 621.1,79.1 621.2,87.1 621.3,79.2 621.4,82.8 621.5,94.6 621.6,84.9 621.7,80.4 621.8,85.0 621.9,80.6 622.0,84.5 622.1,86.4 622.3,84.1 622.4,84.5 622.5,81.6 622.6,83.2 622.7,83.5 622.8,93.8 622.9,86.3 623.0,72.2 623.1,80.8 623.2,80.2 623.3,83.0 623.5,81.4 623.6,82.5 623.7,81.2 623.8,82.3 623.9,89.1 624.0,86.3 624.1,85.2 624.2,83.8 624.3,85.7 624.4,80.6 624.6,78.9 624.7,81.9 624.8,83.0 624.9,80.6 625.0,81.9 625.1,82.3 625.2,88.3 625.3,70.4 625.4,74.1 625.5,81.2 625.6,68.7 625.8,79.8 625.9,82.5 626.0,73.9 626.1,76.6 626.2,80.1 626.3,75.6 626.4,84.8 626.5,82.6 626.6,70.7 626.7,67.4 626.8,78.5 627.0,70.3 627.1,75.4 627.2,76.5 627.3,76.4 627.4,74.3 627.5,78.9 627.6,85.3 627.7,79.2 627.8,78.9 627.9,77.2 628.0,79.1 628.2,78.1 628.3,78.9 628.4,73.2 628.5,68.4 628.6,80.2 628.7,74.0 628.8,76.6 628.9,79.6 629.0,79.5 629.1,67.3 629.2,72.5 629.4,81.2 629.5,81.5 629.6,77.4 629.7,82.6 629.8,72.2 629.9,70.3 630.0,74.1 630.1,80.4 630.2,88.1 630.3,77.9 630.4,77.6 630.6,71.0 630.7,83.3 630.8,78.1 630.9,81.3 631.0,87.1 631.1,78.0 631.2,77.3 631.3,81.6 631.4,81.1 631.5,78.7 631.7,83.4 631.8,77.4 631.9,74.3 632.0,71.2 632.1,71.8 632.2,70.2 632.3,84.8 632.4,82.0 632.5,78.2 632.6,75.7 632.7,71.1 632.9,76.8 633.0,79.3 633.1,84.0 633.2,75.7 633.3,87.8 633.4,81.1 633.5,80.5 633.6,76.5 633.7,72.2 633.8,82.6 633.9,80.1 634.1,75.8 634.2,78.1 634.3,84.3 634.4,82.8 634.5,78.7 634.6,86.6 634.7,88.5 634.8,83.9 634.9,89.6 635.0,94.3 635.1,85.9 635.3,87.5 635.4,80.6 635.5,80.2 635.6,87.6 635.7,77.6 635.8,88.8 635.9,78.2 636.0,80.1 636.1,72.9 636.2,80.7 636.3,88.0 636.5,82.3 636.6,79.5 636.7,84.5 636.8,76.6 636.9,79.3 637.0,92.4 637.1,80.2 637.2,85.7 637.3,75.5 637.4,80.2 637.6,86.8 637.7,72.9 637.8,74.6 637.9,69.4 638.0,79.6 638.1,72.9 638.2,80.1 638.3,85.5 638.4,79.3 638.5,76.9 638.6,84.6 638.8,71.3 638.9,80.2 639.0,80.7 639.1,76.5 639.2,86.1 639.3,79.5 639.4,76.6 639.5,77.7 639.6,80.6 639.7,79.5 639.8,83.5 640.0,82.7 640.1,81.8 640.2,79.7 640.3,78.3 640.4,86.0 640.5,82.4 640.6,84.9 640.7,72.2 640.8,76.8 640.9,79.4 641.0,85.4 641.2,78.9 641.3,79.7 641.4,82.7 641.5,79.8 641.6,80.9 641.7,80.6 641.8,83.3 641.9,72.6 642.0,89.1 642.1,81.0 642.2,82.9 642.4,75.1 642.5,77.1 642.6,81.0 642.7,84.4 642.8,78.4 642.9,78.9 643.0,81.2 643.1,85.5 643.2,94.3 643.3,79.7 643.4,78.7 643.6,78.2 643.7,79.7 643.8,87.1 643.9,84.5 644.0,86.6 644.1,95.6 644.2,91.9 644.3,90.0 644.4,85.6 644.5,87.8 644.7,87.1 644.8,91.0 644.9,93.6 645.0,88.0 645.1,89.1 645.2,91.1 645.3,84.0 645.4,93.1 645.5,90.8 645.6,84.1 645.7,83.7 645.9,80.7 646.0,79.0 646.1,85.8 646.2,87.3 646.3,74.9 646.4,85.3 646.5,84.5 646.6,89.1 646.7,92.1 646.8,82.9 646.9,86.1 647.1,90.7 647.2,91.2 647.3,99.8 647.4,90.7 647.5,86.7 647.6,88.7 647.7,87.3 647.8,89.1 647.9,92.9 648.0,87.5 648.1,79.6 648.3,83.6 648.4,88.5 648.5,92.8 648.6,90.1 648.7,86.5 648.8,82.1 648.9,86.5 649.0,90.7 649.1,85.0 649.2,79.8 649.3,85.1 649.5,86.9 649.6,73.4 649.7,82.2 649.8,89.7 649.9,86.7 650.0,85.5 650.1,84.8 650.2,80.3 650.3,80.9 650.4,88.6 650.6,79.7 650.7,79.9 650.8,90.2 650.9,80.5 651.0,90.2 651.1,88.4 651.2,87.1 651.3,88.0 651.4,74.4 651.5,92.8 651.6,90.6 651.8,92.4 651.9,94.5 652.0,103.8 652.1,84.5 652.2,87.1 652.3,100.6 652.4,88.7 652.5,93.8 652.6,92.0 652.7,87.1 652.8,78.7 653.0,85.5 653.1,80.6 653.2,81.8 653.3,79.5 653.4,81.7 653.5,89.2 653.6,80.2 653.7,88.5 653.8,89.2 653.9,83.8 654.0,88.3 654.2,90.6 654.3,86.8 654.4,81.2 654.5,87.9 654.6,84.0 654.7,86.6 654.8,76.4 654.9,89.9 655.0,82.7 655.1,88.7 655.2,83.1 655.4,78.5 655.5,85.5 655.6,99.2 655.7,95.3 655.8,95.0 655.9,90.2 656.0,90.8 656.1,79.4 656.2,91.5 656.3,88.3 656.4,81.8 656.6,82.5 656.7,79.7 656.8,82.3 656.9,81.5 657.0,84.3 657.1,82.7 657.2,81.3 657.3,85.4 657.4,80.5 657.5,78.8 657.7,80.6 657.8,85.5 657.9,86.7 658.0,83.4 658.1,87.1 658.2,85.9 658.3,81.2 658.4,76.2 658.5,82.1 658.6,86.2 658.7,84.0 658.9,79.6 659.0,84.2 659.1,79.5 659.2,84.8 659.3,78.6 659.4,75.6 659.5,76.6 659.6,64.5 659.7,75.6 659.8,89.3 659.9,71.9 660.1,79.3 660.2,69.9 660.3,81.2 660.4,74.3 660.5,76.9 660.6,75.8 660.7,89.0 660.8,85.1 660.9,72.2 661.0,77.5 661.1,78.1 661.3,77.3 661.4,81.5 661.5,76.9 661.6,79.9 661.7,80.8 661.8,81.8 661.9,80.4 662.0,87.7 662.1,74.4 662.2,78.2 662.3,76.4 662.5,81.3 662.6,88.0 662.7,81.6 662.8,80.0 662.9,84.5 663.0,86.7 663.1,79.2 663.2,82.5 663.3,81.6 663.4,83.1 663.6,79.5 663.7,80.6 663.8,81.3 663.9,74.1 664.0,91.8 664.1,83.4 664.2,74.9 664.3,74.5 664.4,85.8 664.5,83.3 664.6,80.0 664.8,82.3 664.9,83.6 665.0,79.0 665.1,77.4 665.2,77.6 665.3,79.6 665.4,80.0 665.5,87.8 665.6,78.8 665.7,81.8 665.8,77.1 666.0,68.9 666.1,74.8 666.2,82.5 666.3,74.7 666.4,78.8 666.5,86.2"/>
<rect x="393.5" y="18.5" width="273.0" height="119.0" fill="none" stroke="#7a7a7a" stroke-width="1.1"/>
<line x1="393.5" y1="137.5" x2="393.5" y2="130.5" stroke="#7a7a7a" stroke-width="1.1"/>
<text x="393.50" y="151.1" font-size="14.2" text-anchor="middle" fill="#111">0</text>
<line x1="448.1" y1="137.5" x2="448.1" y2="130.5" stroke="#7a7a7a" stroke-width="1.1"/>
<text x="448.10" y="151.1" font-size="14.2" text-anchor="middle" fill="#111">20</text>
<line x1="502.7" y1="137.5" x2="502.7" y2="130.5" stroke="#7a7a7a" stroke-width="1.1"/>
<text x="502.70" y="151.1" font-size="14.2" text-anchor="middle" fill="#111">40</text>
<line x1="557.3" y1="137.5" x2="557.3" y2="130.5" stroke="#7a7a7a" stroke-width="1.1"/>
<text x="557.30" y="151.1" font-size="14.2" text-anchor="middle" fill="#111">60</text>
<line x1="611.9" y1="137.5" x2="611.9" y2="130.5" stroke="#7a7a7a" stroke-width="1.1"/>
<text x="611.90" y="151.1" font-size="14.2" text-anchor="middle" fill="#111">80</text>
<line x1="666.5" y1="137.5" x2="666.5" y2="130.5" stroke="#7a7a7a" stroke-width="1.1"/>
<text x="666.50" y="151.1" font-size="14.2" text-anchor="middle" fill="#111">100</text>
<line x1="393.5" y1="137.5" x2="400.5" y2="137.5" stroke="#7a7a7a" stroke-width="1.1"/>
<text x="390" y="143.10" font-size="14.2" text-anchor="end" fill="#111">170</text>
<line x1="393.5" y1="113.7" x2="400.5" y2="113.7" stroke="#7a7a7a" stroke-width="1.1"/>
<text x="390" y="119.30" font-size="14.2" text-anchor="end" fill="#111">180</text>
<line x1="393.5" y1="89.9" x2="400.5" y2="89.9" stroke="#7a7a7a" stroke-width="1.1"/>
<text x="390" y="95.50" font-size="14.2" text-anchor="end" fill="#111">190</text>
<line x1="393.5" y1="66.1" x2="400.5" y2="66.1" stroke="#7a7a7a" stroke-width="1.1"/>
<text x="390" y="71.70" font-size="14.2" text-anchor="end" fill="#111">200</text>
<line x1="393.5" y1="42.3" x2="400.5" y2="42.3" stroke="#7a7a7a" stroke-width="1.1"/>
<text x="390" y="47.90" font-size="14.2" text-anchor="end" fill="#111">210</text>
<line x1="393.5" y1="18.5" x2="400.5" y2="18.5" stroke="#7a7a7a" stroke-width="1.1"/>
<text x="390" y="24.10" font-size="14.2" text-anchor="end" fill="#111">220</text>
<text x="530" y="165" font-size="14.5" text-anchor="middle" fill="#111">Time (ns)</text>
<text transform="translate(363,77.8) rotate(-90)" font-size="14.5" text-anchor="middle" fill="#111">SASA (nm<tspan dx="0.5" dy="-7.5" font-size="10">2</tspan><tspan dx="0.6" dy="7.5">)</tspan></text>
<text x="358.8" y="13.4" font-size="14.5" font-weight="bold" fill="#111">B</text>
<line x1="560" y1="28" x2="577.5" y2="28" stroke="#000" stroke-width="2.5"/>
<line x1="561" y1="37.3" x2="578" y2="37.3" stroke="#ff00ff" stroke-width="2.5"/>
<text x="582.5" y="31.8" font-size="9.6" fill="#333">PDK3</text>
<text x="582.5" y="41" font-size="9.75" fill="#333">PDK3-Pcresol</text>
<polyline fill="none" stroke="#7a7a7a" stroke-width="1.1" stroke-opacity="1.0" stroke-linejoin="round" points="44.5,311.5 136.2,201.2 227.8,301.7 319.5,311.5"/>
<polyline fill="none" stroke="#ff80ff" stroke-width="1.1" stroke-opacity="1.0" stroke-linejoin="round" points="44.5,311.5 136.2,213.7 227.8,289.5 319.5,311.5"/>
<rect x="44.5" y="191.5" width="275.0" height="120.0" fill="none" stroke="#7a7a7a" stroke-width="1.1"/>
<line x1="44.5" y1="311.5" x2="44.5" y2="304.5" stroke="#7a7a7a" stroke-width="1.1"/>
<text x="44.50" y="325.4" font-size="14.2" text-anchor="middle" fill="#111">2.1</text>
<line x1="136.16666666666669" y1="311.5" x2="136.16666666666669" y2="304.5" stroke="#7a7a7a" stroke-width="1.1"/>
<text x="136.17" y="325.4" font-size="14.2" text-anchor="middle" fill="#111">2.2</text>
<line x1="227.83333333333334" y1="311.5" x2="227.83333333333334" y2="304.5" stroke="#7a7a7a" stroke-width="1.1"/>
<text x="227.83" y="325.4" font-size="14.2" text-anchor="middle" fill="#111">2.3</text>
<line x1="319.5" y1="311.5" x2="319.5" y2="304.5" stroke="#7a7a7a" stroke-width="1.1"/>
<text x="319.50" y="325.4" font-size="14.2" text-anchor="middle" fill="#111">2.4</text>
<line x1="44.5" y1="311.5" x2="51.5" y2="311.5" stroke="#7a7a7a" stroke-width="1.1"/>
<text x="41.5" y="316.30" font-size="14.2" text-anchor="end" fill="#111">0</text>
<line x1="44.5" y1="287.5" x2="51.5" y2="287.5" stroke="#7a7a7a" stroke-width="1.1"/>
<text x="41.5" y="292.30" font-size="14.2" text-anchor="end" fill="#111">2</text>
<line x1="44.5" y1="263.5" x2="51.5" y2="263.5" stroke="#7a7a7a" stroke-width="1.1"/>
<text x="41.5" y="268.30" font-size="14.2" text-anchor="end" fill="#111">4</text>
<line x1="44.5" y1="239.5" x2="51.5" y2="239.5" stroke="#7a7a7a" stroke-width="1.1"/>
<text x="41.5" y="244.30" font-size="14.2" text-anchor="end" fill="#111">6</text>
<line x1="44.5" y1="215.5" x2="51.5" y2="215.5" stroke="#7a7a7a" stroke-width="1.1"/>
<text x="41.5" y="220.30" font-size="14.2" text-anchor="end" fill="#111">8</text>
<line x1="44.5" y1="191.5" x2="51.5" y2="191.5" stroke="#7a7a7a" stroke-width="1.1"/>
<text x="41.5" y="196.30" font-size="14.2" text-anchor="end" fill="#111">10</text>
<text x="182" y="338.5" font-size="14.5" text-anchor="middle" fill="#111">Rg (nm)</text>
<text transform="translate(22.5,251) rotate(-90)" font-size="14.5" text-anchor="middle" fill="#111">PDF</text>
<text x="17.3" y="185.6" font-size="14" font-weight="bold" fill="#111">C</text>
<polyline fill="none" stroke="#222" stroke-width="0.6" stroke-opacity="1.0" stroke-linejoin="round" points="440.0,310.7 440.6,310.5 441.2,310.7 441.8,308.9 442.4,310.7 443.0,309.6 443.6,310.7 444.2,309.7 444.8,310.7 445.4,310.2 446.0,310.7 446.6,310.4 447.2,310.7 447.8,309.9 448.4,310.7 449.0,310.7 449.6,310.7 450.2,309.8 450.8,309.6 451.4,310.7 452.0,310.7 452.6,308.1 453.2,310.7 453.8,307.8 454.4,308.0 455.0,307.5 455.6,308.3 456.2,306.9 456.8,307.7 457.4,308.5 458.0,307.6 458.6,307.2 459.2,307.9 459.8,306.1 460.4,309.8 461.0,302.7 461.6,307.0 462.2,304.2 462.8,302.7 463.4,303.5 464.0,304.9 464.6,303.3 465.2,305.2 465.8,298.9 466.4,302.4 467.0,301.2 467.6,301.8 468.2,296.0 468.8,302.0 469.4,293.2 470.0,301.8 470.6,295.7 471.2,295.5 471.8,295.1 472.4,299.8 473.0,289.0 473.6,299.8 474.2,293.2 474.8,293.2 475.4,294.7 476.0,290.1 476.6,288.7 477.2,292.5 477.8,289.0 478.4,295.9 479.0,282.6 479.6,289.0 480.2,286.4 480.8,284.8 481.4,281.2 482.0,281.4 482.6,277.9 483.2,281.6 483.8,271.1 484.4,278.6 485.0,275.6 485.6,274.0 486.2,270.8 486.8,274.7 487.4,274.9 488.0,269.8 488.6,272.0 489.2,272.4 489.8,265.5 490.4,269.0 491.0,264.7 491.6,267.3 492.2,265.9 492.8,262.1 493.4,260.4 494.0,258.6 494.6,257.3 495.2,264.9 495.8,260.2 496.4,260.9 497.0,263.1 497.6,266.8 498.2,248.0 498.8,262.1 499.4,250.9 500.0,261.7 500.6,246.7 501.2,257.1 501.8,255.4 502.4,260.2 503.0,252.0 503.6,259.8 504.2,256.3 504.8,263.6 505.4,251.1 506.0,252.6 506.6,249.1 507.2,257.0 507.8,257.0 508.4,253.9 509.0,252.1 509.6,256.8 510.2,254.5 510.8,250.2 511.4,254.9 512.0,265.9 512.6,262.4 513.2,257.0 513.8,259.0 514.4,263.1 515.0,260.8 515.6,270.5 516.2,262.0 516.8,263.2 517.4,262.2 518.0,262.6 518.6,253.3 519.2,269.3 519.8,263.1 520.4,273.0 521.0,271.4 521.6,268.4 522.2,264.5 522.8,268.2 523.4,266.4 524.0,274.6 524.6,261.4 525.2,261.8 525.8,268.9 526.4,274.5 527.0,268.0 527.6,271.2 528.2,270.8 528.8,276.3 529.4,274.5 530.0,272.6 530.6,271.8 531.2,279.2 531.8,279.2 532.4,275.1 533.0,269.9 533.6,285.7 534.2,276.0 534.8,280.1 535.4,285.2 536.0,287.5 536.6,276.5 537.2,287.9 537.8,285.1 538.4,291.4 539.0,284.9 539.6,285.5 540.2,286.6 540.8,284.8 541.4,283.4 542.0,290.4 542.6,285.5 543.2,290.8 543.8,290.6 544.4,299.7 545.0,289.9 545.6,296.6 546.2,290.5 546.8,295.4 547.4,288.1 548.0,292.3 548.6,287.2 549.2,297.0 549.8,289.8 550.4,294.1 551.0,290.2 551.6,296.0 552.2,291.0 552.8,296.7 553.4,292.3 554.0,292.8 554.6,290.8 555.2,298.2 555.8,295.5 556.4,301.4 557.0,295.2 557.6,301.3 558.2,296.3 558.8,296.5 559.4,293.1 560.0,299.8 560.6,298.7 561.2,296.9 561.8,296.0 562.4,296.7 563.0,301.6 563.6,300.3 564.2,296.4 564.8,300.5 565.4,297.0 566.0,300.2 566.6,302.7 567.2,305.2 567.8,300.5 568.4,300.7 569.0,296.7 569.6,297.5 570.2,298.2 570.8,304.7 571.4,303.8 572.0,304.3 572.6,303.7 573.2,302.4 573.8,298.2 574.4,300.2 575.0,301.4 575.6,303.1 576.2,298.5 576.8,306.6 577.4,305.2 578.0,305.9 578.6,300.5 579.2,307.8 579.8,303.6 580.4,305.2 581.0,305.6 581.6,303.9 582.2,299.9 582.8,306.7 583.4,306.5 584.0,308.1 584.6,306.9 585.2,307.8 585.8,304.8 586.4,308.4 587.0,306.7 587.6,310.6 588.2,306.2 588.8,309.6 589.4,309.1 590.0,309.8 590.6,306.4 591.2,306.8 591.8,308.7 592.4,310.3 593.0,309.6 593.6,309.7 594.2,308.8 594.8,310.7 595.4,308.2 596.0,310.4 596.6,309.0 597.2,310.7 597.8,307.5 598.4,310.7 599.0,309.5 599.6,310.7 600.2,309.3 600.8,310.0 601.4,309.7 602.0,310.0 602.6,310.3 603.2,310.6 603.8,309.4 604.4,310.4 605.0,310.7 605.6,310.7 606.2,310.7 606.8,310.6 607.4,309.5 608.0,310.5 608.6,310.0 609.2,310.7 609.8,310.4 610.4,310.7 611.0,310.4 611.6,310.7"/>
<polyline fill="none" stroke="#ff00ff" stroke-width="0.6" stroke-opacity="1.0" stroke-linejoin="round" points="465.0,310.7 465.6,310.2 466.2,310.7 466.8,309.1 467.4,310.7 468.0,310.1 468.6,310.7 469.2,309.8 469.8,310.7 470.4,310.7 471.0,310.4 471.6,310.6 472.2,310.4 472.8,308.2 473.4,310.7 474.0,309.4 474.6,310.0 475.2,309.6 475.8,309.9 476.4,310.0 477.0,310.5 477.6,307.9 478.2,310.5 478.8,308.1 479.4,309.0 480.0,305.6 480.6,306.1 481.2,307.2 481.8,307.6 482.4,304.5 483.0,304.0 483.6,299.5 484.2,308.4 484.8,303.2 485.4,304.5 486.0,299.2 486.6,299.4 487.2,299.3 487.8,301.3 488.4,294.0 489.0,297.9 489.6,299.0 490.2,293.5 490.8,291.6 491.4,297.3 492.0,290.6 492.6,292.0 493.2,285.4 493.8,289.2 494.4,290.4 495.0,285.1 495.6,291.9 496.2,288.1 496.8,276.7 497.4,284.7 498.0,272.9 498.6,285.8 499.2,276.6 499.8,269.0 500.4,271.6 501.0,277.2 501.6,263.6 502.2,266.8 502.8,262.6 503.4,264.5 504.0,253.8 504.6,262.9 505.2,251.0 505.8,257.9 506.4,254.0 507.0,251.8 507.6,238.5 508.2,237.9 508.8,229.3 509.4,235.1 510.0,232.6 510.6,222.1 511.2,227.1 511.8,223.2 512.4,222.5 513.0,220.9 513.6,212.2 514.2,223.0 514.8,210.3 515.4,226.8 516.0,211.1 516.6,216.7 517.2,215.8 517.8,224.6 518.4,205.4 519.0,219.2 519.6,205.7 520.2,223.3 520.8,208.3 521.4,214.2 522.0,218.4 522.6,220.9 523.2,218.2 523.8,220.8 524.4,226.7 525.0,225.4 525.6,220.3 526.2,228.8 526.8,220.8 527.4,224.1 528.0,227.5 528.6,237.2 529.2,236.6 529.8,233.7 530.4,233.6 531.0,241.3 531.6,231.5 532.2,236.5 532.8,247.3 533.4,247.0 534.0,246.4 534.6,247.0 535.2,253.9 535.8,257.5 536.4,249.0 537.0,268.7 537.6,259.5 538.2,263.4 538.8,268.9 539.4,273.3 540.0,267.5 540.6,275.6 541.2,277.1 541.8,285.8 542.4,280.7 543.0,287.3 543.6,287.7 544.2,291.0 544.8,283.8 545.4,294.4 546.0,286.5 546.6,294.1 547.2,291.8 547.8,299.9 548.4,294.0 549.0,299.4 549.6,295.9 550.2,304.6 550.8,296.8 551.4,299.3 552.0,299.8 552.6,304.9 553.2,304.9 553.8,310.7 554.4,305.5 555.0,307.3 555.6,306.9 556.2,308.8 556.8,308.1 557.4,309.6 558.0,306.5 558.6,310.7 559.2,309.7 559.8,310.4 560.4,308.7 561.0,310.7 561.6,310.1 562.2,310.7 562.8,310.2 563.4,310.7 564.0,308.4 564.6,310.6 565.2,310.7 565.8,310.7 566.4,309.3 567.0,310.7 567.6,310.1 568.2,310.7 568.8,309.4 569.4,310.7 570.0,309.5 570.6,310.7 571.2,308.9 571.8,310.6"/>
<rect x="396.5" y="190.5" width="277.0" height="120.0" fill="none" stroke="#7a7a7a" stroke-width="1.1"/>
<line x1="396.5" y1="310.5" x2="396.5" y2="303.5" stroke="#7a7a7a" stroke-width="1.1"/>
<text x="396.50" y="326" font-size="14.2" text-anchor="middle" fill="#111">170</text>
<line x1="451.9" y1="310.5" x2="451.9" y2="303.5" stroke="#7a7a7a" stroke-width="1.1"/>
<text x="451.90" y="326" font-size="14.2" text-anchor="middle" fill="#111">180</text>
<line x1="507.3" y1="310.5" x2="507.3" y2="303.5" stroke="#7a7a7a" stroke-width="1.1"/>
<text x="507.30" y="326" font-size="14.2" text-anchor="middle" fill="#111">190</text>
<line x1="562.7" y1="310.5" x2="562.7" y2="303.5" stroke="#7a7a7a" stroke-width="1.1"/>
<text x="562.70" y="326" font-size="14.2" text-anchor="middle" fill="#111">200</text>
<line x1="618.1" y1="310.5" x2="618.1" y2="303.5" stroke="#7a7a7a" stroke-width="1.1"/>
<text x="618.10" y="326" font-size="14.2" text-anchor="middle" fill="#111">210</text>
<line x1="673.5" y1="310.5" x2="673.5" y2="303.5" stroke="#7a7a7a" stroke-width="1.1"/>
<text x="673.50" y="326" font-size="14.2" text-anchor="middle" fill="#111">220</text>
<line x1="396.5" y1="310.5" x2="403.5" y2="310.5" stroke="#7a7a7a" stroke-width="1.1"/>
<text x="393" y="315.30" font-size="14.2" text-anchor="end" fill="#111">0</text>
<line x1="396.5" y1="280.5" x2="403.5" y2="280.5" stroke="#7a7a7a" stroke-width="1.1"/>
<text x="393" y="285.30" font-size="14.2" text-anchor="end" fill="#111">0.05</text>
<line x1="396.5" y1="250.5" x2="403.5" y2="250.5" stroke="#7a7a7a" stroke-width="1.1"/>
<text x="393" y="255.30" font-size="14.2" text-anchor="end" fill="#111">0.1</text>
<line x1="396.5" y1="220.5" x2="403.5" y2="220.5" stroke="#7a7a7a" stroke-width="1.1"/>
<text x="393" y="225.30" font-size="14.2" text-anchor="end" fill="#111">0.15</text>
<line x1="396.5" y1="190.5" x2="403.5" y2="190.5" stroke="#7a7a7a" stroke-width="1.1"/>
<text x="393" y="195.30" font-size="14.2" text-anchor="end" fill="#111">0.2</text>
<text x="535.5" y="344.6" font-size="14.5" text-anchor="middle" fill="#111">SASA (nm<tspan dx="0.5" dy="-8" font-size="10">2</tspan><tspan dx="0.6" dy="8">)</tspan></text>
<text transform="translate(364.6,250.3) rotate(-90)" font-size="14.5" text-anchor="middle" fill="#111">PDF</text>
<text x="360.8" y="189.5" font-size="14" font-weight="bold" fill="#111">D</text>
</svg></body></html>
